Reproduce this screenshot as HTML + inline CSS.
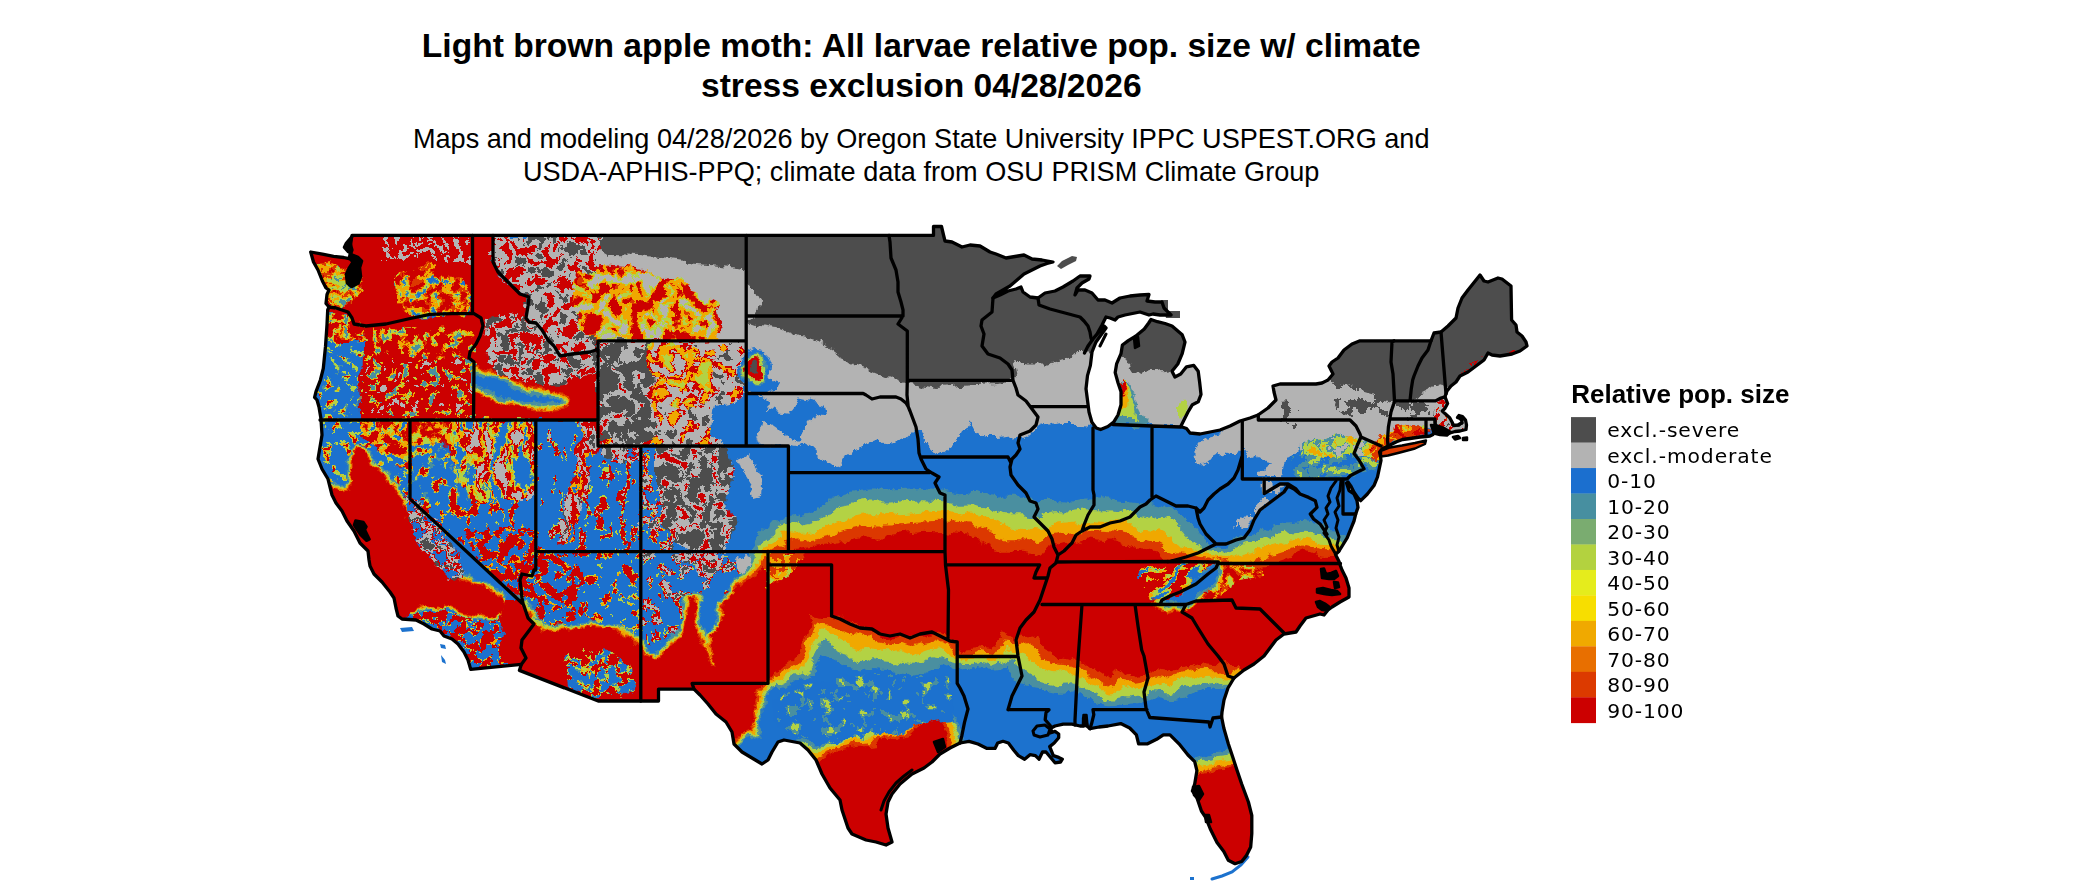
<!DOCTYPE html>
<html><head><meta charset="utf-8"><style>
html,body{margin:0;padding:0;background:#fff;width:2100px;height:892px;overflow:hidden}
svg{position:absolute;left:0;top:0}
.t{font-family:"Liberation Sans",Arial,sans-serif;font-weight:bold;font-size:33.6px;fill:#000}
.s{font-family:"Liberation Sans",Arial,sans-serif;font-size:27.1px;fill:#000}
.lt{font-family:"Liberation Sans",Arial,sans-serif;font-weight:bold;font-size:26px;fill:#000}
.lg{font-family:"DejaVu Sans",sans-serif;font-size:20.3px;letter-spacing:0.9px;fill:#000}
</style></head><body>
<svg width="2100" height="892" viewBox="0 0 2100 892">
<defs><clipPath id="us"><path d="M352,235.4 L933.5,235.4 L933.5,226.5 L941.5,226.5 L943.5,235 L945,241 L952,242 L962,247 L970,245 L980,246 L990,252 L996,254 L1006,258 L1018,256 L1024,255 L1032,259 L1042,260 L1053,262 L1047,263.5 L1040,266 L1024,274 L1010,286 L996,294 L993,298 L1000,295 L1008,291 L1016,289 L1021,287 L1023,292 L1030,297 L1038,298 L1045,293 L1055,291 L1063,287 L1073,281 L1080,276 L1090,276 L1089,279 L1082,283 L1077,288 L1075,295 L1078,290 L1085,290 L1092,293 L1098,300 L1105,300 L1112,303 L1120,298 L1130,296 L1140,295 L1149,294.5 L1147,301 L1155,302 L1162,302 L1164,308 L1168,312 L1171,315 L1160,315 L1153,314 L1149,315 L1140,312 L1135,313 L1125,315 L1118,317 L1115,320 L1110,318 L1106,317 L1102,325 L1097,334 L1092,340 L1087,348 L1084.5,353 L1088,346 L1093,339 L1099,332 L1104,326 L1106,328 L1101,335 L1096,342 L1092,352 L1090.4,365.4 L1087.5,375.6 L1086,388.7 L1087.5,400.3 L1089,412 L1091.9,422.2 L1096.2,428 L1100.6,429.5 L1107.9,426.5 L1113.7,422.2 L1118,415 L1121,404.7 L1121,391.6 L1118,382.8 L1115.2,372.6 L1116.6,363.9 L1121,353.7 L1122.4,345 L1128.3,340.6 L1135.6,336.2 L1144.3,329 L1148.7,323 L1151,319.5 L1157.4,321.7 L1165,323.5 L1172,326 L1182.2,334.8 L1185,342 L1182.2,353.7 L1177.8,364 L1172,371.2 L1174.9,377 L1180.7,374 L1186.5,366.8 L1193.8,365.4 L1198.2,371.2 L1199.7,382.8 L1201,394.5 L1198.2,401.8 L1192.4,404.7 L1188,412 L1183.6,420.7 L1180.7,426.5 L1186.5,428.5 L1190,433 L1200,434 L1210,432 L1220,430 L1230,426 L1240,421 L1250,418 L1258,415 L1268,408 L1276,400 L1274,392 L1273,386 L1280,384 L1300,384 L1316,384 L1322,383 L1328,380 L1333,374 L1329,366 L1332,362 L1338,358 L1344,350 L1352,344 L1360,340.8 L1431,340.8 L1434,333 L1441,332 L1448,326 L1456,318 L1458,308 L1462,298 L1468,290 L1480,275 L1484,281 L1488,282 L1498,278 L1502,279 L1511,286 L1511.6,320 L1516,325 L1517,332 L1522,336 L1526,342 L1527,346 L1520,351 L1512,354 L1500,356 L1492,355 L1488,353 L1484,360 L1476,366 L1468,372 L1460,376 L1456,382 L1451,386 L1447,391 L1445,396.8 L1447.6,403.5 L1445,408.3 L1442.3,411 L1445,413.6 L1449.7,417.7 L1452,422 L1453.5,425.5 L1458,425 L1461.5,423 L1462,420.5 L1460,418.5 L1457.5,417.5 L1459,415.5 L1462.5,416.5 L1465.5,420 L1466.5,425 L1466,429.5 L1460,431 L1455,431.5 L1450,433 L1447.6,433 L1441,431 L1436.2,428.4 L1435,431 L1433,434.5 L1430,436 L1426,436.5 L1420,437 L1410,438.5 L1402.5,439.5 L1396.6,441.7 L1388,446 L1382,449 L1379.5,452 L1380.5,456 L1381,460.4 L1379.2,468.8 L1377.5,477 L1374,485.6 L1367.4,494 L1360.7,500.7 L1358,498 L1354,492.3 L1350.6,485.6 L1348,482 L1346.5,483 L1349,490.6 L1354,494 L1357,500.7 L1358,507.4 L1355.7,514 L1354,521 L1350.6,529.3 L1347.3,537.7 L1342.2,546 L1338.9,551.2 L1335.5,554.5 L1338.9,561.2 L1340.5,566 L1342,570 L1346,578 L1349,588 L1349,597 L1340,602 L1332,607 L1328,610 L1324,615 L1320,614 L1306,618 L1300,626 L1296,632 L1290,633 L1284,634 L1276,640 L1270,648 L1264,656 L1254,664 L1244,670 L1234,678 L1228,688 L1224,700 L1222,712 L1221.6,717 L1223.8,728 L1228.3,743.8 L1232.8,757.2 L1237.2,770.7 L1241.7,784 L1248.4,802 L1251.8,815.5 L1251.8,833.5 L1250.7,846.9 L1246.2,855.9 L1241.7,861.5 L1235,863.7 L1228.3,860.3 L1223.8,851.4 L1217,842.4 L1210.3,829 L1205.9,817.8 L1201.4,811 L1196.9,797.6 L1192.4,790.9 L1194.7,784 L1196.9,770.7 L1194.7,761.7 L1188,755 L1179,743.8 L1170,734.8 L1163.3,734.8 L1156.6,739.3 L1147.6,743.8 L1138.6,743.8 L1136.4,734.8 L1129.7,728 L1120.7,723.6 L1108,726 L1099,727 L1090,728.7 L1087,726 L1085.5,718 L1083.5,718 L1083.5,726 L1080,726 L1072,724.2 L1063.2,724.2 L1055,726 L1051.5,727.8 L1050,733 L1055,731.4 L1058.7,734 L1058.7,737.7 L1054.2,743 L1049.7,746.6 L1053.3,755.6 L1058.7,757.4 L1062.3,759.2 L1060.5,762 L1055,762.8 L1046,752 L1042.5,752 L1039,759.2 L1035.4,755.6 L1030,754.7 L1024.6,759.2 L1018.3,755.6 L1013.8,750.2 L1008.4,743 L1003,741.3 L997.7,743 L995,748.4 L987,748.4 L978,744 L969,741.3 L960,743 L950,748 L940,754 L932,762 L924,768 L912,774 L900,784 L892,794 L888,802 L886,814 L888,828 L892,842 L886,845 L876,842 L866,840 L852,834 L848,828 L842,810 L840,800 L830,788 L822,774 L816,760 L808,750 L800,743 L784,740 L778,742 L772,752 L768,760 L762,764 L752,758 L742,752 L734,744 L732,732 L726,722 L716,714 L708,704 L700,695 L694,689.1 L658.5,689.1 L658.5,701 L598.2,701 L519.4,670.4 L521.3,664.4 L470.7,669.4 L468,660 L464,652 L458,644 L452,639 L444,636 L440,631 L432,629 L424,624 L416,620 L402,619 L398,616 L396,608 L394,598 L390,592 L382,582 L374,574 L370,566 L369,560 L368,551 L360,543 L354,531 L347,521 L342,511 L336,503 L332,495 L328,479 L322,469 L318,459 L320,447 L322,435 L321,419 L319,407 L317,400 L314.6,397.4 L316,391.6 L320.4,380 L323.3,368.3 L325.5,346.4 L327,324.6 L327.7,310 L329,307 L326,303.5 L327,294.5 L329,290 L326,288 L322.4,281 L318,270 L313.5,262 L310.7,252 L322.4,254.2 L333.6,256.4 L343.7,257.5 L349,258.6 L352,250 L350,243 L352,236Z"/></clipPath></defs>
<text x="921.3" y="57.3" text-anchor="middle" class="t">Light brown apple moth: All larvae relative pop. size w/ climate</text>
<text x="921.3" y="96.8" text-anchor="middle" class="t">stress exclusion 04/28/2026</text>
<text x="921.2" y="148.1" text-anchor="middle" class="s">Maps and modeling 04/28/2026 by Oregon State University IPPC USPEST.ORG and</text>
<text x="921.2" y="180.5" text-anchor="middle" class="s">USDA-APHIS-PPQ; climate data from OSU PRISM Climate Group</text>
<filter id="disp" x="250" y="200" width="1350" height="700" filterUnits="userSpaceOnUse" color-interpolation-filters="sRGB">
<feTurbulence type="fractalNoise" baseFrequency="0.045" numOctaves="3" seed="5" result="t"/>
<feDisplacementMap in="SourceGraphic" in2="t" scale="16" xChannelSelector="R" yChannelSelector="G" result="d1"/>
<feTurbulence type="fractalNoise" baseFrequency="0.3" numOctaves="1" seed="9" result="t2"/>
<feDisplacementMap in="d1" in2="t2" scale="4" xChannelSelector="R" yChannelSelector="G"/>
</filter>
<g clip-path="url(#us)">
<rect x="250" y="200" width="1350" height="700" fill="#1c72ce"/>
<g filter="url(#disp)">
<filter id="tf1" x="316" y="416" width="98" height="86" filterUnits="userSpaceOnUse" color-interpolation-filters="sRGB"><feTurbulence type="fractalNoise" baseFrequency="0.1" numOctaves="3" seed="3"/><feColorMatrix type="matrix" values="1 0 0 0 0 1 0 0 0 0 1 0 0 0 0 0 0 0 0 1"/><feComponentTransfer><feFuncR type="table" tableValues="0 0 0 0 0.003 0.014 0.047 0.11 0.209 0.331 0.494 0.672 0.802 0.888 0.95 0.984 0.997 1 1 1 1"/><feFuncG type="table" tableValues="0 0 0 0 0.003 0.014 0.047 0.11 0.209 0.331 0.494 0.672 0.802 0.888 0.95 0.984 0.997 1 1 1 1"/><feFuncB type="table" tableValues="0 0 0 0 0.003 0.014 0.047 0.11 0.209 0.331 0.494 0.672 0.802 0.888 0.95 0.984 0.997 1 1 1 1"/></feComponentTransfer><feComponentTransfer><feFuncR type="discrete" tableValues="0.110 0.110 0.110 0.110 0.110 0.110 0.110 0.110 0.110 0.110 0.110 0.110 0.110 0.110 0.110 0.110 0.110 0.110 0.110 0.110 0.110 0.110 0.110 0.110 0.110 0.110 0.110 0.110 0.110 0.110 0.290 0.290 0.702 0.702 0.702 0.702 0.941 0.941 0.800 0.800"/><feFuncG type="discrete" tableValues="0.447 0.447 0.447 0.447 0.447 0.447 0.447 0.447 0.447 0.447 0.447 0.447 0.447 0.447 0.447 0.447 0.447 0.447 0.447 0.447 0.447 0.447 0.447 0.447 0.447 0.447 0.447 0.447 0.447 0.447 0.561 0.561 0.824 0.824 0.824 0.824 0.659 0.659 0.000 0.000"/><feFuncB type="discrete" tableValues="0.808 0.808 0.808 0.808 0.808 0.808 0.808 0.808 0.808 0.808 0.808 0.808 0.808 0.808 0.808 0.808 0.808 0.808 0.808 0.808 0.808 0.808 0.808 0.808 0.808 0.808 0.808 0.808 0.808 0.808 0.627 0.627 0.267 0.267 0.267 0.267 0.000 0.000 0.000 0.000"/><feFuncA type="discrete" tableValues="1.000 1.000 1.000 1.000 1.000 1.000 1.000 1.000 1.000 1.000 1.000 1.000 1.000 1.000 1.000 1.000 1.000 1.000 1.000 1.000 1.000 1.000 1.000 1.000 1.000 1.000 1.000 1.000 1.000 1.000 1.000 1.000 1.000 1.000 1.000 1.000 1.000 1.000 1.000 1.000"/></feComponentTransfer></filter><clipPath id="tc1"><path d="M318,418 L412,418 L412,500 L400,500 L385,480 L372,465 L362,450 L350,455 L348,485 L330,490 L318,460Z"/></clipPath><rect x="316" y="416" width="98" height="86" filter="url(#tf1)" clip-path="url(#tc1)"/>
<filter id="tf2" x="358" y="418" width="54" height="54" filterUnits="userSpaceOnUse" color-interpolation-filters="sRGB"><feTurbulence type="fractalNoise" baseFrequency="0.09" numOctaves="3" seed="5"/><feColorMatrix type="matrix" values="1 0 0 0 0 1 0 0 0 0 1 0 0 0 0 0 0 0 0 1"/><feComponentTransfer><feFuncR type="table" tableValues="0 0 0 0 0.003 0.014 0.047 0.11 0.209 0.331 0.494 0.672 0.802 0.888 0.95 0.984 0.997 1 1 1 1"/><feFuncG type="table" tableValues="0 0 0 0 0.003 0.014 0.047 0.11 0.209 0.331 0.494 0.672 0.802 0.888 0.95 0.984 0.997 1 1 1 1"/><feFuncB type="table" tableValues="0 0 0 0 0.003 0.014 0.047 0.11 0.209 0.331 0.494 0.672 0.802 0.888 0.95 0.984 0.997 1 1 1 1"/></feComponentTransfer><feComponentTransfer><feFuncR type="discrete" tableValues="0.110 0.110 0.110 0.110 0.110 0.702 0.702 0.702 0.702 0.702 0.702 0.941 0.941 0.941 0.941 0.941 0.941 0.941 0.941 0.941 0.941 0.863 0.863 0.863 0.863 0.800 0.800 0.800 0.800 0.800 0.800 0.800 0.800 0.800 0.800 0.800 0.800 0.800 0.800 0.800"/><feFuncG type="discrete" tableValues="0.447 0.447 0.447 0.447 0.447 0.824 0.824 0.824 0.824 0.824 0.824 0.659 0.659 0.659 0.659 0.659 0.659 0.659 0.659 0.659 0.659 0.220 0.220 0.220 0.220 0.000 0.000 0.000 0.000 0.000 0.000 0.000 0.000 0.000 0.000 0.000 0.000 0.000 0.000 0.000"/><feFuncB type="discrete" tableValues="0.808 0.808 0.808 0.808 0.808 0.267 0.267 0.267 0.267 0.267 0.267 0.000 0.000 0.000 0.000 0.000 0.000 0.000 0.000 0.000 0.000 0.000 0.000 0.000 0.000 0.000 0.000 0.000 0.000 0.000 0.000 0.000 0.000 0.000 0.000 0.000 0.000 0.000 0.000 0.000"/><feFuncA type="discrete" tableValues="1.000 1.000 1.000 1.000 1.000 1.000 1.000 1.000 1.000 1.000 1.000 1.000 1.000 1.000 1.000 1.000 1.000 1.000 1.000 1.000 1.000 1.000 1.000 1.000 1.000 1.000 1.000 1.000 1.000 1.000 1.000 1.000 1.000 1.000 1.000 1.000 1.000 1.000 1.000 1.000"/></feComponentTransfer></filter><clipPath id="tc2"><path d="M360,420 L410,420 L410,470 L390,465 L375,445 L360,435Z"/></clipPath><rect x="358" y="418" width="54" height="54" filter="url(#tf2)" clip-path="url(#tc2)"/>
<filter id="tf3" x="408" y="418" width="64" height="89" filterUnits="userSpaceOnUse" color-interpolation-filters="sRGB"><feTurbulence type="fractalNoise" baseFrequency="0.1" numOctaves="3" seed="6"/><feColorMatrix type="matrix" values="1 0 0 0 0 1 0 0 0 0 1 0 0 0 0 0 0 0 0 1"/><feComponentTransfer><feFuncR type="table" tableValues="0 0 0 0 0.003 0.014 0.047 0.11 0.209 0.331 0.494 0.672 0.802 0.888 0.95 0.984 0.997 1 1 1 1"/><feFuncG type="table" tableValues="0 0 0 0 0.003 0.014 0.047 0.11 0.209 0.331 0.494 0.672 0.802 0.888 0.95 0.984 0.997 1 1 1 1"/><feFuncB type="table" tableValues="0 0 0 0 0.003 0.014 0.047 0.11 0.209 0.331 0.494 0.672 0.802 0.888 0.95 0.984 0.997 1 1 1 1"/></feComponentTransfer><feComponentTransfer><feFuncR type="discrete" tableValues="0.110 0.110 0.110 0.110 0.110 0.110 0.110 0.110 0.110 0.110 0.110 0.110 0.110 0.110 0.110 0.110 0.110 0.110 0.110 0.110 0.110 0.110 0.110 0.110 0.110 0.110 0.110 0.290 0.290 0.290 0.290 0.290 0.702 0.702 0.702 0.941 0.941 0.800 0.800 0.800"/><feFuncG type="discrete" tableValues="0.447 0.447 0.447 0.447 0.447 0.447 0.447 0.447 0.447 0.447 0.447 0.447 0.447 0.447 0.447 0.447 0.447 0.447 0.447 0.447 0.447 0.447 0.447 0.447 0.447 0.447 0.447 0.561 0.561 0.561 0.561 0.561 0.824 0.824 0.824 0.659 0.659 0.000 0.000 0.000"/><feFuncB type="discrete" tableValues="0.808 0.808 0.808 0.808 0.808 0.808 0.808 0.808 0.808 0.808 0.808 0.808 0.808 0.808 0.808 0.808 0.808 0.808 0.808 0.808 0.808 0.808 0.808 0.808 0.808 0.808 0.808 0.627 0.627 0.627 0.627 0.627 0.267 0.267 0.267 0.000 0.000 0.000 0.000 0.000"/><feFuncA type="discrete" tableValues="1.000 1.000 1.000 1.000 1.000 1.000 1.000 1.000 1.000 1.000 1.000 1.000 1.000 1.000 1.000 1.000 1.000 1.000 1.000 1.000 1.000 1.000 1.000 1.000 1.000 1.000 1.000 1.000 1.000 1.000 1.000 1.000 1.000 1.000 1.000 1.000 1.000 1.000 1.000 1.000"/></feComponentTransfer></filter><clipPath id="tc3"><path d="M410,420 L450,420 L448,440 L455,470 L470,500 L440,505 L410,500Z"/></clipPath><rect x="408" y="418" width="64" height="89" filter="url(#tf3)" clip-path="url(#tc3)"/>
<filter id="tf4" x="408" y="418" width="130" height="30" filterUnits="userSpaceOnUse" color-interpolation-filters="sRGB"><feTurbulence type="fractalNoise" baseFrequency="0.1" numOctaves="3" seed="4"/><feColorMatrix type="matrix" values="1 0 0 0 0 1 0 0 0 0 1 0 0 0 0 0 0 0 0 1"/><feComponentTransfer><feFuncR type="table" tableValues="0 0 0 0 0.003 0.014 0.047 0.11 0.209 0.331 0.494 0.672 0.802 0.888 0.95 0.984 0.997 1 1 1 1"/><feFuncG type="table" tableValues="0 0 0 0 0.003 0.014 0.047 0.11 0.209 0.331 0.494 0.672 0.802 0.888 0.95 0.984 0.997 1 1 1 1"/><feFuncB type="table" tableValues="0 0 0 0 0.003 0.014 0.047 0.11 0.209 0.331 0.494 0.672 0.802 0.888 0.95 0.984 0.997 1 1 1 1"/></feComponentTransfer><feComponentTransfer><feFuncR type="discrete" tableValues="0.702 0.702 0.702 0.702 0.702 0.702 0.702 0.702 0.941 0.941 0.941 0.941 0.941 0.941 0.941 0.941 0.941 0.941 0.863 0.863 0.863 0.863 0.863 0.863 0.800 0.800 0.800 0.800 0.800 0.800 0.800 0.800 0.800 0.800 0.800 0.800 0.800 0.800 0.800 0.800"/><feFuncG type="discrete" tableValues="0.824 0.824 0.824 0.824 0.824 0.824 0.824 0.824 0.659 0.659 0.659 0.659 0.659 0.659 0.659 0.659 0.659 0.659 0.220 0.220 0.220 0.220 0.220 0.220 0.000 0.000 0.000 0.000 0.000 0.000 0.000 0.000 0.000 0.000 0.000 0.000 0.000 0.000 0.000 0.000"/><feFuncB type="discrete" tableValues="0.267 0.267 0.267 0.267 0.267 0.267 0.267 0.267 0.000 0.000 0.000 0.000 0.000 0.000 0.000 0.000 0.000 0.000 0.000 0.000 0.000 0.000 0.000 0.000 0.000 0.000 0.000 0.000 0.000 0.000 0.000 0.000 0.000 0.000 0.000 0.000 0.000 0.000 0.000 0.000"/><feFuncA type="discrete" tableValues="1.000 1.000 1.000 1.000 1.000 1.000 1.000 1.000 1.000 1.000 1.000 1.000 1.000 1.000 1.000 1.000 1.000 1.000 1.000 1.000 1.000 1.000 1.000 1.000 1.000 1.000 1.000 1.000 1.000 1.000 1.000 1.000 1.000 1.000 1.000 1.000 1.000 1.000 1.000 1.000"/></feComponentTransfer></filter><clipPath id="tc4"><path d="M410,420 L536,420 L536,440 L470,442 L410,446Z"/></clipPath><rect x="408" y="418" width="130" height="30" filter="url(#tf4)" clip-path="url(#tc4)"/>
<filter id="tf5" x="446" y="418" width="92" height="96" filterUnits="userSpaceOnUse" color-interpolation-filters="sRGB"><feTurbulence type="fractalNoise" baseFrequency="0.11 0.035" numOctaves="3" seed="7"/><feColorMatrix type="matrix" values="1 0 0 0 0 1 0 0 0 0 1 0 0 0 0 0 0 0 0 1"/><feComponentTransfer><feFuncR type="table" tableValues="0 0 0 0 0.003 0.014 0.047 0.11 0.209 0.331 0.494 0.672 0.802 0.888 0.95 0.984 0.997 1 1 1 1"/><feFuncG type="table" tableValues="0 0 0 0 0.003 0.014 0.047 0.11 0.209 0.331 0.494 0.672 0.802 0.888 0.95 0.984 0.997 1 1 1 1"/><feFuncB type="table" tableValues="0 0 0 0 0.003 0.014 0.047 0.11 0.209 0.331 0.494 0.672 0.802 0.888 0.95 0.984 0.997 1 1 1 1"/></feComponentTransfer><feComponentTransfer><feFuncR type="discrete" tableValues="0.110 0.110 0.110 0.110 0.110 0.110 0.110 0.110 0.110 0.110 0.290 0.290 0.702 0.702 0.702 0.702 0.702 0.702 0.941 0.941 0.941 0.941 0.941 0.941 0.800 0.800 0.800 0.800 0.800 0.800 0.800 0.800 0.800 0.800 0.702 0.702 0.702 0.702 0.702 0.702"/><feFuncG type="discrete" tableValues="0.447 0.447 0.447 0.447 0.447 0.447 0.447 0.447 0.447 0.447 0.561 0.561 0.824 0.824 0.824 0.824 0.824 0.824 0.659 0.659 0.659 0.659 0.659 0.659 0.000 0.000 0.000 0.000 0.000 0.000 0.000 0.000 0.000 0.000 0.702 0.702 0.702 0.702 0.702 0.702"/><feFuncB type="discrete" tableValues="0.808 0.808 0.808 0.808 0.808 0.808 0.808 0.808 0.808 0.808 0.627 0.627 0.267 0.267 0.267 0.267 0.267 0.267 0.000 0.000 0.000 0.000 0.000 0.000 0.000 0.000 0.000 0.000 0.000 0.000 0.000 0.000 0.000 0.000 0.702 0.702 0.702 0.702 0.702 0.702"/><feFuncA type="discrete" tableValues="1.000 1.000 1.000 1.000 1.000 1.000 1.000 1.000 1.000 1.000 1.000 1.000 1.000 1.000 1.000 1.000 1.000 1.000 1.000 1.000 1.000 1.000 1.000 1.000 1.000 1.000 1.000 1.000 1.000 1.000 1.000 1.000 1.000 1.000 1.000 1.000 1.000 1.000 1.000 1.000"/></feComponentTransfer></filter><clipPath id="tc5"><path d="M448,420 L536,420 L536,505 L500,512 L470,500 L455,470 L448,440Z"/></clipPath><rect x="446" y="418" width="92" height="96" filter="url(#tf5)" clip-path="url(#tc5)"/>
<filter id="tf6" x="418" y="498" width="120" height="56" filterUnits="userSpaceOnUse" color-interpolation-filters="sRGB"><feTurbulence type="fractalNoise" baseFrequency="0.12 0.05" numOctaves="3" seed="8"/><feColorMatrix type="matrix" values="1 0 0 0 0 1 0 0 0 0 1 0 0 0 0 0 0 0 0 1"/><feComponentTransfer><feFuncR type="table" tableValues="0 0 0 0 0.003 0.014 0.047 0.11 0.209 0.331 0.494 0.672 0.802 0.888 0.95 0.984 0.997 1 1 1 1"/><feFuncG type="table" tableValues="0 0 0 0 0.003 0.014 0.047 0.11 0.209 0.331 0.494 0.672 0.802 0.888 0.95 0.984 0.997 1 1 1 1"/><feFuncB type="table" tableValues="0 0 0 0 0.003 0.014 0.047 0.11 0.209 0.331 0.494 0.672 0.802 0.888 0.95 0.984 0.997 1 1 1 1"/></feComponentTransfer><feComponentTransfer><feFuncR type="discrete" tableValues="0.110 0.110 0.110 0.110 0.110 0.110 0.110 0.110 0.110 0.110 0.110 0.110 0.110 0.110 0.110 0.110 0.110 0.110 0.110 0.110 0.110 0.110 0.110 0.110 0.110 0.110 0.110 0.110 0.110 0.110 0.702 0.702 0.941 0.941 0.800 0.800 0.800 0.800 0.800 0.800"/><feFuncG type="discrete" tableValues="0.447 0.447 0.447 0.447 0.447 0.447 0.447 0.447 0.447 0.447 0.447 0.447 0.447 0.447 0.447 0.447 0.447 0.447 0.447 0.447 0.447 0.447 0.447 0.447 0.447 0.447 0.447 0.447 0.447 0.447 0.824 0.824 0.659 0.659 0.000 0.000 0.000 0.000 0.000 0.000"/><feFuncB type="discrete" tableValues="0.808 0.808 0.808 0.808 0.808 0.808 0.808 0.808 0.808 0.808 0.808 0.808 0.808 0.808 0.808 0.808 0.808 0.808 0.808 0.808 0.808 0.808 0.808 0.808 0.808 0.808 0.808 0.808 0.808 0.808 0.267 0.267 0.000 0.000 0.000 0.000 0.000 0.000 0.000 0.000"/><feFuncA type="discrete" tableValues="1.000 1.000 1.000 1.000 1.000 1.000 1.000 1.000 1.000 1.000 1.000 1.000 1.000 1.000 1.000 1.000 1.000 1.000 1.000 1.000 1.000 1.000 1.000 1.000 1.000 1.000 1.000 1.000 1.000 1.000 1.000 1.000 1.000 1.000 1.000 1.000 1.000 1.000 1.000 1.000"/></feComponentTransfer></filter><clipPath id="tc6"><path d="M420,500 L536,500 L536,552 L470,552 L430,520Z"/></clipPath><rect x="418" y="498" width="120" height="56" filter="url(#tf6)" clip-path="url(#tc6)"/>
<filter id="tf7" x="463" y="526" width="75" height="76" filterUnits="userSpaceOnUse" color-interpolation-filters="sRGB"><feTurbulence type="fractalNoise" baseFrequency="0.1" numOctaves="3" seed="9"/><feColorMatrix type="matrix" values="1 0 0 0 0 1 0 0 0 0 1 0 0 0 0 0 0 0 0 1"/><feComponentTransfer><feFuncR type="table" tableValues="0 0 0 0 0.003 0.014 0.047 0.11 0.209 0.331 0.494 0.672 0.802 0.888 0.95 0.984 0.997 1 1 1 1"/><feFuncG type="table" tableValues="0 0 0 0 0.003 0.014 0.047 0.11 0.209 0.331 0.494 0.672 0.802 0.888 0.95 0.984 0.997 1 1 1 1"/><feFuncB type="table" tableValues="0 0 0 0 0.003 0.014 0.047 0.11 0.209 0.331 0.494 0.672 0.802 0.888 0.95 0.984 0.997 1 1 1 1"/></feComponentTransfer><feComponentTransfer><feFuncR type="discrete" tableValues="0.110 0.110 0.110 0.110 0.110 0.110 0.110 0.110 0.110 0.110 0.110 0.110 0.110 0.110 0.941 0.941 0.941 0.941 0.800 0.800 0.800 0.800 0.800 0.800 0.800 0.800 0.800 0.800 0.800 0.800 0.800 0.800 0.800 0.800 0.800 0.800 0.800 0.800 0.800 0.800"/><feFuncG type="discrete" tableValues="0.447 0.447 0.447 0.447 0.447 0.447 0.447 0.447 0.447 0.447 0.447 0.447 0.447 0.447 0.659 0.659 0.659 0.659 0.000 0.000 0.000 0.000 0.000 0.000 0.000 0.000 0.000 0.000 0.000 0.000 0.000 0.000 0.000 0.000 0.000 0.000 0.000 0.000 0.000 0.000"/><feFuncB type="discrete" tableValues="0.808 0.808 0.808 0.808 0.808 0.808 0.808 0.808 0.808 0.808 0.808 0.808 0.808 0.808 0.000 0.000 0.000 0.000 0.000 0.000 0.000 0.000 0.000 0.000 0.000 0.000 0.000 0.000 0.000 0.000 0.000 0.000 0.000 0.000 0.000 0.000 0.000 0.000 0.000 0.000"/><feFuncA type="discrete" tableValues="1.000 1.000 1.000 1.000 1.000 1.000 1.000 1.000 1.000 1.000 1.000 1.000 1.000 1.000 1.000 1.000 1.000 1.000 1.000 1.000 1.000 1.000 1.000 1.000 1.000 1.000 1.000 1.000 1.000 1.000 1.000 1.000 1.000 1.000 1.000 1.000 1.000 1.000 1.000 1.000"/></feComponentTransfer></filter><clipPath id="tc7"><path d="M465,528 L536,528 L536,575 L520,600 L500,580 L470,548Z"/></clipPath><rect x="463" y="526" width="75" height="76" filter="url(#tf7)" clip-path="url(#tc7)"/>
<filter id="tf8" x="398" y="573" width="132" height="99" filterUnits="userSpaceOnUse" color-interpolation-filters="sRGB"><feTurbulence type="fractalNoise" baseFrequency="0.09" numOctaves="3" seed="11"/><feColorMatrix type="matrix" values="1 0 0 0 0 1 0 0 0 0 1 0 0 0 0 0 0 0 0 1"/><feComponentTransfer><feFuncR type="table" tableValues="0 0 0 0 0.003 0.014 0.047 0.11 0.209 0.331 0.494 0.672 0.802 0.888 0.95 0.984 0.997 1 1 1 1"/><feFuncG type="table" tableValues="0 0 0 0 0.003 0.014 0.047 0.11 0.209 0.331 0.494 0.672 0.802 0.888 0.95 0.984 0.997 1 1 1 1"/><feFuncB type="table" tableValues="0 0 0 0 0.003 0.014 0.047 0.11 0.209 0.331 0.494 0.672 0.802 0.888 0.95 0.984 0.997 1 1 1 1"/></feComponentTransfer><feComponentTransfer><feFuncR type="discrete" tableValues="0.110 0.110 0.110 0.110 0.110 0.110 0.110 0.110 0.110 0.110 0.110 0.110 0.110 0.110 0.110 0.110 0.110 0.110 0.702 0.702 0.941 0.941 0.800 0.800 0.800 0.800 0.800 0.800 0.800 0.800 0.800 0.800 0.800 0.800 0.800 0.800 0.800 0.800 0.800 0.800"/><feFuncG type="discrete" tableValues="0.447 0.447 0.447 0.447 0.447 0.447 0.447 0.447 0.447 0.447 0.447 0.447 0.447 0.447 0.447 0.447 0.447 0.447 0.824 0.824 0.659 0.659 0.000 0.000 0.000 0.000 0.000 0.000 0.000 0.000 0.000 0.000 0.000 0.000 0.000 0.000 0.000 0.000 0.000 0.000"/><feFuncB type="discrete" tableValues="0.808 0.808 0.808 0.808 0.808 0.808 0.808 0.808 0.808 0.808 0.808 0.808 0.808 0.808 0.808 0.808 0.808 0.808 0.267 0.267 0.000 0.000 0.000 0.000 0.000 0.000 0.000 0.000 0.000 0.000 0.000 0.000 0.000 0.000 0.000 0.000 0.000 0.000 0.000 0.000"/><feFuncA type="discrete" tableValues="1.000 1.000 1.000 1.000 1.000 1.000 1.000 1.000 1.000 1.000 1.000 1.000 1.000 1.000 1.000 1.000 1.000 1.000 1.000 1.000 1.000 1.000 1.000 1.000 1.000 1.000 1.000 1.000 1.000 1.000 1.000 1.000 1.000 1.000 1.000 1.000 1.000 1.000 1.000 1.000"/></feComponentTransfer></filter><clipPath id="tc8"><path d="M400,575 L440,575 L470,590 L500,600 L521,600 L528,640 L520,668 L470,670 L460,645 L430,630 L400,620Z"/></clipPath><rect x="398" y="573" width="132" height="99" filter="url(#tf8)" clip-path="url(#tc8)"/>
<filter id="tf9" x="520" y="550" width="67" height="82" filterUnits="userSpaceOnUse" color-interpolation-filters="sRGB"><feTurbulence type="fractalNoise" baseFrequency="0.09" numOctaves="3" seed="13"/><feColorMatrix type="matrix" values="1 0 0 0 0 1 0 0 0 0 1 0 0 0 0 0 0 0 0 1"/><feComponentTransfer><feFuncR type="table" tableValues="0 0 0 0 0.003 0.014 0.047 0.11 0.209 0.331 0.494 0.672 0.802 0.888 0.95 0.984 0.997 1 1 1 1"/><feFuncG type="table" tableValues="0 0 0 0 0.003 0.014 0.047 0.11 0.209 0.331 0.494 0.672 0.802 0.888 0.95 0.984 0.997 1 1 1 1"/><feFuncB type="table" tableValues="0 0 0 0 0.003 0.014 0.047 0.11 0.209 0.331 0.494 0.672 0.802 0.888 0.95 0.984 0.997 1 1 1 1"/></feComponentTransfer><feComponentTransfer><feFuncR type="discrete" tableValues="0.110 0.110 0.110 0.110 0.110 0.110 0.110 0.110 0.110 0.110 0.110 0.110 0.110 0.110 0.110 0.110 0.110 0.110 0.702 0.702 0.941 0.941 0.800 0.800 0.800 0.800 0.800 0.800 0.800 0.800 0.800 0.800 0.800 0.800 0.800 0.800 0.800 0.800 0.800 0.800"/><feFuncG type="discrete" tableValues="0.447 0.447 0.447 0.447 0.447 0.447 0.447 0.447 0.447 0.447 0.447 0.447 0.447 0.447 0.447 0.447 0.447 0.447 0.824 0.824 0.659 0.659 0.000 0.000 0.000 0.000 0.000 0.000 0.000 0.000 0.000 0.000 0.000 0.000 0.000 0.000 0.000 0.000 0.000 0.000"/><feFuncB type="discrete" tableValues="0.808 0.808 0.808 0.808 0.808 0.808 0.808 0.808 0.808 0.808 0.808 0.808 0.808 0.808 0.808 0.808 0.808 0.808 0.267 0.267 0.000 0.000 0.000 0.000 0.000 0.000 0.000 0.000 0.000 0.000 0.000 0.000 0.000 0.000 0.000 0.000 0.000 0.000 0.000 0.000"/><feFuncA type="discrete" tableValues="1.000 1.000 1.000 1.000 1.000 1.000 1.000 1.000 1.000 1.000 1.000 1.000 1.000 1.000 1.000 1.000 1.000 1.000 1.000 1.000 1.000 1.000 1.000 1.000 1.000 1.000 1.000 1.000 1.000 1.000 1.000 1.000 1.000 1.000 1.000 1.000 1.000 1.000 1.000 1.000"/></feComponentTransfer></filter><clipPath id="tc9"><path d="M522,552 L585,552 L585,610 L560,630 L530,620 L522,600Z"/></clipPath><rect x="520" y="550" width="67" height="82" filter="url(#tf9)" clip-path="url(#tc9)"/>
<filter id="tf10" x="583" y="550" width="60" height="97" filterUnits="userSpaceOnUse" color-interpolation-filters="sRGB"><feTurbulence type="fractalNoise" baseFrequency="0.08" numOctaves="3" seed="14"/><feColorMatrix type="matrix" values="1 0 0 0 0 1 0 0 0 0 1 0 0 0 0 0 0 0 0 1"/><feComponentTransfer><feFuncR type="table" tableValues="0 0 0 0 0.003 0.014 0.047 0.11 0.209 0.331 0.494 0.672 0.802 0.888 0.95 0.984 0.997 1 1 1 1"/><feFuncG type="table" tableValues="0 0 0 0 0.003 0.014 0.047 0.11 0.209 0.331 0.494 0.672 0.802 0.888 0.95 0.984 0.997 1 1 1 1"/><feFuncB type="table" tableValues="0 0 0 0 0.003 0.014 0.047 0.11 0.209 0.331 0.494 0.672 0.802 0.888 0.95 0.984 0.997 1 1 1 1"/></feComponentTransfer><feComponentTransfer><feFuncR type="discrete" tableValues="0.110 0.110 0.110 0.110 0.110 0.110 0.110 0.110 0.110 0.110 0.110 0.110 0.110 0.110 0.110 0.110 0.110 0.110 0.110 0.110 0.110 0.110 0.110 0.110 0.110 0.110 0.110 0.110 0.110 0.702 0.702 0.702 0.941 0.941 0.800 0.800 0.800 0.800 0.800 0.800"/><feFuncG type="discrete" tableValues="0.447 0.447 0.447 0.447 0.447 0.447 0.447 0.447 0.447 0.447 0.447 0.447 0.447 0.447 0.447 0.447 0.447 0.447 0.447 0.447 0.447 0.447 0.447 0.447 0.447 0.447 0.447 0.447 0.447 0.824 0.824 0.824 0.659 0.659 0.000 0.000 0.000 0.000 0.000 0.000"/><feFuncB type="discrete" tableValues="0.808 0.808 0.808 0.808 0.808 0.808 0.808 0.808 0.808 0.808 0.808 0.808 0.808 0.808 0.808 0.808 0.808 0.808 0.808 0.808 0.808 0.808 0.808 0.808 0.808 0.808 0.808 0.808 0.808 0.267 0.267 0.267 0.000 0.000 0.000 0.000 0.000 0.000 0.000 0.000"/><feFuncA type="discrete" tableValues="1.000 1.000 1.000 1.000 1.000 1.000 1.000 1.000 1.000 1.000 1.000 1.000 1.000 1.000 1.000 1.000 1.000 1.000 1.000 1.000 1.000 1.000 1.000 1.000 1.000 1.000 1.000 1.000 1.000 1.000 1.000 1.000 1.000 1.000 1.000 1.000 1.000 1.000 1.000 1.000"/></feComponentTransfer></filter><clipPath id="tc10"><path d="M585,552 L641,552 L641,645 L600,628 L585,615Z"/></clipPath><rect x="583" y="550" width="60" height="97" filter="url(#tf10)" clip-path="url(#tc10)"/>
<filter id="tf11" x="534" y="418" width="54" height="136" filterUnits="userSpaceOnUse" color-interpolation-filters="sRGB"><feTurbulence type="fractalNoise" baseFrequency="0.12 0.05" numOctaves="3" seed="17"/><feColorMatrix type="matrix" values="1 0 0 0 0 1 0 0 0 0 1 0 0 0 0 0 0 0 0 1"/><feComponentTransfer><feFuncR type="table" tableValues="0 0 0 0 0.003 0.014 0.047 0.11 0.209 0.331 0.494 0.672 0.802 0.888 0.95 0.984 0.997 1 1 1 1"/><feFuncG type="table" tableValues="0 0 0 0 0.003 0.014 0.047 0.11 0.209 0.331 0.494 0.672 0.802 0.888 0.95 0.984 0.997 1 1 1 1"/><feFuncB type="table" tableValues="0 0 0 0 0.003 0.014 0.047 0.11 0.209 0.331 0.494 0.672 0.802 0.888 0.95 0.984 0.997 1 1 1 1"/></feComponentTransfer><feComponentTransfer><feFuncR type="discrete" tableValues="0.110 0.110 0.110 0.110 0.110 0.110 0.110 0.110 0.110 0.110 0.110 0.110 0.110 0.110 0.110 0.110 0.110 0.110 0.110 0.110 0.110 0.110 0.110 0.110 0.110 0.110 0.110 0.110 0.110 0.110 0.110 0.110 0.110 0.110 0.702 0.702 0.800 0.800 0.800 0.702"/><feFuncG type="discrete" tableValues="0.447 0.447 0.447 0.447 0.447 0.447 0.447 0.447 0.447 0.447 0.447 0.447 0.447 0.447 0.447 0.447 0.447 0.447 0.447 0.447 0.447 0.447 0.447 0.447 0.447 0.447 0.447 0.447 0.447 0.447 0.447 0.447 0.447 0.447 0.824 0.824 0.000 0.000 0.000 0.702"/><feFuncB type="discrete" tableValues="0.808 0.808 0.808 0.808 0.808 0.808 0.808 0.808 0.808 0.808 0.808 0.808 0.808 0.808 0.808 0.808 0.808 0.808 0.808 0.808 0.808 0.808 0.808 0.808 0.808 0.808 0.808 0.808 0.808 0.808 0.808 0.808 0.808 0.808 0.267 0.267 0.000 0.000 0.000 0.702"/><feFuncA type="discrete" tableValues="1.000 1.000 1.000 1.000 1.000 1.000 1.000 1.000 1.000 1.000 1.000 1.000 1.000 1.000 1.000 1.000 1.000 1.000 1.000 1.000 1.000 1.000 1.000 1.000 1.000 1.000 1.000 1.000 1.000 1.000 1.000 1.000 1.000 1.000 1.000 1.000 1.000 1.000 1.000 1.000"/></feComponentTransfer></filter><clipPath id="tc11"><path d="M536,420 L586,420 L576,480 L566,540 L536,552Z"/></clipPath><rect x="534" y="418" width="54" height="136" filter="url(#tf11)" clip-path="url(#tc11)"/>
<filter id="tf12" x="563" y="458" width="80" height="96" filterUnits="userSpaceOnUse" color-interpolation-filters="sRGB"><feTurbulence type="fractalNoise" baseFrequency="0.1 0.05" numOctaves="3" seed="19"/><feColorMatrix type="matrix" values="1 0 0 0 0 1 0 0 0 0 1 0 0 0 0 0 0 0 0 1"/><feComponentTransfer><feFuncR type="table" tableValues="0 0 0 0 0.003 0.014 0.047 0.11 0.209 0.331 0.494 0.672 0.802 0.888 0.95 0.984 0.997 1 1 1 1"/><feFuncG type="table" tableValues="0 0 0 0 0.003 0.014 0.047 0.11 0.209 0.331 0.494 0.672 0.802 0.888 0.95 0.984 0.997 1 1 1 1"/><feFuncB type="table" tableValues="0 0 0 0 0.003 0.014 0.047 0.11 0.209 0.331 0.494 0.672 0.802 0.888 0.95 0.984 0.997 1 1 1 1"/></feComponentTransfer><feComponentTransfer><feFuncR type="discrete" tableValues="0.110 0.110 0.110 0.110 0.110 0.110 0.110 0.110 0.110 0.110 0.110 0.110 0.110 0.110 0.110 0.110 0.110 0.110 0.110 0.110 0.110 0.110 0.110 0.110 0.110 0.110 0.110 0.110 0.702 0.702 0.702 0.800 0.800 0.800 0.800 0.800 0.800 0.800 0.702 0.702"/><feFuncG type="discrete" tableValues="0.447 0.447 0.447 0.447 0.447 0.447 0.447 0.447 0.447 0.447 0.447 0.447 0.447 0.447 0.447 0.447 0.447 0.447 0.447 0.447 0.447 0.447 0.447 0.447 0.447 0.447 0.447 0.447 0.824 0.824 0.824 0.000 0.000 0.000 0.000 0.000 0.000 0.000 0.702 0.702"/><feFuncB type="discrete" tableValues="0.808 0.808 0.808 0.808 0.808 0.808 0.808 0.808 0.808 0.808 0.808 0.808 0.808 0.808 0.808 0.808 0.808 0.808 0.808 0.808 0.808 0.808 0.808 0.808 0.808 0.808 0.808 0.808 0.267 0.267 0.267 0.000 0.000 0.000 0.000 0.000 0.000 0.000 0.702 0.702"/><feFuncA type="discrete" tableValues="1.000 1.000 1.000 1.000 1.000 1.000 1.000 1.000 1.000 1.000 1.000 1.000 1.000 1.000 1.000 1.000 1.000 1.000 1.000 1.000 1.000 1.000 1.000 1.000 1.000 1.000 1.000 1.000 1.000 1.000 1.000 1.000 1.000 1.000 1.000 1.000 1.000 1.000 1.000 1.000"/></feComponentTransfer></filter><clipPath id="tc12"><path d="M585,460 L641,460 L641,552 L565,552 L575,500Z"/></clipPath><rect x="563" y="458" width="80" height="96" filter="url(#tf12)" clip-path="url(#tc12)"/>
<filter id="tf13" x="639" y="550" width="131" height="97" filterUnits="userSpaceOnUse" color-interpolation-filters="sRGB"><feTurbulence type="fractalNoise" baseFrequency="0.08" numOctaves="3" seed="23"/><feColorMatrix type="matrix" values="1 0 0 0 0 1 0 0 0 0 1 0 0 0 0 0 0 0 0 1"/><feComponentTransfer><feFuncR type="table" tableValues="0 0 0 0 0.003 0.014 0.047 0.11 0.209 0.331 0.494 0.672 0.802 0.888 0.95 0.984 0.997 1 1 1 1"/><feFuncG type="table" tableValues="0 0 0 0 0.003 0.014 0.047 0.11 0.209 0.331 0.494 0.672 0.802 0.888 0.95 0.984 0.997 1 1 1 1"/><feFuncB type="table" tableValues="0 0 0 0 0.003 0.014 0.047 0.11 0.209 0.331 0.494 0.672 0.802 0.888 0.95 0.984 0.997 1 1 1 1"/></feComponentTransfer><feComponentTransfer><feFuncR type="discrete" tableValues="0.110 0.110 0.110 0.110 0.110 0.110 0.110 0.110 0.110 0.110 0.110 0.110 0.110 0.110 0.110 0.110 0.110 0.110 0.110 0.110 0.110 0.110 0.110 0.110 0.110 0.110 0.110 0.110 0.702 0.702 0.800 0.800 0.800 0.800 0.800 0.702 0.702 0.702 0.702 0.302"/><feFuncG type="discrete" tableValues="0.447 0.447 0.447 0.447 0.447 0.447 0.447 0.447 0.447 0.447 0.447 0.447 0.447 0.447 0.447 0.447 0.447 0.447 0.447 0.447 0.447 0.447 0.447 0.447 0.447 0.447 0.447 0.447 0.824 0.824 0.000 0.000 0.000 0.000 0.000 0.702 0.702 0.702 0.702 0.302"/><feFuncB type="discrete" tableValues="0.808 0.808 0.808 0.808 0.808 0.808 0.808 0.808 0.808 0.808 0.808 0.808 0.808 0.808 0.808 0.808 0.808 0.808 0.808 0.808 0.808 0.808 0.808 0.808 0.808 0.808 0.808 0.808 0.267 0.267 0.000 0.000 0.000 0.000 0.000 0.702 0.702 0.702 0.702 0.302"/><feFuncA type="discrete" tableValues="1.000 1.000 1.000 1.000 1.000 1.000 1.000 1.000 1.000 1.000 1.000 1.000 1.000 1.000 1.000 1.000 1.000 1.000 1.000 1.000 1.000 1.000 1.000 1.000 1.000 1.000 1.000 1.000 1.000 1.000 1.000 1.000 1.000 1.000 1.000 1.000 1.000 1.000 1.000 1.000"/></feComponentTransfer></filter><clipPath id="tc13"><path d="M641,552 L768,552 L760,572 L740,588 L726,598 L700,600 L690,598 L680,625 L660,640 L641,645Z"/></clipPath><rect x="639" y="550" width="131" height="97" filter="url(#tf13)" clip-path="url(#tc13)"/>
<path d="M350.8,449.2 L345.9,459.8 L345.8,471.5 L344.6,482.4 L340.9,483.8 L333.5,482.5 L326.1,483.4 L324.1,484.8 L323.1,487.0 L323.2,489.5 L324.5,491.5 L327.5,493.0 L333.3,492.5 L341.9,494.0 L351.1,490.5 L352.7,489.4 L354.1,486.9 L355.8,472.3 L355.8,461.9 L359.1,454.9 L359.7,454.3 L361.1,454.5 L365.4,457.6 L368.4,466.4 L373.6,475.0 L387.7,489.2 L393.4,497.5 L396.6,507.1 L403.0,516.6 L407.8,526.4 L415.8,536.0 L438.1,569.2 L457.6,582.4 L496.4,601.8 L499.9,607.8 L491.4,611.7 L471.3,607.2 L451.0,601.1 L429.5,599.0 L411.8,606.1 L410.6,607.6 L410.0,609.5 L410.2,611.5 L411.5,613.5 L413.5,614.8 L416.0,614.9 L430.7,609.1 L449.0,610.9 L468.5,616.8 L492.0,622.0 L493.9,621.6 L510.5,613.5 L511.9,611.0 L511.6,608.1 L503.2,594.1 L462.5,573.7 L445.6,562.4 L424.0,530.2 L416.2,520.8 L411.7,511.7 L405.5,502.5 L402.3,492.9 L395.8,483.2 L381.5,468.7 L377.4,461.9 L374.2,452.6 L373.1,451.0 L365.4,445.4 L358.5,444.0 L355.2,444.8Z M870.0,489.5 L861.0,490.4 L841.0,494.9 L832.4,497.5 L824.4,501.8 L812.9,511.2 L778.5,520.3 L773.3,523.1 L757.2,534.4 L753.4,538.2 L750.3,542.8 L747.5,550.5 L747.1,558.7 L748.7,568.7 L737.5,577.4 L729.1,583.1 L727.8,584.7 L727.0,587.3 L723.0,592.7 L718.3,603.3 L716.1,615.0 L712.8,628.5 L707.0,634.5 L702.9,618.8 L699.5,595.7 L698.2,593.8 L695.7,592.3 L690.0,592.0 L687.7,592.5 L685.8,593.8 L684.3,596.3 L681.2,610.5 L676.5,625.2 L660.2,650.6 L656.0,654.7 L649.2,650.7 L647.5,644.4 L645.3,641.7 L642.6,640.7 L633.8,640.7 L626.8,630.7 L613.8,624.1 L611.5,623.6 L595.6,623.6 L567.9,627.3 L559.2,625.6 L545.0,623.8 L536.4,618.1 L533.3,609.2 L526.0,596.7 L524.3,595.0 L522.7,594.3 L520.4,594.0 L517.2,595.4 L515.3,598.3 L515.3,601.7 L522.5,614.5 L525.9,624.3 L526.8,625.8 L540.6,635.1 L567.7,639.4 L596.6,635.6 L610.1,635.6 L618.9,640.0 L625.6,650.0 L627.3,651.7 L630.0,652.7 L637.3,652.7 L638.4,656.7 L640.1,659.0 L646.8,663.5 L654.9,667.5 L656.6,668.0 L658.9,667.7 L661.0,666.6 L669.9,657.7 L687.3,630.5 L690.9,619.6 L697.3,644.7 L703.0,656.4 L705.7,668.8 L707.2,670.6 L709.3,671.7 L716.1,672.0 L718.3,671.3 L719.7,670.2 L721.0,668.3 L721.5,666.0 L717.0,649.2 L717.0,641.4 L722.8,635.3 L723.7,633.8 L727.9,617.4 L729.8,606.8 L733.2,599.0 L736.6,594.5 L744.4,591.6 L761.4,587.0 L768.8,586.9 L772.2,586.2 L783.1,582.8 L795.0,578.3 L823.3,579.7 L827.3,581.0 L817.8,583.7 L807.0,589.8 L796.7,593.8 L791.0,598.0 L786.8,603.7 L785.0,608.0 L784.0,615.0 L785.0,622.0 L787.4,627.3 L783.7,635.6 L778.5,649.6 L768.5,660.8 L760.7,668.4 L747.3,683.7 L745.8,686.2 L742.2,703.0 L742.0,706.0 L742.8,708.8 L747.5,720.3 L745.2,727.0 L736.2,733.4 L726.8,741.1 L725.6,742.6 L725.0,745.0 L725.8,747.8 L728.1,749.6 L730.5,750.0 L732.4,749.4 L742.5,743.5 L755.8,739.1 L758.7,736.4 L764.0,720.8 L762.1,705.4 L764.1,695.6 L774.1,688.0 L781.6,687.9 L784.6,687.3 L807.1,676.6 L810.1,674.1 L812.6,671.1 L822.9,655.2 L834.7,661.0 L844.7,665.0 L852.2,667.2 L863.6,668.4 L869.0,670.4 L876.3,671.8 L890.0,672.0 L896.6,671.4 L903.0,673.3 L906.5,673.8 L910.0,674.0 L917.0,673.3 L920.5,672.4 L929.8,668.8 L934.9,668.0 L943.1,667.8 L950.5,667.1 L955.1,668.6 L959.0,669.0 L975.4,667.3 L987.7,670.6 L992.0,671.0 L998.4,670.1 L1004.7,666.9 L1011.1,675.6 L1013.9,678.7 L1020.3,683.9 L1027.5,687.8 L1035.4,690.2 L1054.3,693.8 L1061.7,693.8 L1071.0,692.1 L1100.8,703.6 L1107.6,705.3 L1114.7,704.9 L1119.4,703.5 L1125.0,704.0 L1130.9,703.4 L1148.7,699.7 L1154.3,697.3 L1169.0,698.0 L1173.7,697.5 L1199.0,691.5 L1212.1,687.3 L1216.7,686.6 L1222.1,689.1 L1226.3,689.9 L1240.0,690.0 L1246.4,689.1 L1252.2,686.3 L1257.0,682.0 L1259.4,678.4 L1261.1,674.4 L1262.0,668.0 L1261.1,661.6 L1258.3,655.8 L1254.0,651.0 L1248.4,647.7 L1242.2,646.1 L1234.4,646.0 L1229.4,643.3 L1215.9,638.0 L1208.5,636.1 L1203.5,636.1 L1198.5,637.1 L1181.6,642.6 L1166.8,648.9 L1157.7,646.8 L1154.1,644.5 L1148.7,642.3 L1142.9,641.1 L1137.0,641.2 L1129.8,637.0 L1126.9,636.0 L1120.7,634.8 L1117.6,634.6 L1111.4,635.2 L1105.4,637.0 L1100.8,639.4 L1097.3,638.0 L1093.3,634.3 L1081.1,625.8 L1074.6,620.2 L1068.5,611.9 L1065.7,608.8 L1062.6,606.0 L1057.0,602.2 L1065.5,598.6 L1069.9,595.9 L1090.6,580.6 L1093.2,579.8 L1097.4,580.6 L1110.0,587.3 L1118.3,590.7 L1136.0,595.1 L1147.2,596.7 L1153.8,599.2 L1161.9,600.8 L1166.0,601.0 L1174.2,600.2 L1178.2,599.2 L1185.8,596.0 L1192.0,592.7 L1197.8,588.8 L1209.1,577.5 L1212.0,583.6 L1215.0,587.3 L1218.7,590.3 L1225.0,593.3 L1229.6,594.2 L1243.9,595.3 L1265.0,595.9 L1292.9,591.2 L1296.0,590.1 L1301.9,587.0 L1310.5,580.2 L1316.9,581.7 L1332.0,582.0 L1337.1,581.5 L1341.9,580.0 L1348.5,576.1 L1352.1,572.5 L1356.0,565.9 L1357.9,558.5 L1357.9,553.5 L1356.0,546.1 L1352.1,539.5 L1346.4,534.4 L1341.9,532.0 L1337.1,530.5 L1325.5,529.9 L1315.3,525.1 L1307.6,523.1 L1302.4,523.1 L1279.7,524.9 L1273.1,526.2 L1250.1,536.4 L1235.9,541.5 L1225.7,546.6 L1219.3,546.9 L1209.2,544.6 L1202.3,537.5 L1196.4,528.0 L1190.8,521.2 L1187.5,518.2 L1180.2,513.3 L1172.1,509.9 L1140.7,501.6 L1111.5,498.6 L1091.0,498.6 L1071.6,500.4 L1056.0,498.7 L1040.3,500.4 L1020.7,498.7 L1005.1,498.7 L990.7,495.8 L978.2,492.4 L974.1,491.8 L970.0,491.6 L958.4,492.3 L944.1,489.2 L920.0,488.0 L889.9,489.5Z M875.0,581.5 L894.5,581.3 L928.6,575.2 L943.5,572.9 L947.2,572.8 L967.0,590.9 L975.5,596.6 L980.1,598.7 L984.9,600.5 L994.9,602.4 L1013.7,602.7 L1006.9,606.1 L1001.9,609.5 L994.5,610.6 L987.6,613.9 L981.9,619.0 L979.1,623.2 L977.4,627.0 L973.3,627.3 L970.3,624.4 L966.6,618.2 L957.5,606.5 L952.0,602.1 L945.8,598.7 L939.0,596.7 L932.0,596.0 L925.0,596.7 L910.0,599.4 L903.5,598.2 L897.4,598.1 L894.2,595.7 L887.3,592.0 L879.8,589.8 L869.3,588.6 L860.8,584.7Z M885.4,724.7 L874.9,730.4 L856.9,732.3 L835.4,736.7 L817.7,743.7 L800.0,742.0 L796.9,742.3 L793.9,743.2 L791.1,744.7 L788.7,746.7 L786.7,749.1 L785.2,751.9 L784.3,754.9 L784.0,758.0 L784.3,761.1 L785.2,764.1 L786.7,766.9 L789.8,770.4 L792.5,772.1 L795.4,773.3 L818.4,775.9 L823.1,775.7 L844.6,767.4 L862.4,763.8 L884.6,761.3 L887.5,760.1 L896.4,754.8 L917.5,748.1 L928.1,740.0 L930.5,739.0 L938.7,756.9 L941.8,760.4 L945.9,762.8 L950.4,763.9 L953.6,763.9 L956.6,763.3 L959.5,762.1 L962.2,760.4 L964.4,758.2 L966.1,755.5 L967.3,752.6 L968.0,748.0 L967.3,743.4 L958.1,722.5 L950.4,709.8 L946.9,706.7 L942.6,704.7 L939.6,704.1 L936.4,704.1 L925.4,706.7 L912.5,711.9 L902.4,719.6Z M1279.1,752.5 L1276.3,748.7 L1272.5,745.9 L1268.1,744.3 L1263.4,744.1 L1230.6,750.2 L1211.9,752.3 L1190.9,760.2 L1181.1,764.7 L1177.6,767.8 L1175.9,770.5 L1169.3,786.9 L1169.1,791.6 L1170.2,796.1 L1171.7,798.9 L1173.7,801.3 L1177.5,804.1 L1180.4,805.3 L1183.4,805.9 L1188.1,805.7 L1192.5,804.1 L1196.3,801.3 L1199.1,797.5 L1202.3,790.1 L1218.8,783.7 L1236.1,781.7 L1268.1,775.7 L1271.1,774.8 L1273.9,773.3 L1276.3,771.3 L1278.3,768.9 L1279.8,766.1 L1280.7,763.1 L1281.0,760.0 L1280.3,755.4Z" fill="#4a8fa0" fill-rule="evenodd"/><path d="M352.0,450.0 L347.3,460.1 L347.2,471.6 L345.9,483.4 L341.0,485.3 L333.9,483.9 L327.0,484.6 L325.5,485.5 L324.6,487.0 L324.6,489.0 L325.5,490.5 L327.6,491.6 L333.3,491.1 L341.8,492.6 L351.7,488.4 L352.7,486.6 L354.4,472.2 L354.4,461.6 L358.0,454.1 L359.2,452.8 L361.6,453.2 L366.6,456.8 L369.5,465.4 L374.7,474.1 L388.8,488.3 L394.6,496.9 L397.8,506.4 L404.2,515.9 L409.0,525.6 L416.9,535.1 L439.2,568.3 L458.3,581.2 L497.4,600.7 L501.9,608.4 L491.6,613.2 L470.9,608.5 L450.7,602.5 L430.0,600.4 L413.0,607.0 L412.0,608.0 L411.4,609.6 L411.6,611.0 L412.5,612.5 L414.3,613.5 L416.0,613.4 L430.5,607.7 L449.3,609.5 L469.0,615.4 L492.0,620.6 L493.4,620.3 L509.5,612.5 L510.5,610.7 L510.3,608.6 L502.3,595.2 L461.8,574.9 L444.6,563.4 L422.8,531.0 L415.0,521.6 L410.5,512.4 L404.3,503.1 L401.1,493.6 L394.6,484.0 L380.3,469.6 L376.1,462.5 L372.9,453.1 L372.1,452.0 L364.7,446.6 L358.4,445.4 L356.0,446.0Z M870.0,502.4 L863.5,503.0 L840.4,508.3 L834.4,510.8 L820.2,519.6 L783.7,527.3 L779.8,529.0 L763.8,539.2 L759.4,543.2 L756.4,548.3 L754.9,554.0 L754.2,566.1 L752.9,569.5 L738.8,579.2 L730.8,584.1 L729.6,585.6 L729.0,587.5 L724.2,594.0 L719.9,603.7 L717.8,615.4 L714.3,629.3 L707.4,636.6 L706.8,638.2 L706.7,640.0 L701.2,619.2 L698.0,596.3 L697.1,594.9 L695.3,593.9 L688.7,593.9 L686.9,594.9 L685.9,596.7 L682.8,610.9 L678.0,625.9 L661.6,651.6 L656.4,656.8 L651.8,654.5 L647.7,651.7 L646.0,645.0 L644.4,643.1 L642.4,642.4 L632.9,642.4 L625.7,632.0 L613.2,625.6 L595.8,625.3 L567.9,629.0 L558.8,627.3 L544.4,625.4 L535.0,619.2 L531.8,610.0 L523.7,596.7 L521.0,595.7 L518.6,596.4 L517.0,598.3 L516.9,601.3 L524.1,613.8 L528.1,624.7 L541.2,633.6 L557.3,635.8 L567.7,637.7 L596.5,633.9 L610.5,633.9 L620.0,638.7 L628.2,650.3 L630.2,651.0 L638.6,651.0 L639.9,656.1 L641.2,657.7 L647.6,662.0 L656.8,666.3 L658.5,666.1 L659.9,665.3 L668.0,657.5 L676.1,645.4 L686.0,629.4 L691.5,611.6 L692.8,620.8 L698.9,644.3 L704.6,655.8 L707.0,667.7 L707.9,669.1 L709.7,670.1 L715.9,670.3 L718.6,669.1 L719.5,667.7 L719.8,666.0 L715.3,649.4 L715.3,640.7 L722.2,633.2 L726.2,617.0 L728.2,606.3 L731.8,598.2 L735.9,592.7 L754.1,585.9 L772.0,581.0 L784.0,574.1 L794.4,569.6 L827.9,569.9 L846.8,573.0 L853.2,573.0 L873.6,568.6 L893.2,568.5 L924.3,563.4 L941.6,561.3 L952.6,561.4 L954.5,561.7 L959.0,566.2 L979.2,581.8 L982.4,583.7 L989.1,586.5 L996.3,588.0 L1018.9,588.1 L1041.0,590.1 L1048.3,589.4 L1051.9,588.5 L1058.6,585.7 L1083.0,570.7 L1092.6,568.1 L1102.6,569.7 L1122.1,578.4 L1138.5,582.5 L1148.8,584.1 L1157.2,587.9 L1163.0,589.1 L1171.9,588.7 L1182.5,585.8 L1187.2,583.9 L1204.5,573.4 L1212.9,572.0 L1217.6,579.9 L1219.8,582.5 L1222.4,584.7 L1227.0,586.8 L1232.0,587.6 L1262.0,587.3 L1266.4,586.9 L1290.1,582.1 L1294.5,580.3 L1307.8,571.5 L1314.0,573.7 L1317.6,574.4 L1332.0,574.7 L1337.4,573.9 L1342.4,571.6 L1346.5,567.9 L1349.3,563.2 L1350.6,557.8 L1350.4,552.3 L1348.5,547.2 L1345.2,542.8 L1342.4,540.4 L1339.2,538.7 L1335.7,537.6 L1323.6,537.1 L1312.4,532.0 L1306.9,530.7 L1301.2,530.9 L1275.9,535.3 L1254.5,543.9 L1240.7,548.1 L1229.8,552.5 L1204.5,548.6 L1190.3,540.0 L1188.3,538.3 L1184.0,532.4 L1179.6,528.0 L1174.3,524.4 L1171.4,523.1 L1138.2,514.2 L1114.5,510.5 L1088.2,509.9 L1069.4,512.4 L1052.6,512.3 L1039.1,514.9 L1020.7,513.3 L1005.1,513.3 L990.5,509.2 L975.9,503.9 L970.0,503.4 L957.5,503.7 L943.0,500.9 L920.0,500.3 L889.1,502.4Z M799.9,599.8 L797.0,601.6 L794.6,604.0 L792.8,606.9 L791.5,610.0 L790.8,613.3 L791.1,618.4 L794.2,626.3 L783.7,651.9 L772.4,663.4 L763.9,669.9 L748.7,686.6 L744.8,705.0 L745.1,707.1 L749.9,720.1 L747.2,728.3 L737.6,734.4 L727.2,742.7 L726.5,744.3 L726.5,745.7 L727.0,747.0 L728.3,748.2 L730.0,748.6 L731.4,748.3 L741.9,741.9 L754.2,737.3 L756.5,735.7 L757.5,733.7 L761.7,720.6 L759.3,705.1 L761.6,694.0 L773.5,684.3 L782.2,683.3 L784.4,682.6 L805.1,671.1 L808.0,668.0 L818.0,651.5 L819.2,648.6 L821.1,641.0 L826.4,644.4 L836.4,649.4 L851.6,655.6 L857.2,656.7 L864.9,657.3 L872.1,660.2 L877.3,661.2 L890.0,661.9 L897.5,660.9 L902.5,662.8 L907.5,663.8 L915.1,663.4 L927.1,659.1 L932.4,658.2 L949.4,659.7 L953.5,662.3 L957.6,663.3 L976.2,661.6 L988.9,664.5 L993.6,664.8 L996.6,664.2 L1000.8,662.2 L1007.7,655.9 L1012.9,658.2 L1022.2,670.4 L1026.8,674.1 L1032.0,676.9 L1050.1,682.2 L1055.3,683.2 L1069.5,682.4 L1086.7,689.4 L1103.4,697.4 L1108.3,698.6 L1111.7,698.6 L1115.0,697.9 L1120.5,695.1 L1125.0,695.6 L1129.2,695.2 L1144.2,692.2 L1150.4,690.0 L1169.0,691.3 L1172.4,690.9 L1196.9,684.5 L1209.7,680.5 L1217.4,679.8 L1222.4,682.6 L1226.9,683.8 L1243.1,683.5 L1247.5,682.0 L1251.2,679.2 L1254.0,675.5 L1255.5,671.1 L1255.8,666.4 L1255.2,663.4 L1254.0,660.5 L1251.2,656.8 L1247.5,654.0 L1244.6,652.8 L1241.6,652.2 L1232.8,652.2 L1225.6,648.4 L1207.8,643.4 L1204.2,643.4 L1200.6,644.1 L1184.3,649.3 L1167.4,656.0 L1152.7,653.1 L1144.2,649.8 L1140.0,649.4 L1133.8,650.2 L1130.4,647.4 L1126.4,645.3 L1119.9,643.7 L1115.3,643.7 L1110.9,644.6 L1106.7,646.3 L1102.5,649.2 L1092.0,644.9 L1085.8,639.8 L1072.4,632.7 L1065.3,627.5 L1059.4,619.3 L1055.2,615.1 L1047.6,610.6 L1041.9,608.8 L1036.0,608.3 L1030.1,608.8 L1014.7,611.9 L1010.8,613.6 L1005.9,617.2 L1002.0,616.8 L996.6,617.6 L991.6,619.9 L988.8,622.3 L986.4,625.1 L982.4,632.8 L977.0,632.6 L970.2,633.3 L967.0,629.8 L962.4,626.7 L956.3,619.7 L948.4,612.0 L941.9,608.1 L937.1,606.6 L929.5,606.2 L914.9,608.6 L910.0,610.1 L902.5,608.2 L897.5,608.2 L892.9,609.0 L888.0,605.1 L883.0,602.4 L877.6,600.8 L866.7,599.7 L851.0,592.4 L842.8,590.3 L837.2,590.3 L826.5,591.6 L813.8,596.2 L803.0,598.5Z M886.7,729.0 L876.3,734.8 L857.8,736.7 L837.8,740.7 L818.3,748.3 L801.1,746.5 L796.7,747.0 L792.7,749.1 L789.8,752.6 L788.5,756.9 L789.0,761.3 L789.8,763.4 L791.9,766.1 L794.6,768.2 L796.7,769.0 L818.9,771.5 L822.2,771.3 L843.3,763.1 L861.7,759.4 L883.3,757.0 L894.6,750.6 L915.4,744.2 L925.9,736.1 L932.6,733.4 L941.8,753.4 L943.9,756.1 L946.6,758.2 L950.9,759.5 L953.1,759.5 L956.4,758.6 L960.1,756.1 L962.2,753.4 L963.0,751.3 L963.5,748.0 L963.0,744.7 L954.2,724.6 L946.9,712.7 L944.4,710.4 L941.3,709.0 L939.1,708.5 L935.8,708.7 L925.6,711.4 L914.6,715.8 L904.6,723.6Z M1275.2,754.6 L1273.1,751.9 L1270.4,749.8 L1267.2,748.7 L1263.9,748.5 L1231.3,754.6 L1212.8,756.7 L1192.6,764.4 L1184.6,767.8 L1182.7,769.1 L1180.4,771.6 L1174.0,786.7 L1173.5,790.0 L1174.4,794.4 L1176.1,797.3 L1179.6,800.2 L1183.9,801.5 L1187.2,801.3 L1191.4,799.6 L1193.9,797.3 L1195.6,794.4 L1198.8,786.7 L1217.8,779.3 L1235.2,777.3 L1269.4,770.6 L1271.4,769.6 L1273.9,767.3 L1276.0,763.3 L1276.5,758.9Z" fill="#b3d244" fill-rule="evenodd"/><path d="M353.1,450.7 L348.5,460.4 L348.5,471.7 L347.1,484.3 L341.2,486.6 L333.7,485.2 L327.3,485.8 L325.8,487.3 L325.8,488.7 L326.4,489.6 L328.0,490.3 L333.4,489.8 L341.6,491.3 L350.8,487.5 L351.5,486.1 L353.1,472.0 L353.1,461.3 L356.9,453.4 L358.8,451.5 L362.1,452.0 L367.7,455.9 L370.7,464.9 L375.7,473.3 L389.8,487.5 L395.8,496.3 L399.0,505.8 L405.3,515.3 L410.1,524.9 L417.9,534.4 L440.2,567.5 L458.9,580.0 L498.4,599.8 L503.7,609.0 L491.7,614.6 L470.6,609.8 L450.4,603.7 L430.0,601.7 L413.9,608.0 L412.7,609.8 L413.4,611.6 L414.3,612.2 L415.7,612.2 L430.3,606.3 L449.6,608.3 L469.3,614.2 L492.0,619.3 L508.6,611.6 L509.3,610.4 L509.1,609.1 L501.3,596.1 L461.2,576.0 L443.7,564.3 L421.7,531.7 L413.9,522.3 L409.3,513.0 L403.1,503.7 L399.9,494.2 L393.5,484.7 L379.3,470.4 L374.9,463.0 L371.4,453.0 L364.1,447.8 L358.2,446.7 L356.5,447.2Z M870.0,514.3 L865.9,514.7 L843.9,519.8 L825.1,528.0 L786.0,534.8 L783.5,535.8 L766.8,546.0 L764.3,548.8 L763.1,551.1 L759.3,565.7 L756.0,571.0 L732.0,585.5 L725.6,594.7 L721.4,604.2 L719.3,615.7 L715.7,630.1 L708.4,638.2 L708.2,647.3 L705.6,642.0 L699.7,619.5 L696.6,597.2 L696.0,596.0 L694.5,595.3 L689.5,595.3 L687.6,596.7 L684.3,611.3 L679.5,626.5 L662.8,652.6 L656.7,658.6 L651.0,655.8 L646.3,652.7 L644.6,645.9 L643.5,644.4 L642.0,643.9 L632.1,643.9 L624.8,633.2 L612.3,627.0 L595.9,626.9 L567.8,630.6 L558.5,628.8 L543.9,626.9 L533.7,620.2 L530.4,610.7 L523.0,598.0 L521.5,597.3 L519.7,597.6 L518.5,598.9 L518.3,600.5 L525.5,613.1 L529.3,623.8 L541.8,632.1 L557.5,634.2 L567.7,636.2 L596.4,632.4 L610.9,632.4 L621.1,637.4 L629.1,649.0 L630.6,649.5 L639.8,649.5 L641.3,655.2 L642.1,656.5 L648.3,660.6 L657.2,664.8 L659.0,664.1 L667.0,656.2 L684.4,629.0 L689.6,612.8 L691.8,602.6 L694.4,620.8 L700.4,643.8 L706.1,655.3 L708.5,667.1 L709.2,668.1 L710.5,668.7 L715.8,668.7 L717.6,667.8 L718.2,665.7 L713.8,649.6 L713.8,640.1 L720.7,632.6 L724.7,616.7 L726.7,605.8 L730.4,597.4 L735.2,591.0 L770.9,576.3 L782.1,566.9 L793.2,561.7 L830.0,560.6 L852.1,561.1 L872.3,556.7 L892.1,556.6 L922.0,552.1 L940.6,550.3 L953.3,550.9 L961.2,551.9 L968.2,558.2 L986.7,570.6 L993.1,573.6 L997.7,574.5 L1019.5,574.6 L1038.7,576.5 L1045.7,576.2 L1052.3,573.8 L1066.3,566.2 L1077.5,561.0 L1092.0,557.3 L1106.4,559.4 L1125.6,566.9 L1140.9,570.8 L1151.4,572.7 L1158.6,576.8 L1164.1,578.2 L1178.2,577.2 L1201.8,569.1 L1215.3,567.8 L1225.0,578.8 L1227.8,580.5 L1232.0,581.3 L1263.4,579.2 L1286.1,574.0 L1290.4,572.5 L1306.1,563.6 L1318.2,567.7 L1334.3,567.7 L1338.6,565.9 L1341.2,563.6 L1343.0,560.6 L1343.9,557.2 L1343.7,553.7 L1342.5,550.4 L1340.5,547.5 L1337.6,545.5 L1333.2,544.1 L1322.0,543.9 L1309.8,538.5 L1306.2,537.6 L1302.6,537.8 L1278.5,543.7 L1257.8,551.4 L1242.9,555.1 L1231.9,558.7 L1219.3,554.7 L1201.8,552.9 L1182.0,545.9 L1178.5,543.9 L1172.1,537.0 L1168.8,534.7 L1165.0,533.2 L1135.8,525.9 L1113.4,521.4 L1089.2,520.3 L1068.9,523.5 L1051.7,525.0 L1039.0,528.5 L1020.7,526.8 L1004.1,526.8 L988.4,521.2 L977.4,515.8 L973.8,514.7 L956.5,514.2 L941.9,511.8 L920.0,511.8 L889.1,514.3Z M802.8,605.3 L799.5,608.0 L797.4,611.8 L797.0,613.9 L797.2,617.2 L800.2,625.9 L794.7,640.1 L788.4,654.5 L775.6,666.1 L766.5,671.7 L751.2,687.4 L750.5,689.1 L747.4,704.5 L747.6,706.3 L752.1,720.0 L748.9,729.5 L738.5,735.7 L728.5,743.2 L727.7,745.2 L728.9,747.0 L731.1,747.0 L741.3,740.5 L753.4,735.4 L754.8,734.3 L759.7,720.4 L756.7,705.0 L759.2,692.5 L772.5,681.1 L783.5,678.5 L802.5,666.5 L813.3,647.9 L818.2,630.8 L826.0,632.7 L843.0,641.0 L854.7,645.6 L867.0,647.0 L873.3,650.1 L876.6,651.1 L890.0,652.6 L898.4,651.2 L905.2,653.8 L908.4,654.5 L913.2,654.2 L924.5,650.0 L931.2,648.9 L947.7,652.7 L950.7,652.9 L953.2,656.1 L957.2,658.0 L959.9,658.2 L976.6,656.3 L990.0,658.9 L993.0,659.1 L995.9,658.3 L998.4,656.8 L1007.1,647.8 L1010.9,650.6 L1013.8,652.0 L1018.1,652.4 L1021.5,651.5 L1029.9,662.7 L1032.9,665.1 L1036.2,666.8 L1054.6,673.1 L1069.6,673.7 L1088.9,681.9 L1104.8,691.1 L1108.9,692.4 L1112.2,692.2 L1115.2,691.1 L1117.8,689.2 L1119.9,686.8 L1123.6,687.7 L1126.4,687.7 L1148.0,683.1 L1167.9,685.0 L1171.2,684.8 L1207.9,673.9 L1218.3,673.8 L1224.6,677.3 L1227.5,678.1 L1242.0,677.9 L1244.8,676.9 L1247.2,675.2 L1249.3,671.9 L1250.1,669.0 L1249.7,665.1 L1248.4,662.4 L1246.4,660.2 L1243.9,658.7 L1241.0,657.9 L1231.2,657.9 L1223.9,653.9 L1207.2,650.1 L1202.5,650.6 L1188.0,655.2 L1168.0,662.6 L1149.6,659.3 L1141.4,657.3 L1138.6,657.3 L1130.3,658.9 L1128.0,656.2 L1124.5,653.6 L1120.5,652.2 L1117.6,651.9 L1114.7,652.2 L1110.7,653.6 L1107.2,656.2 L1104.6,659.6 L1101.5,657.3 L1087.5,651.5 L1079.9,646.0 L1066.0,640.4 L1057.1,634.7 L1050.9,626.2 L1048.3,623.6 L1043.4,620.7 L1037.9,619.3 L1019.6,618.9 L1017.0,619.4 L1013.3,621.1 L1009.4,625.1 L1003.2,623.6 L998.5,624.1 L995.4,625.6 L992.8,627.9 L986.4,638.5 L977.0,637.8 L966.6,638.9 L964.8,635.6 L962.6,633.6 L956.4,630.7 L941.2,618.2 L938.3,616.7 L935.2,615.8 L930.4,615.5 L916.8,617.8 L910.0,620.2 L904.8,618.2 L901.6,617.5 L898.4,617.5 L890.8,619.0 L888.1,618.2 L882.2,613.7 L879.0,612.0 L873.8,610.7 L864.3,609.9 L857.5,607.2 L847.0,602.0 L841.8,600.7 L830.0,600.5 L817.9,603.3 L806.9,604.0Z M885.9,733.9 L877.6,738.8 L858.6,740.8 L838.6,744.8 L818.9,752.5 L800.7,750.7 L797.9,751.0 L795.3,752.3 L793.5,754.5 L792.7,757.3 L793.0,760.1 L793.9,762.1 L795.3,763.7 L798.6,765.2 L821.4,767.2 L842.1,759.1 L861.1,755.3 L882.1,753.0 L893.0,746.8 L912.8,740.8 L923.7,732.4 L934.5,728.5 L937.4,733.4 L945.5,751.5 L947.3,753.7 L950.6,755.2 L954.1,755.0 L956.1,754.1 L957.7,752.7 L959.2,749.4 L959.3,747.3 L958.8,745.2 L950.5,726.5 L943.7,715.3 L941.5,713.5 L939.4,712.8 L936.6,712.8 L927.2,715.2 L916.5,719.5 L906.5,727.4Z M1271.5,756.5 L1269.7,754.3 L1267.8,753.2 L1265.7,752.7 L1263.6,752.8 L1231.9,758.7 L1213.6,760.8 L1194.2,768.2 L1186.5,771.5 L1183.9,773.9 L1178.0,787.9 L1177.7,790.7 L1178.2,792.8 L1179.8,795.2 L1182.2,796.8 L1185.0,797.4 L1187.1,797.0 L1189.1,796.1 L1191.1,794.1 L1195.6,783.6 L1216.8,775.2 L1234.4,773.2 L1267.8,766.8 L1270.2,765.2 L1271.8,762.8 L1272.3,759.3Z" fill="#f0a800" fill-rule="evenodd"/><path d="M354.1,451.4 L349.7,460.6 L349.7,471.7 L348.2,485.1 L341.3,487.9 L333.6,486.4 L327.8,486.9 L326.9,487.7 L327.2,488.8 L328.0,489.1 L333.4,488.6 L341.5,490.1 L350.0,486.7 L351.9,471.9 L351.9,461.0 L355.9,452.6 L358.4,450.2 L362.6,450.8 L368.7,455.2 L371.8,464.4 L376.6,472.5 L390.7,486.7 L396.9,495.8 L400.0,505.2 L406.3,514.7 L411.1,524.2 L418.9,533.7 L441.1,566.7 L459.5,579.0 L499.2,598.8 L505.4,609.5 L491.9,615.8 L470.3,610.9 L450.2,604.9 L430.0,602.9 L414.5,609.0 L413.9,609.8 L414.2,610.8 L415.3,611.1 L430.2,605.1 L449.8,607.1 L469.7,613.1 L492.0,618.1 L507.8,610.8 L508.0,609.5 L500.6,597.1 L460.6,577.0 L442.8,565.2 L420.7,532.4 L412.9,523.0 L408.3,513.6 L402.0,504.2 L398.9,494.8 L392.5,485.4 L378.4,471.1 L373.8,463.5 L370.5,453.8 L363.5,448.8 L358.1,447.9 L357.3,448.1Z M869.0,525.4 L847.1,530.3 L828.2,536.2 L788.1,541.7 L771.1,551.2 L769.6,553.1 L763.6,566.9 L758.3,572.9 L733.1,586.7 L726.8,595.4 L722.7,604.6 L720.7,615.9 L717.0,630.8 L709.7,638.7 L709.7,650.3 L713.8,664.7 L712.1,664.7 L710.0,654.0 L704.2,642.5 L698.3,619.7 L695.3,597.7 L694.4,596.7 L689.9,596.7 L688.8,597.4 L685.7,611.7 L680.8,627.1 L663.9,653.6 L656.9,660.4 L650.3,657.1 L645.1,653.6 L643.3,646.3 L642.7,645.6 L631.3,645.4 L623.8,634.3 L611.9,628.3 L596.1,628.3 L567.7,632.1 L558.3,630.2 L543.4,628.3 L532.5,621.1 L529.2,611.4 L522.1,599.3 L520.5,598.8 L519.7,600.3 L526.8,612.5 L530.4,622.8 L542.4,630.8 L557.8,632.8 L567.7,634.7 L596.3,630.9 L611.2,630.9 L622.1,636.3 L630.0,647.9 L641.0,648.0 L643.0,655.3 L649.0,659.4 L657.2,663.3 L658.1,662.9 L665.9,655.2 L683.2,628.3 L688.3,612.4 L691.1,599.3 L692.8,599.3 L695.7,620.3 L701.7,643.4 L707.4,654.8 L709.8,666.6 L710.9,667.3 L715.6,667.3 L716.5,666.8 L716.8,665.9 L712.3,649.8 L712.3,639.5 L719.4,632.0 L723.3,616.5 L725.3,605.4 L729.1,596.7 L734.6,589.4 L761.5,577.2 L769.8,571.8 L778.9,560.9 L791.8,554.5 L830.8,551.9 L851.0,550.1 L871.1,545.6 L891.0,545.6 L920.9,541.6 L940.0,540.3 L966.3,542.5 L974.4,549.0 L994.6,560.8 L997.8,561.9 L1020.1,562.1 L1041.0,564.1 L1045.4,563.3 L1060.0,556.5 L1073.5,551.6 L1091.5,547.5 L1109.4,549.7 L1128.8,556.4 L1143.0,559.9 L1154.9,562.3 L1161.6,567.1 L1165.1,568.2 L1175.8,568.9 L1200.4,564.9 L1216.9,564.1 L1228.7,574.4 L1230.0,575.2 L1232.0,575.6 L1264.0,571.5 L1285.9,565.6 L1305.2,556.5 L1318.3,561.4 L1332.0,561.7 L1334.2,561.3 L1335.6,560.4 L1337.0,558.7 L1337.7,556.6 L1337.5,554.3 L1336.8,552.8 L1334.2,550.7 L1332.0,550.3 L1320.6,550.1 L1307.3,544.5 L1304.4,544.1 L1260.3,558.4 L1245.4,561.4 L1232.6,564.7 L1218.6,558.0 L1200.4,557.1 L1177.1,553.3 L1171.1,551.1 L1165.3,545.3 L1161.9,543.5 L1112.4,531.4 L1090.1,529.8 L1053.9,536.3 L1039.7,541.1 L1020.7,539.3 L1002.4,539.3 L984.6,531.5 L974.4,525.5 L970.9,524.4 L955.8,523.8 L940.0,521.8 L919.1,522.4 L889.5,525.4Z M804.3,611.3 L803.1,613.0 L802.7,615.5 L805.4,625.8 L799.5,642.1 L792.4,657.2 L778.1,669.0 L768.3,674.0 L753.2,688.8 L749.8,705.0 L754.2,720.0 L750.6,730.8 L739.3,736.9 L729.2,744.2 L728.9,745.2 L729.5,746.0 L730.6,745.9 L740.7,739.2 L753.5,733.0 L757.8,720.2 L754.3,705.0 L757.0,691.1 L771.3,678.4 L781.7,675.1 L799.4,662.8 L808.5,645.9 L814.3,626.9 L814.0,622.2 L818.7,623.5 L829.8,624.8 L836.5,627.1 L846.6,632.1 L857.4,636.4 L869.4,637.6 L877.6,642.0 L888.5,643.8 L890.8,643.9 L899.2,642.2 L907.7,645.6 L910.8,645.9 L922.2,641.7 L931.2,640.2 L948.3,646.5 L953.6,646.8 L955.6,651.8 L956.9,652.9 L958.6,653.4 L976.9,651.4 L992.9,653.7 L995.4,652.4 L1004.4,641.5 L1009.0,642.1 L1014.5,646.1 L1017.0,646.7 L1019.0,646.3 L1020.3,645.5 L1023.1,641.6 L1029.6,645.4 L1036.5,654.9 L1039.2,657.1 L1055.6,664.0 L1070.9,665.8 L1078.1,669.7 L1091.8,675.3 L1107.1,685.8 L1109.5,686.7 L1112.0,686.3 L1113.7,685.1 L1118.9,677.4 L1121.9,679.8 L1125.0,680.6 L1147.0,676.8 L1169.5,679.3 L1206.8,667.8 L1219.6,668.4 L1226.2,672.3 L1228.5,672.8 L1241.4,672.6 L1243.7,671.1 L1244.8,668.5 L1244.0,665.3 L1241.4,663.4 L1229.8,663.2 L1222.4,659.0 L1206.0,656.3 L1189.8,661.1 L1168.5,668.6 L1140.0,664.4 L1127.3,666.8 L1121.5,660.7 L1119.0,659.7 L1116.2,659.7 L1113.7,660.7 L1111.7,662.7 L1107.9,672.3 L1098.1,663.7 L1083.7,657.8 L1075.7,652.5 L1061.2,648.2 L1049.9,641.9 L1043.1,632.6 L1040.4,630.4 L1037.8,629.4 L1022.3,626.1 L1019.7,626.1 L1016.8,627.5 L1015.2,629.5 L1014.1,632.7 L1012.5,631.9 L1003.1,629.9 L1001.4,629.8 L999.3,630.5 L997.2,632.3 L989.6,643.9 L977.0,642.6 L962.4,644.2 L961.5,640.1 L959.7,638.0 L952.4,635.7 L936.4,625.4 L933.5,624.2 L931.2,624.1 L918.5,626.2 L910.0,629.5 L900.8,626.1 L890.2,627.9 L883.5,626.3 L875.4,620.9 L872.9,620.2 L862.0,619.3 L853.6,616.0 L841.7,610.4 L831.6,609.1 L819.8,610.4 L807.5,609.7 L806.0,610.1Z M888.0,737.1 L878.9,742.6 L859.3,744.5 L839.3,748.5 L819.5,756.4 L799.3,754.5 L797.1,756.0 L796.5,758.7 L797.5,760.5 L799.3,761.5 L820.3,763.5 L841.0,755.4 L860.5,751.5 L880.7,749.5 L891.4,743.2 L911.3,737.3 L921.8,729.1 L931.1,725.3 L936.3,724.0 L940.9,731.6 L949.3,750.2 L951.0,751.4 L952.7,751.5 L954.5,750.5 L955.5,748.7 L955.3,746.7 L947.1,728.3 L940.9,718.0 L938.7,716.5 L929.0,718.6 L918.7,722.7 L908.3,730.8Z M1268.1,758.3 L1266.7,756.9 L1264.7,756.5 L1232.5,762.5 L1213.7,764.7 L1187.8,775.3 L1186.7,776.7 L1181.7,788.7 L1181.7,791.3 L1182.8,792.7 L1184.0,793.4 L1186.7,793.1 L1188.1,791.7 L1192.7,780.7 L1215.8,771.4 L1233.7,769.5 L1266.0,763.4 L1267.2,762.7 L1268.3,761.3 L1268.5,760.0Z" fill="#dc3800" fill-rule="evenodd"/>
<path d="M521,600 L528,612 L531.4,622 L542.9,629.6 L558,631.5 L567.7,633.4 L583,631.5 L596.2,629.6 L611.5,629.6 L623,635.3 L630.6,646.7 L642,646.7 L643.9,654.4 L649.6,658.2 L657.2,662 L664.9,654.4 L672.5,643 L682,627.7 L687,612 L690,598 L694,598 L697,620 L703,643 L708.7,654.4 L711,666 L715.5,666 L711,650 L711,639 L718.2,631.5 L722,616.2 L724,605 L728,596 L734,588 L742,584 L752,579 L760,575 L767,569 L775,556 L790,548 L830,544 L850,540 L870,535.5 L890,535.5 L920,532 L940,531 L955,532.6 L970,533.6 L980,540.6 L1000,550.7 L1020.7,550.7 L1041,552.7 L1056,546.7 L1071,542.7 L1091,538.6 L1111.5,540.6 L1131.7,546.7 L1145,550 L1159,553 L1166,559 L1175,561 L1200,561 L1218,561 L1232,570.3 L1246.6,567.4 L1262,565 L1283,558.7 L1305,550 L1319.4,555.8 L1332,556 L1400,556 L1400,700 L1240,700 L1240,668 L1228.5,668 L1221,663.6 L1206,662 L1191.5,666.6 L1169,674 L1147,671 L1140,671 L1125,674 L1117.6,666.6 L1110,681.4 L1095,669.5 L1080.6,663.6 L1073,659 L1058,656 L1043.6,649 L1036,638.5 L1021,632.6 L1017,641.4 L1011,637 L1002,635.5 L992,649 L977,647 L959,649 L957,642 L950,641 L940,636 L932,632 L920,634 L910,638 L900,634 L890,636 L880,634 L872,629 L860,628 L850,624 L840,619 L831.6,617 L820,617 L808,615 L810,626 L804,644 L796,660 L780,672 L770,676 L755,690 L752,705 L756,720 L752,732 L740,738 L730,745 L722,760 L700,760 L600,720 L520,690 L500,640 L505,600Z M800,758 L820,760 L840,752 L860,748 L880,746 L890,740 L910,734 L920,726 L930,722 L938,720 L944,730 L952,748 L990,780 L930,880 L840,850 L790,770Z M1190,778 L1197,775 L1215,768 L1233,766 L1265,760 L1270,890 L1180,890 L1185,790Z M358,449 L363,449.8 L369.6,454.5 L372.8,464 L377.5,471.8 L385.3,479.6 L391.6,486 L397.9,495.3 L401,504.7 L407.3,514.1 L412,523.6 L419.8,533 L426,542.4 L432.4,551.8 L442,566 L460,578 L480,588 L500,598 L507,610 L492,617 L470,612 L450,606 L430,604 L415,610 L400,622 L380,600 L350,560 L330,520 L320,495 L328,488 L333.5,487.5 L341.4,489 L349.2,485.9 L350.8,471.8 L350.8,460.8 L355,452Z M300,225 L493,225 L493,262 L498,272 L510,284 L520,294 L529,297 L528,306 L526,318 L529,322 L536,323 L542,330 L548,340 L554,346 L560,356 L572,354 L590,352 L598,350 L598,420 L360,420 L359,380 L360,340 L358,326 L340,318 L300,315Z" fill="#cc0000"/>
<path d="M476.0,364.0 L473.7,364.3 L471.6,365.3 L469.8,366.9 L468.6,368.9 L468.0,372.0 L468.2,385.6 L469.3,388.4 L471.6,390.7 L484.2,397.1 L502.7,404.7 L523.4,409.8 L544.2,413.0 L561.6,411.8 L564.4,410.7 L567.1,407.8 L568.0,404.0 L567.4,400.9 L562.2,392.9 L559.8,390.9 L557.6,390.2 L541.3,388.1 L522.3,384.3 L508.4,378.7 L493.1,370.6 L479.1,364.6Z M1178.1,582.2 L1154.6,598.6 L1153.3,601.0 L1153.0,603.7 L1153.8,606.3 L1155.6,608.4 L1162.3,612.5 L1165.7,613.0 L1180.0,609.7 L1195.9,603.8 L1208.9,594.9 L1219.4,582.4 L1228.2,569.3 L1229.0,566.7 L1228.5,563.3 L1226.9,561.1 L1224.7,559.5 L1218.4,557.1 L1216.3,557.0 L1214.3,557.5 L1212.6,558.6 L1203.7,566.4 L1192.3,574.1Z" fill="#dc3800" fill-rule="evenodd"/><path d="M476.0,365.6 L472.4,366.7 L470.7,368.4 L469.9,370.1 L469.9,385.9 L470.7,387.6 L472.4,389.3 L485.6,395.9 L503.1,403.1 L523.8,408.3 L544.4,411.4 L561.2,410.3 L564.1,408.9 L565.9,406.4 L566.4,404.0 L565.6,401.0 L560.9,393.9 L558.4,392.1 L541.1,389.7 L521.8,385.8 L507.7,380.2 L492.4,372.1 L478.4,366.1Z M1178.9,583.3 L1156.0,599.0 L1154.8,600.9 L1154.4,603.0 L1154.8,605.1 L1156.0,607.0 L1162.4,610.9 L1165.5,611.6 L1179.6,608.4 L1195.1,602.7 L1208.0,594.0 L1218.3,581.6 L1226.9,568.6 L1227.6,566.5 L1227.2,563.9 L1226.0,562.0 L1224.1,560.8 L1218.1,558.5 L1214.9,558.8 L1204.6,567.5 L1193.0,575.3Z M1179.1,596.7 L1185.0,592.7 L1203.7,581.6 L1200.2,585.8 L1189.4,593.0Z" fill="#f0a800" fill-rule="evenodd"/><path d="M476.0,367.2 L473.0,368.3 L471.3,371.1 L471.2,384.0 L471.6,385.8 L473.7,388.2 L486.2,394.4 L503.6,401.6 L524.1,406.7 L544.5,409.8 L560.9,408.7 L563.0,407.7 L564.4,405.8 L564.8,403.5 L564.2,401.7 L559.7,395.0 L557.8,393.6 L540.8,391.3 L521.4,387.4 L507.0,381.6 L491.8,373.6 L477.8,367.6Z M480.8,379.3 L487.9,382.3 L502.7,390.2 L510.9,393.5 L506.5,392.4 L490.0,385.6 L480.8,381.0Z M1179.7,584.5 L1157.0,600.0 L1156.1,601.4 L1155.8,603.0 L1156.1,604.6 L1157.0,606.0 L1163.0,609.7 L1165.4,610.2 L1179.2,607.0 L1194.3,601.5 L1207.2,592.7 L1217.2,580.7 L1225.5,568.3 L1226.2,566.4 L1225.9,564.4 L1225.0,563.0 L1223.6,562.1 L1217.8,559.9 L1215.4,560.1 L1205.4,568.7 L1193.8,576.4Z M1184.2,591.6 L1198.3,583.5 L1211.0,575.0 L1201.2,586.8 L1190.1,594.2 L1176.8,599.0 L1171.3,600.2Z" fill="#b3d244" fill-rule="evenodd"/><path d="M476.0,369.0 L474.1,369.7 L473.0,371.4 L473.2,385.2 L474.6,386.7 L486.8,392.8 L504.1,399.9 L524.4,405.0 L545.0,408.0 L560.6,407.0 L561.9,406.3 L562.8,405.2 L562.7,402.6 L558.3,396.1 L557.2,395.2 L540.5,393.0 L520.9,389.1 L506.3,383.2 L491.2,375.2Z M479.0,376.6 L488.7,380.7 L503.8,388.8 L519.1,394.9 L539.4,399.0 L554.2,400.8 L554.6,401.3 L545.1,401.9 L525.6,399.0 L506.0,394.1 L489.2,387.2 L479.0,382.1Z M1180.5,585.8 L1158.3,600.9 L1157.4,602.7 L1157.9,604.7 L1163.7,608.3 L1165.3,608.6 L1178.8,605.5 L1193.5,600.2 L1206.1,591.7 L1216.2,579.5 L1224.3,567.3 L1224.7,566.0 L1224.3,564.7 L1223.3,563.7 L1218.0,561.5 L1215.7,561.7 L1206.4,569.9 L1194.6,577.7Z M1164.9,602.8 L1183.4,590.3 L1197.5,582.2 L1209.5,574.2 L1217.5,567.1 L1218.0,567.3 L1211.9,576.4 L1202.2,588.0 L1190.8,595.6 L1177.3,600.4 L1165.4,603.2Z" fill="#4a8fa0" fill-rule="evenodd"/>
<path d="M476,372 L490,378 L505,386 L520,392 L540,396 L556,398 L560,404 L545,405 L525,402 L505,397 L488,390 L476,384Z M1217,564 L1222,566 L1214,578 L1204,590 L1192,598 L1178,603 L1165,606 L1160,603 L1170,596 L1182,588 L1196,580 L1208,572Z" fill="#1c72ce"/>
<path d="M560,215 L1560,215 L1560,440 L1460,440 L1440,432 L1426,428 L1410,427 L1395,430 L1388,437 L1377,443.3 L1367,440.3 L1357,437.2 L1342,435.2 L1327,436.2 L1316.7,438.3 L1306.6,442.3 L1296.5,448.3 L1291.5,454.4 L1284.4,458.4 L1281,478 L1259,478 L1261,472.6 L1266,470.5 L1271,462.5 L1261,460.5 L1251,455.4 L1242,449.4 L1238.7,455 L1227.4,451.6 L1224,458.3 L1213,458.3 L1209.5,462.8 L1202.8,467.3 L1197,462.8 L1196,447 L1202.8,438 L1220.7,433.6 L1222,425 L1185,426 L1152,426 L1142,421 L1132,408 L1126,392 L1120,385 L1100,420 L1092,424 L1080,423 L1060,423 L1040,427 L1020,435 L1000,437 L987.6,437 L975,432 L969,421 L962.9,433.2 L950.5,444.4 L938,454.3 L925.7,442 L919.5,429.5 L910.9,429.5 L901,439.4 L888.6,444.4 L876,439.4 L863.8,444.4 L851.4,454.3 L841.5,460.5 L839,466.7 L833,464.2 L820.5,454.3 L808,444.4 L792,447 L776,444 L764.8,442 L746,440 L738,428 L728,412 L718,404 L705,405 L700,446 L598,446 L598,341 L560,341 L540,300 L530,260Z" fill="#b3b3b3"/>
<path d="M596,215 L1200,215 L1200,356 L1186,356 L1180,365 L1172,368 L1157,371 L1143,376 L1132,372 L1128,360 L1122,356 L1100,350 L1084,352 L1076.6,352 L1067.6,361 L1050,365.6 L1027,365.6 L1012,362 L1016,380 L1000,384 L980,385 L960,386 L940,388 L920,384 L907,383 L900,382 L880,374 L860,366 L840,358 L820,342 L800,336 L780,328 L760,326 L748,322 L756,316 L758,300 L752,288 L746,284 L746,270 L730,267 L710,265 L690,263 L660,259 L640,257 L610,256 L600,250 L596,236Z" fill="#4d4d4d"/>
<path d="M1320,330 L1540,250 L1540,380 L1447,388 L1440,386 L1430,390 L1420,395 L1411,401 L1394,402 L1390,410 L1380,410 L1372,405 L1366,400 L1360,393 L1350,388 L1340,385 L1330,380Z" fill="#4d4d4d"/>
<path d="M798,398.6 L826.7,404.8 L829,413.4 L816.8,412.2 L806.9,424.6 L799.4,439.4 L789.5,439.4 L777,429.5 L764.8,420.9 L758.6,412.2 L771,407.2 L789.5,409.7Z M746,396 L760,396 L768,402 L765,420 L760,440 L746,444Z M746,378 L760,376 L778,383 L775,393 L746,395Z M715,405 L746,400 L746,446 L725,446 L712,430Z" fill="#1c72ce"/>
<path d="M735,560 L742,556 L750,558 L752,566 L746,573 L738,572Z M736,458 L745,452 L752,460 L758,470 L763,485 L762,498 L755,500 L750,488 L742,475Z" fill="#b3b3b3"/>
<filter id="tf14" x="316" y="260" width="52" height="51" filterUnits="userSpaceOnUse" color-interpolation-filters="sRGB"><feTurbulence type="fractalNoise" baseFrequency="0.12" numOctaves="3" seed="29"/><feColorMatrix type="matrix" values="1 0 0 0 0 1 0 0 0 0 1 0 0 0 0 0 0 0 0 1"/><feComponentTransfer><feFuncR type="table" tableValues="0 0 0 0 0.003 0.014 0.047 0.11 0.209 0.331 0.494 0.672 0.802 0.888 0.95 0.984 0.997 1 1 1 1"/><feFuncG type="table" tableValues="0 0 0 0 0.003 0.014 0.047 0.11 0.209 0.331 0.494 0.672 0.802 0.888 0.95 0.984 0.997 1 1 1 1"/><feFuncB type="table" tableValues="0 0 0 0 0.003 0.014 0.047 0.11 0.209 0.331 0.494 0.672 0.802 0.888 0.95 0.984 0.997 1 1 1 1"/></feComponentTransfer><feComponentTransfer><feFuncR type="discrete" tableValues="0.290 0.290 0.290 0.290 0.702 0.702 0.702 0.702 0.702 0.702 0.702 0.702 0.702 0.702 0.941 0.941 0.941 0.941 0.941 0.941 0.941 0.941 0.941 0.941 0.941 0.941 0.941 0.941 0.863 0.863 0.863 0.863 0.863 0.863 0.863 0.863 0.800 0.800 0.800 0.800"/><feFuncG type="discrete" tableValues="0.561 0.561 0.561 0.561 0.824 0.824 0.824 0.824 0.824 0.824 0.824 0.824 0.824 0.824 0.659 0.659 0.659 0.659 0.659 0.659 0.659 0.659 0.659 0.659 0.659 0.659 0.659 0.659 0.220 0.220 0.220 0.220 0.220 0.220 0.220 0.220 0.000 0.000 0.000 0.000"/><feFuncB type="discrete" tableValues="0.627 0.627 0.627 0.627 0.267 0.267 0.267 0.267 0.267 0.267 0.267 0.267 0.267 0.267 0.000 0.000 0.000 0.000 0.000 0.000 0.000 0.000 0.000 0.000 0.000 0.000 0.000 0.000 0.000 0.000 0.000 0.000 0.000 0.000 0.000 0.000 0.000 0.000 0.000 0.000"/><feFuncA type="discrete" tableValues="1.000 1.000 1.000 1.000 1.000 1.000 1.000 1.000 1.000 1.000 1.000 1.000 1.000 1.000 1.000 1.000 1.000 1.000 1.000 1.000 1.000 1.000 1.000 1.000 1.000 1.000 1.000 1.000 1.000 1.000 1.000 1.000 1.000 1.000 1.000 1.000 1.000 1.000 1.000 1.000"/></feComponentTransfer></filter><clipPath id="tc14"><path d="M318,270 L330,262 L345,268 L362,275 L366,290 L352,305 L335,309 L326,300Z"/></clipPath><rect x="316" y="260" width="52" height="51" filter="url(#tf14)" clip-path="url(#tc14)"/>
<filter id="tf15" x="390" y="264" width="84" height="55" filterUnits="userSpaceOnUse" color-interpolation-filters="sRGB"><feTurbulence type="fractalNoise" baseFrequency="0.09" numOctaves="3" seed="30"/><feColorMatrix type="matrix" values="1 0 0 0 0 1 0 0 0 0 1 0 0 0 0 0 0 0 0 1"/><feComponentTransfer><feFuncR type="table" tableValues="0 0 0 0 0.003 0.014 0.047 0.11 0.209 0.331 0.494 0.672 0.802 0.888 0.95 0.984 0.997 1 1 1 1"/><feFuncG type="table" tableValues="0 0 0 0 0.003 0.014 0.047 0.11 0.209 0.331 0.494 0.672 0.802 0.888 0.95 0.984 0.997 1 1 1 1"/><feFuncB type="table" tableValues="0 0 0 0 0.003 0.014 0.047 0.11 0.209 0.331 0.494 0.672 0.802 0.888 0.95 0.984 0.997 1 1 1 1"/></feComponentTransfer><feComponentTransfer><feFuncR type="discrete" tableValues="0.110 0.110 0.110 0.290 0.290 0.702 0.702 0.702 0.702 0.702 0.941 0.941 0.941 0.941 0.941 0.941 0.941 0.941 0.941 0.941 0.863 0.863 0.863 0.863 0.863 0.863 0.863 0.863 0.863 0.863 0.800 0.800 0.800 0.800 0.800 0.800 0.800 0.800 0.800 0.800"/><feFuncG type="discrete" tableValues="0.447 0.447 0.447 0.561 0.561 0.824 0.824 0.824 0.824 0.824 0.659 0.659 0.659 0.659 0.659 0.659 0.659 0.659 0.659 0.659 0.220 0.220 0.220 0.220 0.220 0.220 0.220 0.220 0.220 0.220 0.000 0.000 0.000 0.000 0.000 0.000 0.000 0.000 0.000 0.000"/><feFuncB type="discrete" tableValues="0.808 0.808 0.808 0.627 0.627 0.267 0.267 0.267 0.267 0.267 0.000 0.000 0.000 0.000 0.000 0.000 0.000 0.000 0.000 0.000 0.000 0.000 0.000 0.000 0.000 0.000 0.000 0.000 0.000 0.000 0.000 0.000 0.000 0.000 0.000 0.000 0.000 0.000 0.000 0.000"/><feFuncA type="discrete" tableValues="1.000 1.000 1.000 1.000 1.000 1.000 1.000 1.000 1.000 1.000 1.000 1.000 1.000 1.000 1.000 1.000 1.000 1.000 1.000 1.000 1.000 1.000 1.000 1.000 1.000 1.000 1.000 1.000 1.000 1.000 1.000 1.000 1.000 1.000 1.000 1.000 1.000 1.000 1.000 1.000"/></feComponentTransfer></filter><clipPath id="tc15"><path d="M392,285 L400,272 L420,266 L445,270 L465,280 L472,300 L470,314 L440,316 L410,317 L395,305Z"/></clipPath><rect x="390" y="264" width="84" height="55" filter="url(#tf15)" clip-path="url(#tc15)"/>
<filter id="tf16" x="565" y="648" width="72" height="52" filterUnits="userSpaceOnUse" color-interpolation-filters="sRGB"><feTurbulence type="fractalNoise" baseFrequency="0.1" numOctaves="3" seed="32"/><feColorMatrix type="matrix" values="1 0 0 0 0 1 0 0 0 0 1 0 0 0 0 0 0 0 0 1"/><feComponentTransfer><feFuncR type="table" tableValues="0 0 0 0 0.003 0.014 0.047 0.11 0.209 0.331 0.494 0.672 0.802 0.888 0.95 0.984 0.997 1 1 1 1"/><feFuncG type="table" tableValues="0 0 0 0 0.003 0.014 0.047 0.11 0.209 0.331 0.494 0.672 0.802 0.888 0.95 0.984 0.997 1 1 1 1"/><feFuncB type="table" tableValues="0 0 0 0 0.003 0.014 0.047 0.11 0.209 0.331 0.494 0.672 0.802 0.888 0.95 0.984 0.997 1 1 1 1"/></feComponentTransfer><feComponentTransfer><feFuncR type="discrete" tableValues="0.110 0.110 0.110 0.110 0.110 0.110 0.110 0.110 0.110 0.110 0.110 0.110 0.110 0.110 0.110 0.290 0.290 0.290 0.702 0.702 0.702 0.702 0.702 0.702 0.941 0.941 0.800 0.800 0.800 0.800 0.800 0.800 0.800 0.800 0.800 0.800 0.800 0.800 0.800 0.800"/><feFuncG type="discrete" tableValues="0.447 0.447 0.447 0.447 0.447 0.447 0.447 0.447 0.447 0.447 0.447 0.447 0.447 0.447 0.447 0.561 0.561 0.561 0.824 0.824 0.824 0.824 0.824 0.824 0.659 0.659 0.000 0.000 0.000 0.000 0.000 0.000 0.000 0.000 0.000 0.000 0.000 0.000 0.000 0.000"/><feFuncB type="discrete" tableValues="0.808 0.808 0.808 0.808 0.808 0.808 0.808 0.808 0.808 0.808 0.808 0.808 0.808 0.808 0.808 0.627 0.627 0.627 0.267 0.267 0.267 0.267 0.267 0.267 0.000 0.000 0.000 0.000 0.000 0.000 0.000 0.000 0.000 0.000 0.000 0.000 0.000 0.000 0.000 0.000"/><feFuncA type="discrete" tableValues="1.000 1.000 1.000 1.000 1.000 1.000 1.000 1.000 1.000 1.000 1.000 1.000 1.000 1.000 1.000 1.000 1.000 1.000 1.000 1.000 1.000 1.000 1.000 1.000 1.000 1.000 1.000 1.000 1.000 1.000 1.000 1.000 1.000 1.000 1.000 1.000 1.000 1.000 1.000 1.000"/></feComponentTransfer></filter><clipPath id="tc16"><path d="M567,655 L585,650 L610,652 L630,662 L635,685 L620,698 L590,698 L570,688Z"/></clipPath><rect x="565" y="648" width="72" height="52" filter="url(#tf16)" clip-path="url(#tc16)"/>
<filter id="tf17" x="316" y="334" width="46" height="88" filterUnits="userSpaceOnUse" color-interpolation-filters="sRGB"><feTurbulence type="fractalNoise" baseFrequency="0.12" numOctaves="3" seed="31"/><feColorMatrix type="matrix" values="1 0 0 0 0 1 0 0 0 0 1 0 0 0 0 0 0 0 0 1"/><feComponentTransfer><feFuncR type="table" tableValues="0 0 0 0 0.003 0.014 0.047 0.11 0.209 0.331 0.494 0.672 0.802 0.888 0.95 0.984 0.997 1 1 1 1"/><feFuncG type="table" tableValues="0 0 0 0 0.003 0.014 0.047 0.11 0.209 0.331 0.494 0.672 0.802 0.888 0.95 0.984 0.997 1 1 1 1"/><feFuncB type="table" tableValues="0 0 0 0 0.003 0.014 0.047 0.11 0.209 0.331 0.494 0.672 0.802 0.888 0.95 0.984 0.997 1 1 1 1"/></feComponentTransfer><feComponentTransfer><feFuncR type="discrete" tableValues="0.110 0.110 0.110 0.110 0.110 0.110 0.110 0.110 0.110 0.110 0.110 0.110 0.110 0.110 0.110 0.110 0.110 0.110 0.110 0.110 0.110 0.110 0.110 0.110 0.110 0.110 0.110 0.110 0.110 0.110 0.290 0.290 0.290 0.702 0.702 0.702 0.702 0.702 0.941 0.800"/><feFuncG type="discrete" tableValues="0.447 0.447 0.447 0.447 0.447 0.447 0.447 0.447 0.447 0.447 0.447 0.447 0.447 0.447 0.447 0.447 0.447 0.447 0.447 0.447 0.447 0.447 0.447 0.447 0.447 0.447 0.447 0.447 0.447 0.447 0.561 0.561 0.561 0.824 0.824 0.824 0.824 0.824 0.659 0.000"/><feFuncB type="discrete" tableValues="0.808 0.808 0.808 0.808 0.808 0.808 0.808 0.808 0.808 0.808 0.808 0.808 0.808 0.808 0.808 0.808 0.808 0.808 0.808 0.808 0.808 0.808 0.808 0.808 0.808 0.808 0.808 0.808 0.808 0.808 0.627 0.627 0.627 0.267 0.267 0.267 0.267 0.267 0.000 0.000"/><feFuncA type="discrete" tableValues="1.000 1.000 1.000 1.000 1.000 1.000 1.000 1.000 1.000 1.000 1.000 1.000 1.000 1.000 1.000 1.000 1.000 1.000 1.000 1.000 1.000 1.000 1.000 1.000 1.000 1.000 1.000 1.000 1.000 1.000 1.000 1.000 1.000 1.000 1.000 1.000 1.000 1.000 1.000 1.000"/></feComponentTransfer></filter><clipPath id="tc17"><path d="M318,336 L345,336 L360,340 L359,380 L360,420 L318,420Z"/></clipPath><rect x="316" y="334" width="46" height="88" filter="url(#tf17)" clip-path="url(#tc17)"/>
<filter id="tf18" x="316" y="310" width="48" height="32" filterUnits="userSpaceOnUse" color-interpolation-filters="sRGB"><feTurbulence type="fractalNoise" baseFrequency="0.12" numOctaves="3" seed="33"/><feColorMatrix type="matrix" values="1 0 0 0 0 1 0 0 0 0 1 0 0 0 0 0 0 0 0 1"/><feComponentTransfer><feFuncR type="table" tableValues="0 0 0 0 0.003 0.014 0.047 0.11 0.209 0.331 0.494 0.672 0.802 0.888 0.95 0.984 0.997 1 1 1 1"/><feFuncG type="table" tableValues="0 0 0 0 0.003 0.014 0.047 0.11 0.209 0.331 0.494 0.672 0.802 0.888 0.95 0.984 0.997 1 1 1 1"/><feFuncB type="table" tableValues="0 0 0 0 0.003 0.014 0.047 0.11 0.209 0.331 0.494 0.672 0.802 0.888 0.95 0.984 0.997 1 1 1 1"/></feComponentTransfer><feComponentTransfer><feFuncR type="discrete" tableValues="0.290 0.290 0.290 0.290 0.702 0.702 0.702 0.702 0.702 0.702 0.702 0.702 0.941 0.941 0.941 0.941 0.941 0.941 0.941 0.941 0.863 0.863 0.863 0.863 0.863 0.863 0.800 0.800 0.800 0.800 0.800 0.800 0.800 0.800 0.800 0.800 0.800 0.800 0.800 0.800"/><feFuncG type="discrete" tableValues="0.561 0.561 0.561 0.561 0.824 0.824 0.824 0.824 0.824 0.824 0.824 0.824 0.659 0.659 0.659 0.659 0.659 0.659 0.659 0.659 0.220 0.220 0.220 0.220 0.220 0.220 0.000 0.000 0.000 0.000 0.000 0.000 0.000 0.000 0.000 0.000 0.000 0.000 0.000 0.000"/><feFuncB type="discrete" tableValues="0.627 0.627 0.627 0.627 0.267 0.267 0.267 0.267 0.267 0.267 0.267 0.267 0.000 0.000 0.000 0.000 0.000 0.000 0.000 0.000 0.000 0.000 0.000 0.000 0.000 0.000 0.000 0.000 0.000 0.000 0.000 0.000 0.000 0.000 0.000 0.000 0.000 0.000 0.000 0.000"/><feFuncA type="discrete" tableValues="1.000 1.000 1.000 1.000 1.000 1.000 1.000 1.000 1.000 1.000 1.000 1.000 1.000 1.000 1.000 1.000 1.000 1.000 1.000 1.000 1.000 1.000 1.000 1.000 1.000 1.000 1.000 1.000 1.000 1.000 1.000 1.000 1.000 1.000 1.000 1.000 1.000 1.000 1.000 1.000"/></feComponentTransfer></filter><clipPath id="tc18"><path d="M318,312 L345,314 L360,322 L362,340 L318,340Z"/></clipPath><rect x="316" y="310" width="48" height="32" filter="url(#tf18)" clip-path="url(#tc18)"/>
<filter id="tf19" x="382" y="234" width="92" height="30" filterUnits="userSpaceOnUse" color-interpolation-filters="sRGB"><feTurbulence type="fractalNoise" baseFrequency="0.14" numOctaves="3" seed="37"/><feColorMatrix type="matrix" values="1 0 0 0 0 1 0 0 0 0 1 0 0 0 0 0 0 0 0 1"/><feComponentTransfer><feFuncR type="table" tableValues="0 0 0 0 0.003 0.014 0.047 0.11 0.209 0.331 0.494 0.672 0.802 0.888 0.95 0.984 0.997 1 1 1 1"/><feFuncG type="table" tableValues="0 0 0 0 0.003 0.014 0.047 0.11 0.209 0.331 0.494 0.672 0.802 0.888 0.95 0.984 0.997 1 1 1 1"/><feFuncB type="table" tableValues="0 0 0 0 0.003 0.014 0.047 0.11 0.209 0.331 0.494 0.672 0.802 0.888 0.95 0.984 0.997 1 1 1 1"/></feComponentTransfer><feComponentTransfer><feFuncR type="discrete" tableValues="0.702 0.702 0.702 0.702 0.702 0.702 0.702 0.702 0.702 0.702 0.800 0.800 0.800 0.800 0.800 0.800 0.800 0.800 0.800 0.800 0.800 0.800 0.800 0.800 0.800 0.800 0.800 0.800 0.800 0.800 0.800 0.800 0.800 0.800 0.800 0.800 0.800 0.800 0.800 0.800"/><feFuncG type="discrete" tableValues="0.702 0.702 0.702 0.702 0.702 0.702 0.702 0.702 0.702 0.702 0.000 0.000 0.000 0.000 0.000 0.000 0.000 0.000 0.000 0.000 0.000 0.000 0.000 0.000 0.000 0.000 0.000 0.000 0.000 0.000 0.000 0.000 0.000 0.000 0.000 0.000 0.000 0.000 0.000 0.000"/><feFuncB type="discrete" tableValues="0.702 0.702 0.702 0.702 0.702 0.702 0.702 0.702 0.702 0.702 0.000 0.000 0.000 0.000 0.000 0.000 0.000 0.000 0.000 0.000 0.000 0.000 0.000 0.000 0.000 0.000 0.000 0.000 0.000 0.000 0.000 0.000 0.000 0.000 0.000 0.000 0.000 0.000 0.000 0.000"/><feFuncA type="discrete" tableValues="1.000 1.000 1.000 1.000 1.000 1.000 1.000 1.000 1.000 1.000 1.000 1.000 1.000 1.000 1.000 1.000 1.000 1.000 1.000 1.000 1.000 1.000 1.000 1.000 1.000 1.000 1.000 1.000 1.000 1.000 1.000 1.000 1.000 1.000 1.000 1.000 1.000 1.000 1.000 1.000"/></feComponentTransfer></filter><clipPath id="tc19"><path d="M384,236 L472,236 L472,262 L384,262Z"/></clipPath><rect x="382" y="234" width="92" height="30" filter="url(#tf19)" clip-path="url(#tc19)"/>
<filter id="tf20" x="360" y="324" width="116" height="38" filterUnits="userSpaceOnUse" color-interpolation-filters="sRGB"><feTurbulence type="fractalNoise" baseFrequency="0.1" numOctaves="3" seed="41"/><feColorMatrix type="matrix" values="1 0 0 0 0 1 0 0 0 0 1 0 0 0 0 0 0 0 0 1"/><feComponentTransfer><feFuncR type="table" tableValues="0 0 0 0 0.003 0.014 0.047 0.11 0.209 0.331 0.494 0.672 0.802 0.888 0.95 0.984 0.997 1 1 1 1"/><feFuncG type="table" tableValues="0 0 0 0 0.003 0.014 0.047 0.11 0.209 0.331 0.494 0.672 0.802 0.888 0.95 0.984 0.997 1 1 1 1"/><feFuncB type="table" tableValues="0 0 0 0 0.003 0.014 0.047 0.11 0.209 0.331 0.494 0.672 0.802 0.888 0.95 0.984 0.997 1 1 1 1"/></feComponentTransfer><feComponentTransfer><feFuncR type="discrete" tableValues="0.290 0.290 0.702 0.702 0.702 0.702 0.941 0.941 0.941 0.941 0.941 0.863 0.863 0.863 0.800 0.800 0.800 0.800 0.800 0.800 0.800 0.800 0.800 0.800 0.800 0.800 0.800 0.800 0.800 0.800 0.800 0.800 0.800 0.800 0.800 0.800 0.800 0.800 0.800 0.800"/><feFuncG type="discrete" tableValues="0.561 0.561 0.824 0.824 0.824 0.824 0.659 0.659 0.659 0.659 0.659 0.220 0.220 0.220 0.000 0.000 0.000 0.000 0.000 0.000 0.000 0.000 0.000 0.000 0.000 0.000 0.000 0.000 0.000 0.000 0.000 0.000 0.000 0.000 0.000 0.000 0.000 0.000 0.000 0.000"/><feFuncB type="discrete" tableValues="0.627 0.627 0.267 0.267 0.267 0.267 0.000 0.000 0.000 0.000 0.000 0.000 0.000 0.000 0.000 0.000 0.000 0.000 0.000 0.000 0.000 0.000 0.000 0.000 0.000 0.000 0.000 0.000 0.000 0.000 0.000 0.000 0.000 0.000 0.000 0.000 0.000 0.000 0.000 0.000"/><feFuncA type="discrete" tableValues="1.000 1.000 1.000 1.000 1.000 1.000 1.000 1.000 1.000 1.000 1.000 1.000 1.000 1.000 1.000 1.000 1.000 1.000 1.000 1.000 1.000 1.000 1.000 1.000 1.000 1.000 1.000 1.000 1.000 1.000 1.000 1.000 1.000 1.000 1.000 1.000 1.000 1.000 1.000 1.000"/></feComponentTransfer></filter><clipPath id="tc20"><path d="M362,330 L474,326 L474,360 L362,360Z"/></clipPath><rect x="360" y="324" width="116" height="38" filter="url(#tf20)" clip-path="url(#tc20)"/>
<filter id="tf21" x="360" y="358" width="116" height="62" filterUnits="userSpaceOnUse" color-interpolation-filters="sRGB"><feTurbulence type="fractalNoise" baseFrequency="0.1" numOctaves="3" seed="42"/><feColorMatrix type="matrix" values="1 0 0 0 0 1 0 0 0 0 1 0 0 0 0 0 0 0 0 1"/><feComponentTransfer><feFuncR type="table" tableValues="0 0 0 0 0.003 0.014 0.047 0.11 0.209 0.331 0.494 0.672 0.802 0.888 0.95 0.984 0.997 1 1 1 1"/><feFuncG type="table" tableValues="0 0 0 0 0.003 0.014 0.047 0.11 0.209 0.331 0.494 0.672 0.802 0.888 0.95 0.984 0.997 1 1 1 1"/><feFuncB type="table" tableValues="0 0 0 0 0.003 0.014 0.047 0.11 0.209 0.331 0.494 0.672 0.802 0.888 0.95 0.984 0.997 1 1 1 1"/></feComponentTransfer><feComponentTransfer><feFuncR type="discrete" tableValues="0.290 0.290 0.290 0.702 0.702 0.702 0.941 0.941 0.941 0.800 0.800 0.800 0.800 0.800 0.800 0.800 0.800 0.800 0.800 0.800 0.800 0.800 0.800 0.800 0.800 0.800 0.800 0.800 0.800 0.800 0.800 0.800 0.800 0.800 0.800 0.800 0.800 0.800 0.702 0.702"/><feFuncG type="discrete" tableValues="0.561 0.561 0.561 0.824 0.824 0.824 0.659 0.659 0.659 0.000 0.000 0.000 0.000 0.000 0.000 0.000 0.000 0.000 0.000 0.000 0.000 0.000 0.000 0.000 0.000 0.000 0.000 0.000 0.000 0.000 0.000 0.000 0.000 0.000 0.000 0.000 0.000 0.000 0.702 0.702"/><feFuncB type="discrete" tableValues="0.627 0.627 0.627 0.267 0.267 0.267 0.000 0.000 0.000 0.000 0.000 0.000 0.000 0.000 0.000 0.000 0.000 0.000 0.000 0.000 0.000 0.000 0.000 0.000 0.000 0.000 0.000 0.000 0.000 0.000 0.000 0.000 0.000 0.000 0.000 0.000 0.000 0.000 0.702 0.702"/><feFuncA type="discrete" tableValues="1.000 1.000 1.000 1.000 1.000 1.000 1.000 1.000 1.000 1.000 1.000 1.000 1.000 1.000 1.000 1.000 1.000 1.000 1.000 1.000 1.000 1.000 1.000 1.000 1.000 1.000 1.000 1.000 1.000 1.000 1.000 1.000 1.000 1.000 1.000 1.000 1.000 1.000 1.000 1.000"/></feComponentTransfer></filter><clipPath id="tc21"><path d="M362,360 L474,360 L474,418 L362,418Z"/></clipPath><rect x="360" y="358" width="116" height="62" filter="url(#tf21)" clip-path="url(#tc21)"/>
<filter id="tf22" x="482" y="310" width="118" height="77" filterUnits="userSpaceOnUse" color-interpolation-filters="sRGB"><feTurbulence type="fractalNoise" baseFrequency="0.09" numOctaves="3" seed="43"/><feColorMatrix type="matrix" values="1 0 0 0 0 1 0 0 0 0 1 0 0 0 0 0 0 0 0 1"/><feComponentTransfer><feFuncR type="table" tableValues="0 0 0 0 0.003 0.014 0.047 0.11 0.209 0.331 0.494 0.672 0.802 0.888 0.95 0.984 0.997 1 1 1 1"/><feFuncG type="table" tableValues="0 0 0 0 0.003 0.014 0.047 0.11 0.209 0.331 0.494 0.672 0.802 0.888 0.95 0.984 0.997 1 1 1 1"/><feFuncB type="table" tableValues="0 0 0 0 0.003 0.014 0.047 0.11 0.209 0.331 0.494 0.672 0.802 0.888 0.95 0.984 0.997 1 1 1 1"/></feComponentTransfer><feComponentTransfer><feFuncR type="discrete" tableValues="0.302 0.302 0.302 0.302 0.302 0.302 0.302 0.302 0.302 0.302 0.302 0.302 0.702 0.702 0.702 0.702 0.702 0.702 0.702 0.702 0.702 0.702 0.702 0.702 0.702 0.702 0.702 0.702 0.800 0.800 0.800 0.800 0.800 0.800 0.800 0.800 0.800 0.800 0.800 0.800"/><feFuncG type="discrete" tableValues="0.302 0.302 0.302 0.302 0.302 0.302 0.302 0.302 0.302 0.302 0.302 0.302 0.702 0.702 0.702 0.702 0.702 0.702 0.702 0.702 0.702 0.702 0.702 0.702 0.702 0.702 0.702 0.702 0.000 0.000 0.000 0.000 0.000 0.000 0.000 0.000 0.000 0.000 0.000 0.000"/><feFuncB type="discrete" tableValues="0.302 0.302 0.302 0.302 0.302 0.302 0.302 0.302 0.302 0.302 0.302 0.302 0.702 0.702 0.702 0.702 0.702 0.702 0.702 0.702 0.702 0.702 0.702 0.702 0.702 0.702 0.702 0.702 0.000 0.000 0.000 0.000 0.000 0.000 0.000 0.000 0.000 0.000 0.000 0.000"/><feFuncA type="discrete" tableValues="1.000 1.000 1.000 1.000 1.000 1.000 1.000 1.000 1.000 1.000 1.000 1.000 1.000 1.000 1.000 1.000 1.000 1.000 1.000 1.000 1.000 1.000 1.000 1.000 1.000 1.000 1.000 1.000 1.000 1.000 1.000 1.000 1.000 1.000 1.000 1.000 1.000 1.000 1.000 1.000"/></feComponentTransfer></filter><clipPath id="tc22"><path d="M488,318 L510,312 L530,318 L545,330 L560,345 L575,352 L598,352 L598,372 L580,378 L560,382 L540,385 L520,382 L500,375 L490,362 L484,345Z"/></clipPath><rect x="482" y="310" width="118" height="77" filter="url(#tf22)" clip-path="url(#tc22)"/>
<filter id="tf23" x="491" y="234" width="111" height="124" filterUnits="userSpaceOnUse" color-interpolation-filters="sRGB"><feTurbulence type="fractalNoise" baseFrequency="0.09" numOctaves="3" seed="47"/><feColorMatrix type="matrix" values="1 0 0 0 0 1 0 0 0 0 1 0 0 0 0 0 0 0 0 1"/><feComponentTransfer><feFuncR type="table" tableValues="0 0 0 0 0.003 0.014 0.047 0.11 0.209 0.331 0.494 0.672 0.802 0.888 0.95 0.984 0.997 1 1 1 1"/><feFuncG type="table" tableValues="0 0 0 0 0.003 0.014 0.047 0.11 0.209 0.331 0.494 0.672 0.802 0.888 0.95 0.984 0.997 1 1 1 1"/><feFuncB type="table" tableValues="0 0 0 0 0.003 0.014 0.047 0.11 0.209 0.331 0.494 0.672 0.802 0.888 0.95 0.984 0.997 1 1 1 1"/></feComponentTransfer><feComponentTransfer><feFuncR type="discrete" tableValues="0.302 0.302 0.302 0.302 0.302 0.702 0.702 0.702 0.702 0.702 0.702 0.702 0.702 0.702 0.702 0.702 0.702 0.702 0.702 0.702 0.702 0.702 0.702 0.702 0.702 0.702 0.702 0.702 0.800 0.800 0.800 0.800 0.800 0.800 0.800 0.800 0.800 0.800 0.800 0.800"/><feFuncG type="discrete" tableValues="0.302 0.302 0.302 0.302 0.302 0.702 0.702 0.702 0.702 0.702 0.702 0.702 0.702 0.702 0.702 0.702 0.702 0.702 0.702 0.702 0.702 0.702 0.702 0.702 0.702 0.702 0.702 0.702 0.000 0.000 0.000 0.000 0.000 0.000 0.000 0.000 0.000 0.000 0.000 0.000"/><feFuncB type="discrete" tableValues="0.302 0.302 0.302 0.302 0.302 0.702 0.702 0.702 0.702 0.702 0.702 0.702 0.702 0.702 0.702 0.702 0.702 0.702 0.702 0.702 0.702 0.702 0.702 0.702 0.702 0.702 0.702 0.702 0.000 0.000 0.000 0.000 0.000 0.000 0.000 0.000 0.000 0.000 0.000 0.000"/><feFuncA type="discrete" tableValues="1.000 1.000 1.000 1.000 1.000 1.000 1.000 1.000 1.000 1.000 1.000 1.000 1.000 1.000 1.000 1.000 1.000 1.000 1.000 1.000 1.000 1.000 1.000 1.000 1.000 1.000 1.000 1.000 1.000 1.000 1.000 1.000 1.000 1.000 1.000 1.000 1.000 1.000 1.000 1.000"/></feComponentTransfer></filter><clipPath id="tc23"><path d="M493,236 L600,236 L600,341 L598,350 L590,352 L572,354 L560,356 L554,346 L548,340 L542,330 L536,323 L529,322 L526,318 L528,306 L529,297 L520,294 L510,284 L498,272 L493,262Z"/></clipPath><rect x="491" y="234" width="111" height="124" filter="url(#tf23)" clip-path="url(#tc23)"/>
<filter id="tf24" x="570" y="263" width="152" height="80" filterUnits="userSpaceOnUse" color-interpolation-filters="sRGB"><feTurbulence type="fractalNoise" baseFrequency="0.07" numOctaves="3" seed="53"/><feColorMatrix type="matrix" values="1 0 0 0 0 1 0 0 0 0 1 0 0 0 0 0 0 0 0 1"/><feComponentTransfer><feFuncR type="table" tableValues="0 0 0 0 0.003 0.014 0.047 0.11 0.209 0.331 0.494 0.672 0.802 0.888 0.95 0.984 0.997 1 1 1 1"/><feFuncG type="table" tableValues="0 0 0 0 0.003 0.014 0.047 0.11 0.209 0.331 0.494 0.672 0.802 0.888 0.95 0.984 0.997 1 1 1 1"/><feFuncB type="table" tableValues="0 0 0 0 0.003 0.014 0.047 0.11 0.209 0.331 0.494 0.672 0.802 0.888 0.95 0.984 0.997 1 1 1 1"/></feComponentTransfer><feComponentTransfer><feFuncR type="discrete" tableValues="0.702 0.702 0.702 0.702 0.702 0.702 0.702 0.702 0.702 0.702 0.702 0.702 0.941 0.941 0.941 0.941 0.941 0.941 0.941 0.941 0.941 0.941 0.941 0.941 0.941 0.863 0.863 0.863 0.863 0.800 0.800 0.800 0.800 0.800 0.800 0.800 0.800 0.800 0.800 0.800"/><feFuncG type="discrete" tableValues="0.702 0.702 0.702 0.702 0.702 0.702 0.824 0.824 0.824 0.824 0.824 0.824 0.659 0.659 0.659 0.659 0.659 0.659 0.659 0.659 0.659 0.659 0.659 0.659 0.659 0.220 0.220 0.220 0.220 0.000 0.000 0.000 0.000 0.000 0.000 0.000 0.000 0.000 0.000 0.000"/><feFuncB type="discrete" tableValues="0.702 0.702 0.702 0.702 0.702 0.702 0.267 0.267 0.267 0.267 0.267 0.267 0.000 0.000 0.000 0.000 0.000 0.000 0.000 0.000 0.000 0.000 0.000 0.000 0.000 0.000 0.000 0.000 0.000 0.000 0.000 0.000 0.000 0.000 0.000 0.000 0.000 0.000 0.000 0.000"/><feFuncA type="discrete" tableValues="1.000 1.000 1.000 1.000 1.000 1.000 1.000 1.000 1.000 1.000 1.000 1.000 1.000 1.000 1.000 1.000 1.000 1.000 1.000 1.000 1.000 1.000 1.000 1.000 1.000 1.000 1.000 1.000 1.000 1.000 1.000 1.000 1.000 1.000 1.000 1.000 1.000 1.000 1.000 1.000"/></feComponentTransfer></filter><clipPath id="tc24"><path d="M575,275 L600,265 L640,268 L680,282 L717,300 L720,320 L717,338 L690,340 L640,340 L600,341 L580,330 L572,300Z"/></clipPath><rect x="570" y="263" width="152" height="80" filter="url(#tf24)" clip-path="url(#tc24)"/>
<filter id="tf25" x="596" y="339" width="152" height="109" filterUnits="userSpaceOnUse" color-interpolation-filters="sRGB"><feTurbulence type="fractalNoise" baseFrequency="0.08" numOctaves="3" seed="59"/><feColorMatrix type="matrix" values="1 0 0 0 0 1 0 0 0 0 1 0 0 0 0 0 0 0 0 1"/><feComponentTransfer><feFuncR type="table" tableValues="0 0 0 0 0.003 0.014 0.047 0.11 0.209 0.331 0.494 0.672 0.802 0.888 0.95 0.984 0.997 1 1 1 1"/><feFuncG type="table" tableValues="0 0 0 0 0.003 0.014 0.047 0.11 0.209 0.331 0.494 0.672 0.802 0.888 0.95 0.984 0.997 1 1 1 1"/><feFuncB type="table" tableValues="0 0 0 0 0.003 0.014 0.047 0.11 0.209 0.331 0.494 0.672 0.802 0.888 0.95 0.984 0.997 1 1 1 1"/></feComponentTransfer><feComponentTransfer><feFuncR type="discrete" tableValues="0.302 0.302 0.302 0.302 0.702 0.702 0.702 0.702 0.702 0.702 0.702 0.702 0.702 0.702 0.702 0.702 0.702 0.702 0.702 0.702 0.702 0.702 0.702 0.702 0.702 0.702 0.702 0.702 0.702 0.702 0.800 0.800 0.800 0.800 0.800 0.800 0.941 0.941 0.941 0.941"/><feFuncG type="discrete" tableValues="0.302 0.302 0.302 0.302 0.702 0.702 0.702 0.702 0.702 0.702 0.702 0.702 0.702 0.702 0.702 0.702 0.702 0.702 0.702 0.702 0.702 0.702 0.702 0.702 0.702 0.702 0.702 0.702 0.702 0.702 0.000 0.000 0.000 0.000 0.000 0.000 0.659 0.659 0.659 0.659"/><feFuncB type="discrete" tableValues="0.302 0.302 0.302 0.302 0.702 0.702 0.702 0.702 0.702 0.702 0.702 0.702 0.702 0.702 0.702 0.702 0.702 0.702 0.702 0.702 0.702 0.702 0.702 0.702 0.702 0.702 0.702 0.702 0.702 0.702 0.000 0.000 0.000 0.000 0.000 0.000 0.000 0.000 0.000 0.000"/><feFuncA type="discrete" tableValues="1.000 1.000 1.000 1.000 1.000 1.000 1.000 1.000 1.000 1.000 1.000 1.000 1.000 1.000 1.000 1.000 1.000 1.000 1.000 1.000 1.000 1.000 1.000 1.000 1.000 1.000 1.000 1.000 1.000 1.000 1.000 1.000 1.000 1.000 1.000 1.000 1.000 1.000 1.000 1.000"/></feComponentTransfer></filter><clipPath id="tc25"><path d="M598,341 L746,341 L746,400 L715,405 L712,430 L725,446 L598,446Z"/></clipPath><rect x="596" y="339" width="152" height="109" filter="url(#tf25)" clip-path="url(#tc25)"/>
<filter id="tf26" x="596" y="339" width="61" height="105" filterUnits="userSpaceOnUse" color-interpolation-filters="sRGB"><feTurbulence type="fractalNoise" baseFrequency="0.08" numOctaves="3" seed="61"/><feColorMatrix type="matrix" values="1 0 0 0 0 1 0 0 0 0 1 0 0 0 0 0 0 0 0 1"/><feComponentTransfer><feFuncR type="table" tableValues="0 0 0 0 0.003 0.014 0.047 0.11 0.209 0.331 0.494 0.672 0.802 0.888 0.95 0.984 0.997 1 1 1 1"/><feFuncG type="table" tableValues="0 0 0 0 0.003 0.014 0.047 0.11 0.209 0.331 0.494 0.672 0.802 0.888 0.95 0.984 0.997 1 1 1 1"/><feFuncB type="table" tableValues="0 0 0 0 0.003 0.014 0.047 0.11 0.209 0.331 0.494 0.672 0.802 0.888 0.95 0.984 0.997 1 1 1 1"/></feComponentTransfer><feComponentTransfer><feFuncR type="discrete" tableValues="0.302 0.302 0.302 0.302 0.302 0.302 0.302 0.302 0.302 0.302 0.302 0.302 0.302 0.302 0.302 0.302 0.302 0.302 0.302 0.302 0.302 0.302 0.302 0.302 0.302 0.702 0.702 0.702 0.702 0.702 0.702 0.702 0.702 0.702 0.702 0.702 0.702 0.702 0.800 0.800"/><feFuncG type="discrete" tableValues="0.302 0.302 0.302 0.302 0.302 0.302 0.302 0.302 0.302 0.302 0.302 0.302 0.302 0.302 0.302 0.302 0.302 0.302 0.302 0.302 0.302 0.302 0.302 0.302 0.302 0.702 0.702 0.702 0.702 0.702 0.702 0.702 0.702 0.702 0.702 0.702 0.702 0.702 0.000 0.000"/><feFuncB type="discrete" tableValues="0.302 0.302 0.302 0.302 0.302 0.302 0.302 0.302 0.302 0.302 0.302 0.302 0.302 0.302 0.302 0.302 0.302 0.302 0.302 0.302 0.302 0.302 0.302 0.302 0.302 0.702 0.702 0.702 0.702 0.702 0.702 0.702 0.702 0.702 0.702 0.702 0.702 0.702 0.000 0.000"/><feFuncA type="discrete" tableValues="1.000 1.000 1.000 1.000 1.000 1.000 1.000 1.000 1.000 1.000 1.000 1.000 1.000 1.000 1.000 1.000 1.000 1.000 1.000 1.000 1.000 1.000 1.000 1.000 1.000 1.000 1.000 1.000 1.000 1.000 1.000 1.000 1.000 1.000 1.000 1.000 1.000 1.000 1.000 1.000"/></feComponentTransfer></filter><clipPath id="tc26"><path d="M598,341 L648,341 L655,400 L650,442 L598,442Z"/></clipPath><rect x="596" y="339" width="61" height="105" filter="url(#tf26)" clip-path="url(#tc26)"/>
<filter id="tf27" x="643" y="341" width="75" height="71" filterUnits="userSpaceOnUse" color-interpolation-filters="sRGB"><feTurbulence type="fractalNoise" baseFrequency="0.08" numOctaves="3" seed="62"/><feColorMatrix type="matrix" values="1 0 0 0 0 1 0 0 0 0 1 0 0 0 0 0 0 0 0 1"/><feComponentTransfer><feFuncR type="table" tableValues="0 0 0 0 0.003 0.014 0.047 0.11 0.209 0.331 0.494 0.672 0.802 0.888 0.95 0.984 0.997 1 1 1 1"/><feFuncG type="table" tableValues="0 0 0 0 0.003 0.014 0.047 0.11 0.209 0.331 0.494 0.672 0.802 0.888 0.95 0.984 0.997 1 1 1 1"/><feFuncB type="table" tableValues="0 0 0 0 0.003 0.014 0.047 0.11 0.209 0.331 0.494 0.672 0.802 0.888 0.95 0.984 0.997 1 1 1 1"/></feComponentTransfer><feComponentTransfer><feFuncR type="discrete" tableValues="0.702 0.702 0.702 0.702 0.702 0.702 0.702 0.702 0.702 0.702 0.702 0.800 0.800 0.800 0.800 0.800 0.800 0.800 0.800 0.800 0.800 0.941 0.941 0.941 0.941 0.941 0.941 0.941 0.941 0.941 0.941 0.941 0.941 0.941 0.702 0.702 0.702 0.702 0.702 0.702"/><feFuncG type="discrete" tableValues="0.702 0.702 0.702 0.702 0.702 0.702 0.702 0.702 0.702 0.702 0.702 0.000 0.000 0.000 0.000 0.000 0.000 0.000 0.000 0.000 0.000 0.659 0.659 0.659 0.659 0.659 0.659 0.659 0.659 0.659 0.659 0.659 0.659 0.659 0.824 0.824 0.824 0.824 0.824 0.824"/><feFuncB type="discrete" tableValues="0.702 0.702 0.702 0.702 0.702 0.702 0.702 0.702 0.702 0.702 0.702 0.000 0.000 0.000 0.000 0.000 0.000 0.000 0.000 0.000 0.000 0.000 0.000 0.000 0.000 0.000 0.000 0.000 0.000 0.000 0.000 0.000 0.000 0.000 0.267 0.267 0.267 0.267 0.267 0.267"/><feFuncA type="discrete" tableValues="1.000 1.000 1.000 1.000 1.000 1.000 1.000 1.000 1.000 1.000 1.000 1.000 1.000 1.000 1.000 1.000 1.000 1.000 1.000 1.000 1.000 1.000 1.000 1.000 1.000 1.000 1.000 1.000 1.000 1.000 1.000 1.000 1.000 1.000 1.000 1.000 1.000 1.000 1.000 1.000"/></feComponentTransfer></filter><clipPath id="tc27"><path d="M645,343 L712,343 L716,395 L690,410 L655,400Z"/></clipPath><rect x="643" y="341" width="75" height="71" filter="url(#tf27)" clip-path="url(#tc27)"/>
<filter id="tf28" x="639" y="444" width="37" height="109" filterUnits="userSpaceOnUse" color-interpolation-filters="sRGB"><feTurbulence type="fractalNoise" baseFrequency="0.1" numOctaves="3" seed="66"/><feColorMatrix type="matrix" values="1 0 0 0 0 1 0 0 0 0 1 0 0 0 0 0 0 0 0 1"/><feComponentTransfer><feFuncR type="table" tableValues="0 0 0 0 0.003 0.014 0.047 0.11 0.209 0.331 0.494 0.672 0.802 0.888 0.95 0.984 0.997 1 1 1 1"/><feFuncG type="table" tableValues="0 0 0 0 0.003 0.014 0.047 0.11 0.209 0.331 0.494 0.672 0.802 0.888 0.95 0.984 0.997 1 1 1 1"/><feFuncB type="table" tableValues="0 0 0 0 0.003 0.014 0.047 0.11 0.209 0.331 0.494 0.672 0.802 0.888 0.95 0.984 0.997 1 1 1 1"/></feComponentTransfer><feComponentTransfer><feFuncR type="discrete" tableValues="0.110 0.110 0.110 0.110 0.110 0.110 0.110 0.110 0.110 0.110 0.110 0.110 0.110 0.110 0.110 0.110 0.110 0.110 0.702 0.702 0.702 0.941 0.941 0.800 0.800 0.800 0.800 0.800 0.800 0.800 0.800 0.800 0.702 0.702 0.702 0.702 0.702 0.702 0.302 0.302"/><feFuncG type="discrete" tableValues="0.447 0.447 0.447 0.447 0.447 0.447 0.447 0.447 0.447 0.447 0.447 0.447 0.447 0.447 0.447 0.447 0.447 0.447 0.824 0.824 0.824 0.659 0.659 0.000 0.000 0.000 0.000 0.000 0.000 0.000 0.000 0.000 0.702 0.702 0.702 0.702 0.702 0.702 0.302 0.302"/><feFuncB type="discrete" tableValues="0.808 0.808 0.808 0.808 0.808 0.808 0.808 0.808 0.808 0.808 0.808 0.808 0.808 0.808 0.808 0.808 0.808 0.808 0.267 0.267 0.267 0.000 0.000 0.000 0.000 0.000 0.000 0.000 0.000 0.000 0.000 0.000 0.702 0.702 0.702 0.702 0.702 0.702 0.302 0.302"/><feFuncA type="discrete" tableValues="1.000 1.000 1.000 1.000 1.000 1.000 1.000 1.000 1.000 1.000 1.000 1.000 1.000 1.000 1.000 1.000 1.000 1.000 1.000 1.000 1.000 1.000 1.000 1.000 1.000 1.000 1.000 1.000 1.000 1.000 1.000 1.000 1.000 1.000 1.000 1.000 1.000 1.000 1.000 1.000"/></feComponentTransfer></filter><clipPath id="tc28"><path d="M641,446 L674,446 L674,551 L641,551Z"/></clipPath><rect x="639" y="444" width="37" height="109" filter="url(#tf28)" clip-path="url(#tc28)"/>
<filter id="tf29" x="654" y="444" width="82" height="109" filterUnits="userSpaceOnUse" color-interpolation-filters="sRGB"><feTurbulence type="fractalNoise" baseFrequency="0.09" numOctaves="3" seed="67"/><feColorMatrix type="matrix" values="1 0 0 0 0 1 0 0 0 0 1 0 0 0 0 0 0 0 0 1"/><feComponentTransfer><feFuncR type="table" tableValues="0 0 0 0 0.003 0.014 0.047 0.11 0.209 0.331 0.494 0.672 0.802 0.888 0.95 0.984 0.997 1 1 1 1"/><feFuncG type="table" tableValues="0 0 0 0 0.003 0.014 0.047 0.11 0.209 0.331 0.494 0.672 0.802 0.888 0.95 0.984 0.997 1 1 1 1"/><feFuncB type="table" tableValues="0 0 0 0 0.003 0.014 0.047 0.11 0.209 0.331 0.494 0.672 0.802 0.888 0.95 0.984 0.997 1 1 1 1"/></feComponentTransfer><feComponentTransfer><feFuncR type="discrete" tableValues="0.800 0.800 0.800 0.800 0.800 0.702 0.702 0.702 0.702 0.702 0.702 0.702 0.702 0.702 0.702 0.702 0.702 0.702 0.302 0.302 0.302 0.302 0.302 0.302 0.302 0.302 0.302 0.302 0.302 0.302 0.302 0.302 0.302 0.302 0.302 0.302 0.302 0.302 0.302 0.302"/><feFuncG type="discrete" tableValues="0.000 0.000 0.000 0.000 0.000 0.702 0.702 0.702 0.702 0.702 0.702 0.702 0.702 0.702 0.702 0.702 0.702 0.702 0.302 0.302 0.302 0.302 0.302 0.302 0.302 0.302 0.302 0.302 0.302 0.302 0.302 0.302 0.302 0.302 0.302 0.302 0.302 0.302 0.302 0.302"/><feFuncB type="discrete" tableValues="0.000 0.000 0.000 0.000 0.000 0.702 0.702 0.702 0.702 0.702 0.702 0.702 0.702 0.702 0.702 0.702 0.702 0.702 0.302 0.302 0.302 0.302 0.302 0.302 0.302 0.302 0.302 0.302 0.302 0.302 0.302 0.302 0.302 0.302 0.302 0.302 0.302 0.302 0.302 0.302"/><feFuncA type="discrete" tableValues="1.000 1.000 1.000 1.000 1.000 1.000 1.000 1.000 1.000 1.000 1.000 1.000 1.000 1.000 1.000 1.000 1.000 1.000 1.000 1.000 1.000 1.000 1.000 1.000 1.000 1.000 1.000 1.000 1.000 1.000 1.000 1.000 1.000 1.000 1.000 1.000 1.000 1.000 1.000 1.000"/></feComponentTransfer></filter><clipPath id="tc29"><path d="M656,446 L728,446 L734,470 L728,500 L733,530 L726,551 L690,551 L675,540 L662,520 L656,490Z"/></clipPath><rect x="654" y="444" width="82" height="109" filter="url(#tf29)" clip-path="url(#tc29)"/>
<filter id="tf30" x="558" y="418" width="44" height="129" filterUnits="userSpaceOnUse" color-interpolation-filters="sRGB"><feTurbulence type="fractalNoise" baseFrequency="0.12 0.04" numOctaves="3" seed="71"/><feColorMatrix type="matrix" values="1 0 0 0 0 1 0 0 0 0 1 0 0 0 0 0 0 0 0 1"/><feComponentTransfer><feFuncR type="table" tableValues="0 0 0 0 0.003 0.014 0.047 0.11 0.209 0.331 0.494 0.672 0.802 0.888 0.95 0.984 0.997 1 1 1 1"/><feFuncG type="table" tableValues="0 0 0 0 0.003 0.014 0.047 0.11 0.209 0.331 0.494 0.672 0.802 0.888 0.95 0.984 0.997 1 1 1 1"/><feFuncB type="table" tableValues="0 0 0 0 0.003 0.014 0.047 0.11 0.209 0.331 0.494 0.672 0.802 0.888 0.95 0.984 0.997 1 1 1 1"/></feComponentTransfer><feComponentTransfer><feFuncR type="discrete" tableValues="0.110 0.110 0.110 0.110 0.941 0.941 0.941 0.941 0.800 0.800 0.800 0.800 0.800 0.800 0.800 0.800 0.800 0.800 0.800 0.800 0.800 0.800 0.800 0.800 0.702 0.702 0.702 0.702 0.702 0.702 0.702 0.702 0.702 0.702 0.702 0.702 0.302 0.302 0.302 0.302"/><feFuncG type="discrete" tableValues="0.447 0.447 0.447 0.447 0.659 0.659 0.659 0.659 0.000 0.000 0.000 0.000 0.000 0.000 0.000 0.000 0.000 0.000 0.000 0.000 0.000 0.000 0.000 0.000 0.702 0.702 0.702 0.702 0.702 0.702 0.702 0.702 0.702 0.702 0.702 0.702 0.302 0.302 0.302 0.302"/><feFuncB type="discrete" tableValues="0.808 0.808 0.808 0.808 0.000 0.000 0.000 0.000 0.000 0.000 0.000 0.000 0.000 0.000 0.000 0.000 0.000 0.000 0.000 0.000 0.000 0.000 0.000 0.000 0.702 0.702 0.702 0.702 0.702 0.702 0.702 0.702 0.702 0.702 0.702 0.702 0.302 0.302 0.302 0.302"/><feFuncA type="discrete" tableValues="1.000 1.000 1.000 1.000 1.000 1.000 1.000 1.000 1.000 1.000 1.000 1.000 1.000 1.000 1.000 1.000 1.000 1.000 1.000 1.000 1.000 1.000 1.000 1.000 1.000 1.000 1.000 1.000 1.000 1.000 1.000 1.000 1.000 1.000 1.000 1.000 1.000 1.000 1.000 1.000"/></feComponentTransfer></filter><clipPath id="tc30"><path d="M580,420 L600,420 L598,450 L590,480 L580,510 L570,540 L560,545 L565,510 L575,470Z"/></clipPath><rect x="558" y="418" width="44" height="129" filter="url(#tf30)" clip-path="url(#tc30)"/>
<filter id="tf31" x="596" y="418" width="47" height="46" filterUnits="userSpaceOnUse" color-interpolation-filters="sRGB"><feTurbulence type="fractalNoise" baseFrequency="0.1" numOctaves="3" seed="72"/><feColorMatrix type="matrix" values="1 0 0 0 0 1 0 0 0 0 1 0 0 0 0 0 0 0 0 1"/><feComponentTransfer><feFuncR type="table" tableValues="0 0 0 0 0.003 0.014 0.047 0.11 0.209 0.331 0.494 0.672 0.802 0.888 0.95 0.984 0.997 1 1 1 1"/><feFuncG type="table" tableValues="0 0 0 0 0.003 0.014 0.047 0.11 0.209 0.331 0.494 0.672 0.802 0.888 0.95 0.984 0.997 1 1 1 1"/><feFuncB type="table" tableValues="0 0 0 0 0.003 0.014 0.047 0.11 0.209 0.331 0.494 0.672 0.802 0.888 0.95 0.984 0.997 1 1 1 1"/></feComponentTransfer><feComponentTransfer><feFuncR type="discrete" tableValues="0.110 0.110 0.800 0.800 0.800 0.800 0.800 0.800 0.800 0.800 0.800 0.800 0.702 0.702 0.702 0.702 0.702 0.702 0.702 0.702 0.702 0.702 0.702 0.702 0.702 0.702 0.702 0.702 0.702 0.702 0.302 0.302 0.302 0.302 0.302 0.302 0.302 0.302 0.302 0.302"/><feFuncG type="discrete" tableValues="0.447 0.447 0.000 0.000 0.000 0.000 0.000 0.000 0.000 0.000 0.000 0.000 0.702 0.702 0.702 0.702 0.702 0.702 0.702 0.702 0.702 0.702 0.702 0.702 0.702 0.702 0.702 0.702 0.702 0.702 0.302 0.302 0.302 0.302 0.302 0.302 0.302 0.302 0.302 0.302"/><feFuncB type="discrete" tableValues="0.808 0.808 0.000 0.000 0.000 0.000 0.000 0.000 0.000 0.000 0.000 0.000 0.702 0.702 0.702 0.702 0.702 0.702 0.702 0.702 0.702 0.702 0.702 0.702 0.702 0.702 0.702 0.702 0.702 0.702 0.302 0.302 0.302 0.302 0.302 0.302 0.302 0.302 0.302 0.302"/><feFuncA type="discrete" tableValues="1.000 1.000 1.000 1.000 1.000 1.000 1.000 1.000 1.000 1.000 1.000 1.000 1.000 1.000 1.000 1.000 1.000 1.000 1.000 1.000 1.000 1.000 1.000 1.000 1.000 1.000 1.000 1.000 1.000 1.000 1.000 1.000 1.000 1.000 1.000 1.000 1.000 1.000 1.000 1.000"/></feComponentTransfer></filter><clipPath id="tc31"><path d="M598,420 L598,446 L641,446 L641,462 L610,462 L600,456Z"/></clipPath><rect x="596" y="418" width="47" height="46" filter="url(#tf31)" clip-path="url(#tc31)"/>
<filter id="tf32" x="403" y="496" width="61" height="86" filterUnits="userSpaceOnUse" color-interpolation-filters="sRGB"><feTurbulence type="fractalNoise" baseFrequency="0.13" numOctaves="3" seed="73"/><feColorMatrix type="matrix" values="1 0 0 0 0 1 0 0 0 0 1 0 0 0 0 0 0 0 0 1"/><feComponentTransfer><feFuncR type="table" tableValues="0 0 0 0 0.003 0.014 0.047 0.11 0.209 0.331 0.494 0.672 0.802 0.888 0.95 0.984 0.997 1 1 1 1"/><feFuncG type="table" tableValues="0 0 0 0 0.003 0.014 0.047 0.11 0.209 0.331 0.494 0.672 0.802 0.888 0.95 0.984 0.997 1 1 1 1"/><feFuncB type="table" tableValues="0 0 0 0 0.003 0.014 0.047 0.11 0.209 0.331 0.494 0.672 0.802 0.888 0.95 0.984 0.997 1 1 1 1"/></feComponentTransfer><feComponentTransfer><feFuncR type="discrete" tableValues="0.110 0.110 0.110 0.110 0.110 0.110 0.110 0.110 0.110 0.110 0.110 0.110 0.800 0.800 0.800 0.800 0.800 0.800 0.800 0.800 0.800 0.800 0.702 0.702 0.702 0.702 0.702 0.702 0.702 0.702 0.702 0.702 0.702 0.702 0.302 0.302 0.302 0.302 0.302 0.302"/><feFuncG type="discrete" tableValues="0.447 0.447 0.447 0.447 0.447 0.447 0.447 0.447 0.447 0.447 0.447 0.447 0.000 0.000 0.000 0.000 0.000 0.000 0.000 0.000 0.000 0.000 0.702 0.702 0.702 0.702 0.702 0.702 0.702 0.702 0.702 0.702 0.702 0.702 0.302 0.302 0.302 0.302 0.302 0.302"/><feFuncB type="discrete" tableValues="0.808 0.808 0.808 0.808 0.808 0.808 0.808 0.808 0.808 0.808 0.808 0.808 0.000 0.000 0.000 0.000 0.000 0.000 0.000 0.000 0.000 0.000 0.702 0.702 0.702 0.702 0.702 0.702 0.702 0.702 0.702 0.702 0.702 0.702 0.302 0.302 0.302 0.302 0.302 0.302"/><feFuncA type="discrete" tableValues="1.000 1.000 1.000 1.000 1.000 1.000 1.000 1.000 1.000 1.000 1.000 1.000 1.000 1.000 1.000 1.000 1.000 1.000 1.000 1.000 1.000 1.000 1.000 1.000 1.000 1.000 1.000 1.000 1.000 1.000 1.000 1.000 1.000 1.000 1.000 1.000 1.000 1.000 1.000 1.000"/></feComponentTransfer></filter><clipPath id="tc32"><path d="M405,500 L415,498 L430,515 L445,535 L458,555 L462,575 L450,580 L435,565 L420,545 L410,525Z"/></clipPath><rect x="403" y="496" width="61" height="86" filter="url(#tf32)" clip-path="url(#tc32)"/>
<filter id="tf33" x="678" y="550" width="49" height="30" filterUnits="userSpaceOnUse" color-interpolation-filters="sRGB"><feTurbulence type="fractalNoise" baseFrequency="0.12" numOctaves="3" seed="79"/><feColorMatrix type="matrix" values="1 0 0 0 0 1 0 0 0 0 1 0 0 0 0 0 0 0 0 1"/><feComponentTransfer><feFuncR type="table" tableValues="0 0 0 0 0.003 0.014 0.047 0.11 0.209 0.331 0.494 0.672 0.802 0.888 0.95 0.984 0.997 1 1 1 1"/><feFuncG type="table" tableValues="0 0 0 0 0.003 0.014 0.047 0.11 0.209 0.331 0.494 0.672 0.802 0.888 0.95 0.984 0.997 1 1 1 1"/><feFuncB type="table" tableValues="0 0 0 0 0.003 0.014 0.047 0.11 0.209 0.331 0.494 0.672 0.802 0.888 0.95 0.984 0.997 1 1 1 1"/></feComponentTransfer><feComponentTransfer><feFuncR type="discrete" tableValues="0.110 0.110 0.110 0.110 0.800 0.800 0.800 0.800 0.800 0.800 0.800 0.800 0.800 0.800 0.702 0.702 0.702 0.702 0.702 0.702 0.702 0.702 0.702 0.702 0.702 0.702 0.702 0.702 0.702 0.702 0.702 0.702 0.302 0.302 0.302 0.302 0.302 0.302 0.302 0.302"/><feFuncG type="discrete" tableValues="0.447 0.447 0.447 0.447 0.000 0.000 0.000 0.000 0.000 0.000 0.000 0.000 0.000 0.000 0.702 0.702 0.702 0.702 0.702 0.702 0.702 0.702 0.702 0.702 0.702 0.702 0.702 0.702 0.702 0.702 0.702 0.702 0.302 0.302 0.302 0.302 0.302 0.302 0.302 0.302"/><feFuncB type="discrete" tableValues="0.808 0.808 0.808 0.808 0.000 0.000 0.000 0.000 0.000 0.000 0.000 0.000 0.000 0.000 0.702 0.702 0.702 0.702 0.702 0.702 0.702 0.702 0.702 0.702 0.702 0.702 0.702 0.702 0.702 0.702 0.702 0.702 0.302 0.302 0.302 0.302 0.302 0.302 0.302 0.302"/><feFuncA type="discrete" tableValues="1.000 1.000 1.000 1.000 1.000 1.000 1.000 1.000 1.000 1.000 1.000 1.000 1.000 1.000 1.000 1.000 1.000 1.000 1.000 1.000 1.000 1.000 1.000 1.000 1.000 1.000 1.000 1.000 1.000 1.000 1.000 1.000 1.000 1.000 1.000 1.000 1.000 1.000 1.000 1.000"/></feComponentTransfer></filter><clipPath id="tc33"><path d="M680,552 L725,552 L715,575 L700,578 L685,565Z"/></clipPath><rect x="678" y="550" width="49" height="30" filter="url(#tf33)" clip-path="url(#tc33)"/>
<filter id="tf34" x="766" y="550" width="42" height="42" filterUnits="userSpaceOnUse" color-interpolation-filters="sRGB"><feTurbulence type="fractalNoise" baseFrequency="0.1" numOctaves="3" seed="85"/><feColorMatrix type="matrix" values="1 0 0 0 0 1 0 0 0 0 1 0 0 0 0 0 0 0 0 1"/><feComponentTransfer><feFuncR type="table" tableValues="0 0 0 0 0.003 0.014 0.047 0.11 0.209 0.331 0.494 0.672 0.802 0.888 0.95 0.984 0.997 1 1 1 1"/><feFuncG type="table" tableValues="0 0 0 0 0.003 0.014 0.047 0.11 0.209 0.331 0.494 0.672 0.802 0.888 0.95 0.984 0.997 1 1 1 1"/><feFuncB type="table" tableValues="0 0 0 0 0.003 0.014 0.047 0.11 0.209 0.331 0.494 0.672 0.802 0.888 0.95 0.984 0.997 1 1 1 1"/></feComponentTransfer><feComponentTransfer><feFuncR type="discrete" tableValues="0.702 0.702 0.702 0.702 0.702 0.941 0.941 0.941 0.941 0.941 0.941 0.941 0.941 0.941 0.941 0.941 0.941 0.941 0.941 0.941 0.941 0.863 0.863 0.863 0.863 0.863 0.863 0.863 0.863 0.863 0.863 0.863 0.863 0.863 0.863 0.863 0.863 0.863 0.863 0.863"/><feFuncG type="discrete" tableValues="0.824 0.824 0.824 0.824 0.824 0.659 0.659 0.659 0.659 0.659 0.659 0.659 0.659 0.659 0.659 0.659 0.659 0.659 0.659 0.659 0.659 0.220 0.220 0.220 0.220 0.220 0.220 0.220 0.220 0.220 0.220 0.220 0.220 0.220 0.220 0.220 0.220 0.220 0.220 0.220"/><feFuncB type="discrete" tableValues="0.267 0.267 0.267 0.267 0.267 0.000 0.000 0.000 0.000 0.000 0.000 0.000 0.000 0.000 0.000 0.000 0.000 0.000 0.000 0.000 0.000 0.000 0.000 0.000 0.000 0.000 0.000 0.000 0.000 0.000 0.000 0.000 0.000 0.000 0.000 0.000 0.000 0.000 0.000 0.000"/><feFuncA type="discrete" tableValues="1.000 1.000 1.000 1.000 1.000 1.000 1.000 1.000 1.000 1.000 1.000 1.000 1.000 1.000 1.000 1.000 1.000 1.000 1.000 1.000 1.000 1.000 1.000 1.000 1.000 1.000 1.000 1.000 1.000 1.000 1.000 1.000 1.000 1.000 1.000 1.000 1.000 1.000 1.000 1.000"/></feComponentTransfer></filter><clipPath id="tc34"><path d="M768,552 L800,552 L806,558 L792,568 L778,585 L768,590Z"/></clipPath><rect x="766" y="550" width="42" height="42" filter="url(#tf34)" clip-path="url(#tc34)"/>
<filter id="tf35" x="770" y="670" width="187" height="76" filterUnits="userSpaceOnUse" color-interpolation-filters="sRGB"><feTurbulence type="fractalNoise" baseFrequency="0.09" numOctaves="3" seed="89"/><feColorMatrix type="matrix" values="1 0 0 0 0 1 0 0 0 0 1 0 0 0 0 0 0 0 0 1"/><feComponentTransfer><feFuncR type="table" tableValues="0 0 0 0 0.003 0.014 0.047 0.11 0.209 0.331 0.494 0.672 0.802 0.888 0.95 0.984 0.997 1 1 1 1"/><feFuncG type="table" tableValues="0 0 0 0 0.003 0.014 0.047 0.11 0.209 0.331 0.494 0.672 0.802 0.888 0.95 0.984 0.997 1 1 1 1"/><feFuncB type="table" tableValues="0 0 0 0 0.003 0.014 0.047 0.11 0.209 0.331 0.494 0.672 0.802 0.888 0.95 0.984 0.997 1 1 1 1"/></feComponentTransfer><feComponentTransfer><feFuncR type="discrete" tableValues="0.110 0.110 0.110 0.110 0.110 0.110 0.110 0.110 0.110 0.110 0.110 0.110 0.110 0.110 0.110 0.110 0.110 0.110 0.110 0.110 0.110 0.110 0.110 0.110 0.110 0.110 0.110 0.110 0.110 0.110 0.110 0.290 0.290 0.290 0.290 0.290 0.290 0.290 0.702 0.702"/><feFuncG type="discrete" tableValues="0.447 0.447 0.447 0.447 0.447 0.447 0.447 0.447 0.447 0.447 0.447 0.447 0.447 0.447 0.447 0.447 0.447 0.447 0.447 0.447 0.447 0.447 0.447 0.447 0.447 0.447 0.447 0.447 0.447 0.447 0.447 0.561 0.561 0.561 0.561 0.561 0.561 0.561 0.824 0.824"/><feFuncB type="discrete" tableValues="0.808 0.808 0.808 0.808 0.808 0.808 0.808 0.808 0.808 0.808 0.808 0.808 0.808 0.808 0.808 0.808 0.808 0.808 0.808 0.808 0.808 0.808 0.808 0.808 0.808 0.808 0.808 0.808 0.808 0.808 0.808 0.627 0.627 0.627 0.627 0.627 0.627 0.627 0.267 0.267"/><feFuncA type="discrete" tableValues="1.000 1.000 1.000 1.000 1.000 1.000 1.000 1.000 1.000 1.000 1.000 1.000 1.000 1.000 1.000 1.000 1.000 1.000 1.000 1.000 1.000 1.000 1.000 1.000 1.000 1.000 1.000 1.000 1.000 1.000 1.000 1.000 1.000 1.000 1.000 1.000 1.000 1.000 1.000 1.000"/></feComponentTransfer></filter><clipPath id="tc35"><path d="M772,700 L800,684 L850,676 L900,672 L945,678 L955,700 L950,720 L930,722 L900,732 L860,740 L820,744 L790,738 L772,720Z"/></clipPath><rect x="770" y="670" width="187" height="76" filter="url(#tf35)" clip-path="url(#tc35)"/>
<filter id="tf36" x="1115" y="520" width="126" height="126" filterUnits="userSpaceOnUse" color-interpolation-filters="sRGB"><feTurbulence type="fractalNoise" baseFrequency="0.14 0.04" numOctaves="3" seed="83"/><feColorMatrix type="matrix" values="1 0 0 0 0 1 0 0 0 0 1 0 0 0 0 0 0 0 0 1"/><feComponentTransfer><feFuncR type="table" tableValues="0 0 0 0 0.003 0.014 0.047 0.11 0.209 0.331 0.494 0.672 0.802 0.888 0.95 0.984 0.997 1 1 1 1"/><feFuncG type="table" tableValues="0 0 0 0 0.003 0.014 0.047 0.11 0.209 0.331 0.494 0.672 0.802 0.888 0.95 0.984 0.997 1 1 1 1"/><feFuncB type="table" tableValues="0 0 0 0 0.003 0.014 0.047 0.11 0.209 0.331 0.494 0.672 0.802 0.888 0.95 0.984 0.997 1 1 1 1"/></feComponentTransfer><feComponentTransfer><feFuncR type="discrete" tableValues="0.110 0.110 0.110 0.110 0.110 0.110 0.290 0.290 0.702 0.702 0.702 0.702 0.702 0.702 0.702 0.702 0.941 0.941 0.941 0.941 0.941 0.941 0.800 0.800 0.800 0.800 0.800 0.800 0.800 0.800 0.800 0.800 0.800 0.800 0.800 0.800 0.800 0.800 0.800 0.800"/><feFuncG type="discrete" tableValues="0.447 0.447 0.447 0.447 0.447 0.447 0.561 0.561 0.824 0.824 0.824 0.824 0.824 0.824 0.824 0.824 0.659 0.659 0.659 0.659 0.659 0.659 0.000 0.000 0.000 0.000 0.000 0.000 0.000 0.000 0.000 0.000 0.000 0.000 0.000 0.000 0.000 0.000 0.000 0.000"/><feFuncB type="discrete" tableValues="0.808 0.808 0.808 0.808 0.808 0.808 0.627 0.627 0.267 0.267 0.267 0.267 0.267 0.267 0.267 0.267 0.000 0.000 0.000 0.000 0.000 0.000 0.000 0.000 0.000 0.000 0.000 0.000 0.000 0.000 0.000 0.000 0.000 0.000 0.000 0.000 0.000 0.000 0.000 0.000"/><feFuncA type="discrete" tableValues="1.000 1.000 1.000 1.000 1.000 1.000 1.000 1.000 1.000 1.000 1.000 1.000 1.000 1.000 1.000 1.000 1.000 1.000 1.000 1.000 1.000 1.000 1.000 1.000 1.000 1.000 1.000 1.000 1.000 1.000 1.000 1.000 1.000 1.000 1.000 1.000 1.000 1.000 1.000 1.000"/></feComponentTransfer></filter><clipPath id="tc36"><path d="M1142,566 L1160,563 L1218,562 L1190,585 L1165,604 L1152,598 L1146,588 L1138,578Z"/></clipPath><g clip-path="url(#tc36)"><rect x="1115" y="520" width="126" height="126" filter="url(#tf36)" transform="rotate(60 1178 583)"/></g>
<filter id="tf37" x="1198" y="564" width="66" height="38" filterUnits="userSpaceOnUse" color-interpolation-filters="sRGB"><feTurbulence type="fractalNoise" baseFrequency="0.1" numOctaves="3" seed="87"/><feColorMatrix type="matrix" values="1 0 0 0 0 1 0 0 0 0 1 0 0 0 0 0 0 0 0 1"/><feComponentTransfer><feFuncR type="table" tableValues="0 0 0 0 0.003 0.014 0.047 0.11 0.209 0.331 0.494 0.672 0.802 0.888 0.95 0.984 0.997 1 1 1 1"/><feFuncG type="table" tableValues="0 0 0 0 0.003 0.014 0.047 0.11 0.209 0.331 0.494 0.672 0.802 0.888 0.95 0.984 0.997 1 1 1 1"/><feFuncB type="table" tableValues="0 0 0 0 0.003 0.014 0.047 0.11 0.209 0.331 0.494 0.672 0.802 0.888 0.95 0.984 0.997 1 1 1 1"/></feComponentTransfer><feComponentTransfer><feFuncR type="discrete" tableValues="0.702 0.702 0.702 0.702 0.702 0.702 0.702 0.702 0.941 0.941 0.941 0.941 0.941 0.941 0.941 0.941 0.941 0.941 0.941 0.941 0.941 0.941 0.863 0.863 0.863 0.863 0.863 0.863 0.863 0.863 0.863 0.863 0.800 0.800 0.800 0.800 0.800 0.800 0.800 0.800"/><feFuncG type="discrete" tableValues="0.824 0.824 0.824 0.824 0.824 0.824 0.824 0.824 0.659 0.659 0.659 0.659 0.659 0.659 0.659 0.659 0.659 0.659 0.659 0.659 0.659 0.659 0.220 0.220 0.220 0.220 0.220 0.220 0.220 0.220 0.220 0.220 0.000 0.000 0.000 0.000 0.000 0.000 0.000 0.000"/><feFuncB type="discrete" tableValues="0.267 0.267 0.267 0.267 0.267 0.267 0.267 0.267 0.000 0.000 0.000 0.000 0.000 0.000 0.000 0.000 0.000 0.000 0.000 0.000 0.000 0.000 0.000 0.000 0.000 0.000 0.000 0.000 0.000 0.000 0.000 0.000 0.000 0.000 0.000 0.000 0.000 0.000 0.000 0.000"/><feFuncA type="discrete" tableValues="1.000 1.000 1.000 1.000 1.000 1.000 1.000 1.000 1.000 1.000 1.000 1.000 1.000 1.000 1.000 1.000 1.000 1.000 1.000 1.000 1.000 1.000 1.000 1.000 1.000 1.000 1.000 1.000 1.000 1.000 1.000 1.000 1.000 1.000 1.000 1.000 1.000 1.000 1.000 1.000"/></feComponentTransfer></filter><clipPath id="tc37"><path d="M1200,596 L1212,585 L1225,572 L1240,566 L1262,566 L1262,575 L1240,580 L1225,590 L1210,600Z"/></clipPath><rect x="1198" y="564" width="66" height="38" filter="url(#tf37)" clip-path="url(#tc37)"/>
<filter id="tf38" x="1295" y="433" width="88" height="27" filterUnits="userSpaceOnUse" color-interpolation-filters="sRGB"><feTurbulence type="fractalNoise" baseFrequency="0.09" numOctaves="3" seed="91"/><feColorMatrix type="matrix" values="1 0 0 0 0 1 0 0 0 0 1 0 0 0 0 0 0 0 0 1"/><feComponentTransfer><feFuncR type="table" tableValues="0 0 0 0 0.003 0.014 0.047 0.11 0.209 0.331 0.494 0.672 0.802 0.888 0.95 0.984 0.997 1 1 1 1"/><feFuncG type="table" tableValues="0 0 0 0 0.003 0.014 0.047 0.11 0.209 0.331 0.494 0.672 0.802 0.888 0.95 0.984 0.997 1 1 1 1"/><feFuncB type="table" tableValues="0 0 0 0 0.003 0.014 0.047 0.11 0.209 0.331 0.494 0.672 0.802 0.888 0.95 0.984 0.997 1 1 1 1"/></feComponentTransfer><feComponentTransfer><feFuncR type="discrete" tableValues="0.702 0.702 0.702 0.702 0.290 0.290 0.290 0.290 0.290 0.290 0.290 0.290 0.290 0.702 0.702 0.702 0.702 0.702 0.702 0.702 0.702 0.702 0.702 0.702 0.702 0.702 0.702 0.702 0.702 0.702 0.702 0.941 0.941 0.941 0.941 0.941 0.941 0.941 0.941 0.941"/><feFuncG type="discrete" tableValues="0.702 0.702 0.702 0.702 0.561 0.561 0.561 0.561 0.561 0.561 0.561 0.561 0.561 0.824 0.824 0.824 0.824 0.824 0.824 0.824 0.824 0.824 0.824 0.824 0.824 0.824 0.824 0.824 0.824 0.824 0.824 0.659 0.659 0.659 0.659 0.659 0.659 0.659 0.659 0.659"/><feFuncB type="discrete" tableValues="0.702 0.702 0.702 0.702 0.627 0.627 0.627 0.627 0.627 0.627 0.627 0.627 0.627 0.267 0.267 0.267 0.267 0.267 0.267 0.267 0.267 0.267 0.267 0.267 0.267 0.267 0.267 0.267 0.267 0.267 0.267 0.000 0.000 0.000 0.000 0.000 0.000 0.000 0.000 0.000"/><feFuncA type="discrete" tableValues="1.000 1.000 1.000 1.000 1.000 1.000 1.000 1.000 1.000 1.000 1.000 1.000 1.000 1.000 1.000 1.000 1.000 1.000 1.000 1.000 1.000 1.000 1.000 1.000 1.000 1.000 1.000 1.000 1.000 1.000 1.000 1.000 1.000 1.000 1.000 1.000 1.000 1.000 1.000 1.000"/></feComponentTransfer></filter><clipPath id="tc38"><path d="M1297,448 L1307,442 L1317,438 L1327,436 L1342,435 L1357,437 L1367,440 L1377,443 L1381,450 L1374,456 L1360,456 L1340,457 L1320,458 L1300,458Z"/></clipPath><rect x="1295" y="433" width="88" height="27" filter="url(#tf38)" clip-path="url(#tc38)"/>
<filter id="tf39" x="1289" y="453" width="93" height="27" filterUnits="userSpaceOnUse" color-interpolation-filters="sRGB"><feTurbulence type="fractalNoise" baseFrequency="0.09" numOctaves="3" seed="93"/><feColorMatrix type="matrix" values="1 0 0 0 0 1 0 0 0 0 1 0 0 0 0 0 0 0 0 1"/><feComponentTransfer><feFuncR type="table" tableValues="0 0 0 0 0.003 0.014 0.047 0.11 0.209 0.331 0.494 0.672 0.802 0.888 0.95 0.984 0.997 1 1 1 1"/><feFuncG type="table" tableValues="0 0 0 0 0.003 0.014 0.047 0.11 0.209 0.331 0.494 0.672 0.802 0.888 0.95 0.984 0.997 1 1 1 1"/><feFuncB type="table" tableValues="0 0 0 0 0.003 0.014 0.047 0.11 0.209 0.331 0.494 0.672 0.802 0.888 0.95 0.984 0.997 1 1 1 1"/></feComponentTransfer><feComponentTransfer><feFuncR type="discrete" tableValues="0.110 0.110 0.110 0.110 0.110 0.110 0.110 0.110 0.110 0.110 0.110 0.110 0.110 0.110 0.290 0.290 0.290 0.290 0.290 0.290 0.290 0.290 0.290 0.290 0.290 0.290 0.290 0.290 0.290 0.290 0.290 0.290 0.290 0.290 0.702 0.702 0.702 0.702 0.702 0.702"/><feFuncG type="discrete" tableValues="0.447 0.447 0.447 0.447 0.447 0.447 0.447 0.447 0.447 0.447 0.447 0.447 0.447 0.447 0.561 0.561 0.561 0.561 0.561 0.561 0.561 0.561 0.561 0.561 0.561 0.561 0.561 0.561 0.561 0.561 0.561 0.561 0.561 0.561 0.824 0.824 0.824 0.824 0.824 0.824"/><feFuncB type="discrete" tableValues="0.808 0.808 0.808 0.808 0.808 0.808 0.808 0.808 0.808 0.808 0.808 0.808 0.808 0.808 0.627 0.627 0.627 0.627 0.627 0.627 0.627 0.627 0.627 0.627 0.627 0.627 0.627 0.627 0.627 0.627 0.627 0.627 0.627 0.627 0.267 0.267 0.267 0.267 0.267 0.267"/><feFuncA type="discrete" tableValues="1.000 1.000 1.000 1.000 1.000 1.000 1.000 1.000 1.000 1.000 1.000 1.000 1.000 1.000 1.000 1.000 1.000 1.000 1.000 1.000 1.000 1.000 1.000 1.000 1.000 1.000 1.000 1.000 1.000 1.000 1.000 1.000 1.000 1.000 1.000 1.000 1.000 1.000 1.000 1.000"/></feComponentTransfer></filter><clipPath id="tc39"><path d="M1291,456 L1300,455 L1340,455 L1372,455 L1380,458 L1376,468 L1365,472 L1350,477 L1320,478 L1295,472Z"/></clipPath><rect x="1289" y="453" width="93" height="27" filter="url(#tf39)" clip-path="url(#tc39)"/>
<filter id="tf40" x="1370" y="421" width="64" height="39" filterUnits="userSpaceOnUse" color-interpolation-filters="sRGB"><feTurbulence type="fractalNoise" baseFrequency="0.1" numOctaves="3" seed="95"/><feColorMatrix type="matrix" values="1 0 0 0 0 1 0 0 0 0 1 0 0 0 0 0 0 0 0 1"/><feComponentTransfer><feFuncR type="table" tableValues="0 0 0 0 0.003 0.014 0.047 0.11 0.209 0.331 0.494 0.672 0.802 0.888 0.95 0.984 0.997 1 1 1 1"/><feFuncG type="table" tableValues="0 0 0 0 0.003 0.014 0.047 0.11 0.209 0.331 0.494 0.672 0.802 0.888 0.95 0.984 0.997 1 1 1 1"/><feFuncB type="table" tableValues="0 0 0 0 0.003 0.014 0.047 0.11 0.209 0.331 0.494 0.672 0.802 0.888 0.95 0.984 0.997 1 1 1 1"/></feComponentTransfer><feComponentTransfer><feFuncR type="discrete" tableValues="0.702 0.702 0.941 0.941 0.941 0.941 0.941 0.941 0.941 0.941 0.941 0.941 0.941 0.863 0.863 0.863 0.863 0.863 0.863 0.863 0.863 0.863 0.863 0.863 0.863 0.863 0.863 0.863 0.863 0.863 0.863 0.863 0.863 0.800 0.800 0.800 0.800 0.800 0.800 0.800"/><feFuncG type="discrete" tableValues="0.824 0.824 0.659 0.659 0.659 0.659 0.659 0.659 0.659 0.659 0.659 0.659 0.659 0.220 0.220 0.220 0.220 0.220 0.220 0.220 0.220 0.220 0.220 0.220 0.220 0.220 0.220 0.220 0.220 0.220 0.220 0.220 0.220 0.000 0.000 0.000 0.000 0.000 0.000 0.000"/><feFuncB type="discrete" tableValues="0.267 0.267 0.000 0.000 0.000 0.000 0.000 0.000 0.000 0.000 0.000 0.000 0.000 0.000 0.000 0.000 0.000 0.000 0.000 0.000 0.000 0.000 0.000 0.000 0.000 0.000 0.000 0.000 0.000 0.000 0.000 0.000 0.000 0.000 0.000 0.000 0.000 0.000 0.000 0.000"/><feFuncA type="discrete" tableValues="1.000 1.000 1.000 1.000 1.000 1.000 1.000 1.000 1.000 1.000 1.000 1.000 1.000 1.000 1.000 1.000 1.000 1.000 1.000 1.000 1.000 1.000 1.000 1.000 1.000 1.000 1.000 1.000 1.000 1.000 1.000 1.000 1.000 1.000 1.000 1.000 1.000 1.000 1.000 1.000"/></feComponentTransfer></filter><clipPath id="tc40"><path d="M1372,446 L1378,438 L1388,434 L1396,428 L1406,423 L1416,427 L1426,428 L1432,431 L1427,437 L1410,439 L1398,442 L1390,447 L1384,456 L1376,458Z"/></clipPath><rect x="1370" y="421" width="64" height="39" filter="url(#tf40)" clip-path="url(#tc40)"/>
<filter id="tf41" x="1430" y="396" width="40" height="40" filterUnits="userSpaceOnUse" color-interpolation-filters="sRGB"><feTurbulence type="fractalNoise" baseFrequency="0.14" numOctaves="3" seed="97"/><feColorMatrix type="matrix" values="1 0 0 0 0 1 0 0 0 0 1 0 0 0 0 0 0 0 0 1"/><feComponentTransfer><feFuncR type="table" tableValues="0 0 0 0 0.003 0.014 0.047 0.11 0.209 0.331 0.494 0.672 0.802 0.888 0.95 0.984 0.997 1 1 1 1"/><feFuncG type="table" tableValues="0 0 0 0 0.003 0.014 0.047 0.11 0.209 0.331 0.494 0.672 0.802 0.888 0.95 0.984 0.997 1 1 1 1"/><feFuncB type="table" tableValues="0 0 0 0 0.003 0.014 0.047 0.11 0.209 0.331 0.494 0.672 0.802 0.888 0.95 0.984 0.997 1 1 1 1"/></feComponentTransfer><feComponentTransfer><feFuncR type="discrete" tableValues="0.302 0.302 0.302 0.702 0.702 0.702 0.702 0.702 0.702 0.702 0.702 0.702 0.702 0.702 0.702 0.702 0.702 0.702 0.702 0.702 0.702 0.702 0.702 0.702 0.702 0.702 0.702 0.702 0.702 0.863 0.800 0.800 0.800 0.800 0.800 0.800 0.800 0.800 0.800 0.800"/><feFuncG type="discrete" tableValues="0.302 0.302 0.302 0.702 0.702 0.702 0.702 0.702 0.702 0.702 0.702 0.702 0.702 0.702 0.702 0.702 0.702 0.702 0.702 0.702 0.702 0.702 0.702 0.702 0.702 0.702 0.702 0.702 0.702 0.220 0.000 0.000 0.000 0.000 0.000 0.000 0.000 0.000 0.000 0.000"/><feFuncB type="discrete" tableValues="0.302 0.302 0.302 0.702 0.702 0.702 0.702 0.702 0.702 0.702 0.702 0.702 0.702 0.702 0.702 0.702 0.702 0.702 0.702 0.702 0.702 0.702 0.702 0.702 0.702 0.702 0.702 0.702 0.702 0.000 0.000 0.000 0.000 0.000 0.000 0.000 0.000 0.000 0.000 0.000"/><feFuncA type="discrete" tableValues="1.000 1.000 1.000 1.000 1.000 1.000 1.000 1.000 1.000 1.000 1.000 1.000 1.000 1.000 1.000 1.000 1.000 1.000 1.000 1.000 1.000 1.000 1.000 1.000 1.000 1.000 1.000 1.000 1.000 1.000 1.000 1.000 1.000 1.000 1.000 1.000 1.000 1.000 1.000 1.000"/></feComponentTransfer></filter><clipPath id="tc41"><path d="M1433,405 L1447,398 L1450,418 L1466,416 L1468,432 L1440,434 L1432,425Z"/></clipPath><rect x="1430" y="396" width="40" height="40" filter="url(#tf41)" clip-path="url(#tc41)"/>
<filter id="tf42" x="1276" y="396" width="26" height="36" filterUnits="userSpaceOnUse" color-interpolation-filters="sRGB"><feTurbulence type="fractalNoise" baseFrequency="0.09" numOctaves="3" seed="99"/><feColorMatrix type="matrix" values="1 0 0 0 0 1 0 0 0 0 1 0 0 0 0 0 0 0 0 1"/><feComponentTransfer><feFuncR type="table" tableValues="0 0 0 0 0.003 0.014 0.047 0.11 0.209 0.331 0.494 0.672 0.802 0.888 0.95 0.984 0.997 1 1 1 1"/><feFuncG type="table" tableValues="0 0 0 0 0.003 0.014 0.047 0.11 0.209 0.331 0.494 0.672 0.802 0.888 0.95 0.984 0.997 1 1 1 1"/><feFuncB type="table" tableValues="0 0 0 0 0.003 0.014 0.047 0.11 0.209 0.331 0.494 0.672 0.802 0.888 0.95 0.984 0.997 1 1 1 1"/></feComponentTransfer><feComponentTransfer><feFuncR type="discrete" tableValues="0.702 0.702 0.702 0.702 0.702 0.702 0.702 0.702 0.702 0.702 0.702 0.702 0.702 0.702 0.702 0.702 0.702 0.702 0.702 0.702 0.702 0.702 0.702 0.702 0.702 0.702 0.702 0.702 0.302 0.302 0.302 0.302 0.302 0.302 0.302 0.302 0.302 0.302 0.302 0.302"/><feFuncG type="discrete" tableValues="0.702 0.702 0.702 0.702 0.702 0.702 0.702 0.702 0.702 0.702 0.702 0.702 0.702 0.702 0.702 0.702 0.702 0.702 0.702 0.702 0.702 0.702 0.702 0.702 0.702 0.702 0.702 0.702 0.302 0.302 0.302 0.302 0.302 0.302 0.302 0.302 0.302 0.302 0.302 0.302"/><feFuncB type="discrete" tableValues="0.702 0.702 0.702 0.702 0.702 0.702 0.702 0.702 0.702 0.702 0.702 0.702 0.702 0.702 0.702 0.702 0.702 0.702 0.702 0.702 0.702 0.702 0.702 0.702 0.702 0.702 0.702 0.702 0.302 0.302 0.302 0.302 0.302 0.302 0.302 0.302 0.302 0.302 0.302 0.302"/><feFuncA type="discrete" tableValues="1.000 1.000 1.000 1.000 1.000 1.000 1.000 1.000 1.000 1.000 1.000 1.000 1.000 1.000 1.000 1.000 1.000 1.000 1.000 1.000 1.000 1.000 1.000 1.000 1.000 1.000 1.000 1.000 1.000 1.000 1.000 1.000 1.000 1.000 1.000 1.000 1.000 1.000 1.000 1.000"/></feComponentTransfer></filter><clipPath id="tc42"><path d="M1278,400 L1300,398 L1300,430 L1278,430Z"/></clipPath><rect x="1276" y="396" width="26" height="36" filter="url(#tf42)" clip-path="url(#tc42)"/>
<filter id="tf43" x="1330" y="380" width="66" height="44" filterUnits="userSpaceOnUse" color-interpolation-filters="sRGB"><feTurbulence type="fractalNoise" baseFrequency="0.08" numOctaves="3" seed="98"/><feColorMatrix type="matrix" values="1 0 0 0 0 1 0 0 0 0 1 0 0 0 0 0 0 0 0 1"/><feComponentTransfer><feFuncR type="table" tableValues="0 0 0 0 0.003 0.014 0.047 0.11 0.209 0.331 0.494 0.672 0.802 0.888 0.95 0.984 0.997 1 1 1 1"/><feFuncG type="table" tableValues="0 0 0 0 0.003 0.014 0.047 0.11 0.209 0.331 0.494 0.672 0.802 0.888 0.95 0.984 0.997 1 1 1 1"/><feFuncB type="table" tableValues="0 0 0 0 0.003 0.014 0.047 0.11 0.209 0.331 0.494 0.672 0.802 0.888 0.95 0.984 0.997 1 1 1 1"/></feComponentTransfer><feComponentTransfer><feFuncR type="discrete" tableValues="0.702 0.702 0.702 0.702 0.702 0.702 0.702 0.702 0.702 0.702 0.702 0.702 0.702 0.702 0.702 0.702 0.702 0.702 0.702 0.702 0.702 0.702 0.302 0.302 0.302 0.302 0.302 0.302 0.302 0.302 0.302 0.302 0.302 0.302 0.302 0.302 0.302 0.302 0.302 0.302"/><feFuncG type="discrete" tableValues="0.702 0.702 0.702 0.702 0.702 0.702 0.702 0.702 0.702 0.702 0.702 0.702 0.702 0.702 0.702 0.702 0.702 0.702 0.702 0.702 0.702 0.702 0.302 0.302 0.302 0.302 0.302 0.302 0.302 0.302 0.302 0.302 0.302 0.302 0.302 0.302 0.302 0.302 0.302 0.302"/><feFuncB type="discrete" tableValues="0.702 0.702 0.702 0.702 0.702 0.702 0.702 0.702 0.702 0.702 0.702 0.702 0.702 0.702 0.702 0.702 0.702 0.702 0.702 0.702 0.702 0.702 0.302 0.302 0.302 0.302 0.302 0.302 0.302 0.302 0.302 0.302 0.302 0.302 0.302 0.302 0.302 0.302 0.302 0.302"/><feFuncA type="discrete" tableValues="1.000 1.000 1.000 1.000 1.000 1.000 1.000 1.000 1.000 1.000 1.000 1.000 1.000 1.000 1.000 1.000 1.000 1.000 1.000 1.000 1.000 1.000 1.000 1.000 1.000 1.000 1.000 1.000 1.000 1.000 1.000 1.000 1.000 1.000 1.000 1.000 1.000 1.000 1.000 1.000"/></feComponentTransfer></filter><clipPath id="tc43"><path d="M1332,382 L1360,392 L1394,402 L1392,420 L1370,422 L1345,415 L1335,400Z"/></clipPath><rect x="1330" y="380" width="66" height="44" filter="url(#tf43)" clip-path="url(#tc43)"/>
<filter id="tf44" x="1393" y="400" width="37" height="19" filterUnits="userSpaceOnUse" color-interpolation-filters="sRGB"><feTurbulence type="fractalNoise" baseFrequency="0.1" numOctaves="3" seed="105"/><feColorMatrix type="matrix" values="1 0 0 0 0 1 0 0 0 0 1 0 0 0 0 0 0 0 0 1"/><feComponentTransfer><feFuncR type="table" tableValues="0 0 0 0 0.003 0.014 0.047 0.11 0.209 0.331 0.494 0.672 0.802 0.888 0.95 0.984 0.997 1 1 1 1"/><feFuncG type="table" tableValues="0 0 0 0 0.003 0.014 0.047 0.11 0.209 0.331 0.494 0.672 0.802 0.888 0.95 0.984 0.997 1 1 1 1"/><feFuncB type="table" tableValues="0 0 0 0 0.003 0.014 0.047 0.11 0.209 0.331 0.494 0.672 0.802 0.888 0.95 0.984 0.997 1 1 1 1"/></feComponentTransfer><feComponentTransfer><feFuncR type="discrete" tableValues="0.302 0.302 0.302 0.302 0.302 0.302 0.302 0.302 0.302 0.302 0.302 0.302 0.302 0.302 0.302 0.702 0.702 0.702 0.702 0.702 0.702 0.702 0.702 0.702 0.702 0.702 0.702 0.702 0.702 0.702 0.702 0.702 0.702 0.702 0.702 0.702 0.702 0.702 0.702 0.702"/><feFuncG type="discrete" tableValues="0.302 0.302 0.302 0.302 0.302 0.302 0.302 0.302 0.302 0.302 0.302 0.302 0.302 0.302 0.302 0.702 0.702 0.702 0.702 0.702 0.702 0.702 0.702 0.702 0.702 0.702 0.702 0.702 0.702 0.702 0.702 0.702 0.702 0.702 0.702 0.702 0.702 0.702 0.702 0.702"/><feFuncB type="discrete" tableValues="0.302 0.302 0.302 0.302 0.302 0.302 0.302 0.302 0.302 0.302 0.302 0.302 0.302 0.302 0.302 0.702 0.702 0.702 0.702 0.702 0.702 0.702 0.702 0.702 0.702 0.702 0.702 0.702 0.702 0.702 0.702 0.702 0.702 0.702 0.702 0.702 0.702 0.702 0.702 0.702"/><feFuncA type="discrete" tableValues="1.000 1.000 1.000 1.000 1.000 1.000 1.000 1.000 1.000 1.000 1.000 1.000 1.000 1.000 1.000 1.000 1.000 1.000 1.000 1.000 1.000 1.000 1.000 1.000 1.000 1.000 1.000 1.000 1.000 1.000 1.000 1.000 1.000 1.000 1.000 1.000 1.000 1.000 1.000 1.000"/></feComponentTransfer></filter><clipPath id="tc44"><path d="M1395,402 L1428,402 L1428,417 L1395,417Z"/></clipPath><rect x="1393" y="400" width="37" height="19" filter="url(#tf44)" clip-path="url(#tc44)"/>
<filter id="tf45" x="1234" y="478" width="55" height="54" filterUnits="userSpaceOnUse" color-interpolation-filters="sRGB"><feTurbulence type="fractalNoise" baseFrequency="0.12" numOctaves="3" seed="101"/><feColorMatrix type="matrix" values="1 0 0 0 0 1 0 0 0 0 1 0 0 0 0 0 0 0 0 1"/><feComponentTransfer><feFuncR type="table" tableValues="0 0 0 0 0.003 0.014 0.047 0.11 0.209 0.331 0.494 0.672 0.802 0.888 0.95 0.984 0.997 1 1 1 1"/><feFuncG type="table" tableValues="0 0 0 0 0.003 0.014 0.047 0.11 0.209 0.331 0.494 0.672 0.802 0.888 0.95 0.984 0.997 1 1 1 1"/><feFuncB type="table" tableValues="0 0 0 0 0.003 0.014 0.047 0.11 0.209 0.331 0.494 0.672 0.802 0.888 0.95 0.984 0.997 1 1 1 1"/></feComponentTransfer><feComponentTransfer><feFuncR type="discrete" tableValues="0.702 0.702 0.702 0.702 0.702 0.702 0.702 0.702 0.702 0.702 0.702 0.702 0.702 0.702 0.702 0.702 0.702 0.702 0.702 0.702 0.702 0.702 0.702 0.702 0.702 0.702 0.702 0.702 0.702 0.110 0.110 0.110 0.110 0.110 0.110 0.110 0.110 0.110 0.110 0.110"/><feFuncG type="discrete" tableValues="0.702 0.702 0.702 0.702 0.702 0.702 0.702 0.702 0.702 0.702 0.702 0.702 0.702 0.702 0.702 0.702 0.702 0.702 0.702 0.702 0.702 0.702 0.702 0.702 0.702 0.702 0.702 0.702 0.702 0.447 0.447 0.447 0.447 0.447 0.447 0.447 0.447 0.447 0.447 0.447"/><feFuncB type="discrete" tableValues="0.702 0.702 0.702 0.702 0.702 0.702 0.702 0.702 0.702 0.702 0.702 0.702 0.702 0.702 0.702 0.702 0.702 0.702 0.702 0.702 0.702 0.702 0.702 0.702 0.702 0.702 0.702 0.702 0.702 0.808 0.808 0.808 0.808 0.808 0.808 0.808 0.808 0.808 0.808 0.808"/><feFuncA type="discrete" tableValues="1.000 1.000 1.000 1.000 1.000 1.000 1.000 1.000 1.000 1.000 1.000 1.000 1.000 1.000 1.000 1.000 1.000 1.000 1.000 1.000 1.000 1.000 1.000 1.000 1.000 1.000 1.000 1.000 1.000 1.000 1.000 1.000 1.000 1.000 1.000 1.000 1.000 1.000 1.000 1.000"/></feComponentTransfer></filter><clipPath id="tc45"><path d="M1236,526 L1244,520 L1256,508 L1264,497 L1262,480 L1271,480 L1272,492 L1280,486 L1287,485 L1280,494 L1268,504 L1256,516 L1246,526 L1240,530Z"/></clipPath><rect x="1234" y="478" width="55" height="54" filter="url(#tf45)" clip-path="url(#tc45)"/>
<ellipse cx="756" cy="368" rx="15" ry="19" fill="#1c72ce"/>
<ellipse cx="756" cy="368" rx="12" ry="16" fill="#4a8fa0"/>
<ellipse cx="756" cy="368" rx="10" ry="14" fill="#b3d244"/>
<ellipse cx="756" cy="368" rx="7.5" ry="11" fill="#cc0000"/>
<ellipse cx="756" cy="368" rx="4" ry="7" fill="#4d4d4d"/>
<path d="M1118,392 L1122,380 L1128,384 L1134,396 L1140,410 L1145,420 L1150,426 L1118,426Z" fill="#4a8fa0"/>
<path d="M1118,392 L1122,380 L1127,386 L1132,398 L1136,410 L1138,420 L1118,420Z" fill="#b3d244"/>
<path d="M1118,392 L1122,380 L1126,388 L1129,398 L1128,406 L1120,408Z" fill="#f0a800"/>
<path d="M1118,392 L1122,380 L1125,388 L1124,397 L1119,399Z" fill="#cc0000"/>
<path d="M1178,405 L1186,401 L1192,404 L1190,416 L1182,420 L1178,414Z" fill="#b3d244"/>
<filter id="tf46" x="1460" y="350" width="60" height="32" filterUnits="userSpaceOnUse" color-interpolation-filters="sRGB"><feTurbulence type="fractalNoise" baseFrequency="0.2" numOctaves="3" seed="103"/><feColorMatrix type="matrix" values="1 0 0 0 0 1 0 0 0 0 1 0 0 0 0 0 0 0 0 1"/><feComponentTransfer><feFuncR type="table" tableValues="0 0 0 0 0.003 0.014 0.047 0.11 0.209 0.331 0.494 0.672 0.802 0.888 0.95 0.984 0.997 1 1 1 1"/><feFuncG type="table" tableValues="0 0 0 0 0.003 0.014 0.047 0.11 0.209 0.331 0.494 0.672 0.802 0.888 0.95 0.984 0.997 1 1 1 1"/><feFuncB type="table" tableValues="0 0 0 0 0.003 0.014 0.047 0.11 0.209 0.331 0.494 0.672 0.802 0.888 0.95 0.984 0.997 1 1 1 1"/></feComponentTransfer><feComponentTransfer><feFuncR type="discrete" tableValues="0.800 0.800 0.800 0.800 0.800 0.800 0.800 0.800 0.800 0.800 0.800 0.800 0.302 0.302 0.302 0.302 0.302 0.302 0.302 0.302 0.302 0.302 0.302 0.302 0.302 0.302 0.302 0.302 0.302 0.302 0.302 0.302 0.302 0.302 0.302 0.302 0.302 0.302 0.302 0.302"/><feFuncG type="discrete" tableValues="0.000 0.000 0.000 0.000 0.000 0.000 0.000 0.000 0.000 0.000 0.000 0.000 0.302 0.302 0.302 0.302 0.302 0.302 0.302 0.302 0.302 0.302 0.302 0.302 0.302 0.302 0.302 0.302 0.302 0.302 0.302 0.302 0.302 0.302 0.302 0.302 0.302 0.302 0.302 0.302"/><feFuncB type="discrete" tableValues="0.000 0.000 0.000 0.000 0.000 0.000 0.000 0.000 0.000 0.000 0.000 0.000 0.302 0.302 0.302 0.302 0.302 0.302 0.302 0.302 0.302 0.302 0.302 0.302 0.302 0.302 0.302 0.302 0.302 0.302 0.302 0.302 0.302 0.302 0.302 0.302 0.302 0.302 0.302 0.302"/><feFuncA type="discrete" tableValues="1.000 1.000 1.000 1.000 1.000 1.000 1.000 1.000 1.000 1.000 1.000 1.000 1.000 1.000 1.000 1.000 1.000 1.000 1.000 1.000 1.000 1.000 1.000 1.000 1.000 1.000 1.000 1.000 1.000 1.000 1.000 1.000 1.000 1.000 1.000 1.000 1.000 1.000 1.000 1.000"/></feComponentTransfer></filter><clipPath id="tc46"><path d="M1462,372 L1480,362 L1500,354 L1515,352 L1518,358 L1500,362 L1482,370 L1466,380Z"/></clipPath><rect x="1460" y="350" width="60" height="32" filter="url(#tf46)" clip-path="url(#tc46)"/>
</g>
</g>
<path d="M1057,266 L1062,261 L1072,256 L1077,257 L1076,261 L1068,265 L1061,269Z M1161,300 L1168,300 L1168,311 L1180,311 L1180,318 L1166,318Z" fill="#4d4d4d"/>
<path d="M1190,877 L1194,877 L1194,880 L1190,880Z M400,628 L412,627 L414,631 L402,632Z M440,644 L445,645 L446,649 L441,648Z M441,655 L445,660 L446,664 L442,662Z" fill="#1c72ce"/>
<path d="M1248,857 L1241,865 L1232,872 L1222,876 L1212,879" fill="none" stroke="#1c72ce" stroke-width="3" stroke-linecap="round"/>
<path d="M354,525 L355.5,520.4 L363.4,522 L366.5,526.7 L365,529.8 L369.6,539.3 L366.5,540.8 L360.2,534.5 L357,529.8Z M1083.5,715 L1086.5,715 L1087.5,726 L1083,726Z M1193,787 L1199,786 L1203,794 L1199,800 L1194,795Z M1205,815 L1209,815 L1211,822 L1206,822Z M934,742 L943,739 L945,747 L938,752Z M1453,437 L1458,436 L1460,438 L1455,439.5Z M1463,438 L1467,437.5 L1467,440 L1463,440Z M1321,569 L1324,568.5 L1326,574 L1331,573 L1336,571 L1338,576 L1334,579 L1329,579 L1322,578Z M1334,582 L1338,582.5 L1339,587 L1335,588Z M1317,589 L1323,588 L1331,590 L1337,591 L1340,594 L1332,595 L1324,594 L1317,592.5Z M1316,602 L1320,601 L1325,603.5 L1329,606.5 L1327,610.5 L1322,610 L1318,607Z M1431,425 L1437,425.5 L1445,428.5 L1451,432 L1447,435.5 L1440,435 L1434,433.5Z M1134,338 L1138,337 L1139,346 L1135,348Z" fill="#000" stroke="#000" stroke-width="2.5" stroke-linejoin="round"/>
<path d="M1336,481 L1331,488 L1328,496 L1330,502 L1326,508 L1328,514 L1324,520 L1327,527 L1324,533 L1329,540 L1331,546 L1335,553 M1341,481 L1340,490 L1337,498 L1339,506 L1335,512 L1338,520 L1336,528 L1339,537 L1337,545 L1338.9,551.2 M1033,731 L1037,726 L1045,725 L1050,729 L1048,735 L1040,737 L1034,735 L1033,731 M912,770 L904,776 L896,783 L889,792 L884,801 L881,810 M1100,346 L1103,340 L1106,334" fill="none" stroke="#000" stroke-width="3" stroke-linejoin="round" stroke-linecap="round"/>
<path d="M1381,451 L1390,447.5 L1402,445.5 L1415,443 L1426,440.5 L1425,444 L1415,448.5 L1400,452.5 L1388,455.5 L1381,456.5Z" fill="#dc3a00" stroke="#000" stroke-width="2.4" stroke-linejoin="round"/>
<path d="M352,236.2 L346,243 L344,247.4 L348,252 L353,255 L358,257 L362,261 L360,267.6 L361,276.6 L358.6,283.3 L351.5,287 L347,283.3 L346,274.3 L349,267.6 L352.7,262 L349.3,258.6Z" fill="#000" stroke="#000" stroke-width="2.6" stroke-linejoin="round"/>
<g fill="none" stroke="#000" stroke-width="3.3" stroke-linejoin="round" stroke-linecap="round">
<path d="M352,235.4 L933.5,235.4 L933.5,226.5 L941.5,226.5 L943.5,235 L945,241 L952,242 L962,247 L970,245 L980,246 L990,252 L996,254 L1006,258 L1018,256 L1024,255 L1032,259 L1042,260 L1053,262 L1047,263.5 L1040,266 L1024,274 L1010,286 L996,294 L993,298 L1000,295 L1008,291 L1016,289 L1021,287 L1023,292 L1030,297 L1038,298 L1045,293 L1055,291 L1063,287 L1073,281 L1080,276 L1090,276 L1089,279 L1082,283 L1077,288 L1075,295 L1078,290 L1085,290 L1092,293 L1098,300 L1105,300 L1112,303 L1120,298 L1130,296 L1140,295 L1149,294.5 L1147,301 L1155,302 L1162,302 L1164,308 L1168,312 L1171,315 L1160,315 L1153,314 L1149,315 L1140,312 L1135,313 L1125,315 L1118,317 L1115,320 L1110,318 L1106,317 L1102,325 L1097,334 L1092,340 L1087,348 L1084.5,353 L1088,346 L1093,339 L1099,332 L1104,326 L1106,328 L1101,335 L1096,342 L1092,352 L1090.4,365.4 L1087.5,375.6 L1086,388.7 L1087.5,400.3 L1089,412 L1091.9,422.2 L1096.2,428 L1100.6,429.5 L1107.9,426.5 L1113.7,422.2 L1118,415 L1121,404.7 L1121,391.6 L1118,382.8 L1115.2,372.6 L1116.6,363.9 L1121,353.7 L1122.4,345 L1128.3,340.6 L1135.6,336.2 L1144.3,329 L1148.7,323 L1151,319.5 L1157.4,321.7 L1165,323.5 L1172,326 L1182.2,334.8 L1185,342 L1182.2,353.7 L1177.8,364 L1172,371.2 L1174.9,377 L1180.7,374 L1186.5,366.8 L1193.8,365.4 L1198.2,371.2 L1199.7,382.8 L1201,394.5 L1198.2,401.8 L1192.4,404.7 L1188,412 L1183.6,420.7 L1180.7,426.5 L1186.5,428.5 L1190,433 L1200,434 L1210,432 L1220,430 L1230,426 L1240,421 L1250,418 L1258,415 L1268,408 L1276,400 L1274,392 L1273,386 L1280,384 L1300,384 L1316,384 L1322,383 L1328,380 L1333,374 L1329,366 L1332,362 L1338,358 L1344,350 L1352,344 L1360,340.8 L1431,340.8 L1434,333 L1441,332 L1448,326 L1456,318 L1458,308 L1462,298 L1468,290 L1480,275 L1484,281 L1488,282 L1498,278 L1502,279 L1511,286 L1511.6,320 L1516,325 L1517,332 L1522,336 L1526,342 L1527,346 L1520,351 L1512,354 L1500,356 L1492,355 L1488,353 L1484,360 L1476,366 L1468,372 L1460,376 L1456,382 L1451,386 L1447,391 L1445,396.8 L1447.6,403.5 L1445,408.3 L1442.3,411 L1445,413.6 L1449.7,417.7 L1452,422 L1453.5,425.5 L1458,425 L1461.5,423 L1462,420.5 L1460,418.5 L1457.5,417.5 L1459,415.5 L1462.5,416.5 L1465.5,420 L1466.5,425 L1466,429.5 L1460,431 L1455,431.5 L1450,433 L1447.6,433 L1441,431 L1436.2,428.4 L1435,431 L1433,434.5 L1430,436 L1426,436.5 L1420,437 L1410,438.5 L1402.5,439.5 L1396.6,441.7 L1388,446 L1382,449 L1379.5,452 L1380.5,456 L1381,460.4 L1379.2,468.8 L1377.5,477 L1374,485.6 L1367.4,494 L1360.7,500.7 L1358,498 L1354,492.3 L1350.6,485.6 L1348,482 L1346.5,483 L1349,490.6 L1354,494 L1357,500.7 L1358,507.4 L1355.7,514 L1354,521 L1350.6,529.3 L1347.3,537.7 L1342.2,546 L1338.9,551.2 L1335.5,554.5 L1338.9,561.2 L1340.5,566 L1342,570 L1346,578 L1349,588 L1349,597 L1340,602 L1332,607 L1328,610 L1324,615 L1320,614 L1306,618 L1300,626 L1296,632 L1290,633 L1284,634 L1276,640 L1270,648 L1264,656 L1254,664 L1244,670 L1234,678 L1228,688 L1224,700 L1222,712 L1221.6,717 L1223.8,728 L1228.3,743.8 L1232.8,757.2 L1237.2,770.7 L1241.7,784 L1248.4,802 L1251.8,815.5 L1251.8,833.5 L1250.7,846.9 L1246.2,855.9 L1241.7,861.5 L1235,863.7 L1228.3,860.3 L1223.8,851.4 L1217,842.4 L1210.3,829 L1205.9,817.8 L1201.4,811 L1196.9,797.6 L1192.4,790.9 L1194.7,784 L1196.9,770.7 L1194.7,761.7 L1188,755 L1179,743.8 L1170,734.8 L1163.3,734.8 L1156.6,739.3 L1147.6,743.8 L1138.6,743.8 L1136.4,734.8 L1129.7,728 L1120.7,723.6 L1108,726 L1099,727 L1090,728.7 L1087,726 L1085.5,718 L1083.5,718 L1083.5,726 L1080,726 L1072,724.2 L1063.2,724.2 L1055,726 L1051.5,727.8 L1050,733 L1055,731.4 L1058.7,734 L1058.7,737.7 L1054.2,743 L1049.7,746.6 L1053.3,755.6 L1058.7,757.4 L1062.3,759.2 L1060.5,762 L1055,762.8 L1046,752 L1042.5,752 L1039,759.2 L1035.4,755.6 L1030,754.7 L1024.6,759.2 L1018.3,755.6 L1013.8,750.2 L1008.4,743 L1003,741.3 L997.7,743 L995,748.4 L987,748.4 L978,744 L969,741.3 L960,743 L950,748 L940,754 L932,762 L924,768 L912,774 L900,784 L892,794 L888,802 L886,814 L888,828 L892,842 L886,845 L876,842 L866,840 L852,834 L848,828 L842,810 L840,800 L830,788 L822,774 L816,760 L808,750 L800,743 L784,740 L778,742 L772,752 L768,760 L762,764 L752,758 L742,752 L734,744 L732,732 L726,722 L716,714 L708,704 L700,695 L694,689.1 L658.5,689.1 L658.5,701 L598.2,701 L519.4,670.4 L521.3,664.4 L470.7,669.4 L468,660 L464,652 L458,644 L452,639 L444,636 L440,631 L432,629 L424,624 L416,620 L402,619 L398,616 L396,608 L394,598 L390,592 L382,582 L374,574 L370,566 L369,560 L368,551 L360,543 L354,531 L347,521 L342,511 L336,503 L332,495 L328,479 L322,469 L318,459 L320,447 L322,435 L321,419 L319,407 L317,400 L314.6,397.4 L316,391.6 L320.4,380 L323.3,368.3 L325.5,346.4 L327,324.6 L327.7,310 L329,307 L326,303.5 L327,294.5 L329,290 L326,288 L322.4,281 L318,270 L313.5,262 L310.7,252 L322.4,254.2 L333.6,256.4 L343.7,257.5 L349,258.6 L352,250 L350,243 L352,236Z"/>
<path d="M329,307 L336,308 L348,312 L352,318 L354,324 L366,326 L386,324 L408,319 L430,314.4 L452,313.6 L474,313.6 M472.5,235.4 L472.5,313.6 M474,313.6 L481,318 L483,326 L480,336 L476,344 L470,352 L469,358 L474,362 L473.5,420 M320,420 L598,420 M493,235.4 L493,262 L498,272 L510,284 L520,294 L529,297 L528,306 L526,318 L529,322 L536,323 L542,330 L548,340 L554,346 L560,356 L572,354 L590,352 L596,350 L598,348 M598,341.6 L598,446 M410,420 L410,498.9 L523.2,604.3 M535.8,420 L535.8,570 L534,570 L532,576 L522,574 L520,580 L522,598 L523.2,604.3 M523.2,604.3 L524,606 L528,618 L534,624 L528,632 L522,640 L521,648 L526,658 L521.3,664.4 M535.8,551.6 L945,551.6 M598,446 L788.4,446 M640.8,446 L640.8,701 M598,340.8 L746.2,340.8 M746.2,235.4 L746.2,446 M746.2,316 L903,316 M746.2,393.5 L863.2,393.5 L866,395 L872,399 L880,397 L896,397 L901,399 L906,403 L908.2,406.7 M903,316 L898,324 L907.3,331 L907.3,380.3 L907,395 L908.2,406.7 M908.2,406.7 L910,411 L916,427 L918,439 L919,453 L921,459 L926,469 L932,473 L939,477 L935,483 L940,493 L945,495 L945,551.6 M788.4,472.6 L930,472.6 M788.4,446 L788.4,551.6 M768,551.6 L768,683.4 L692.1,683.4 L694,689.1 M768,564.8 L831.6,564.8 L831.6,616 M831.6,616 L840,619 L850,624 L860,628 L872,629 L880,634 L890,636 L900,634 L910,638 L920,634 L932,632 L940,636 L950,641 L957.2,642 M945,551.6 L945.5,565 L948.5,590 L948,640 L950,641 M957.2,642 L957.2,683.4 L960,688 L964,696 L968,709 L964.5,722.4 L961.8,735.9 L960,743 M945.5,564.8 L1039.7,564.8 L1036,572 L1034,578 L1047,578 M957.2,656.5 L1016.5,656.5 M1008,709.7 L1049,709.7 L1046,712.6 L1045.2,719.7 L1049.7,725 L1051.5,727.8 M993,298 L992,312 L982,320 L981,326 L984,334 L982,346 L988,354 L1000,358 L1008,364 L1012,370 L1013,380.3 L1016,388 L1018,395 L1026,401 L1032,409 L1038,417 L1036,425 L1030,431 L1020,435 L1018,443 L1020,449 L1016,455 L1012,459 L1010,467 L1011,475 L1018,485 L1026,493 L1030,501 L1036,503 L1038,509 L1034,517 L1040,523 L1048,531 L1052,539 L1054,547 L1058,555 L1056,563 L1050,568 L1048,576 L1044,588 L1040,600 L1034,612 L1026,620 L1020,628 L1016,640 L1018,656 L1020,666 L1022,676 L1018,684 L1012,696 L1008,709.7 M922,457 L1008,457 L1011,463 M907.3,380.3 L1013,380.3 M1031,406.7 L1087.5,406.7 M1093,428 L1093,490 L1094,495 L1094,505 L1088,515 L1084,525 L1082,531 M1058,555 L1064,551 L1072,543 L1076,535 L1082,531 L1090,527 L1100,527 L1110,523 L1120,521 L1130,517 L1140,507 L1146,504 L1150,500 L1156,496 L1164,500 L1176,506 L1188,506 L1196,508 L1200,512 L1204,508 L1208,500 L1214,494 L1220,489 L1228,484 L1234,478 L1238,470 L1242.3,455.4 M1152,426 L1152,497 M1113,424.5 L1152,426 L1180.7,427 M1242.3,421 L1242.3,479 M1242.3,479 L1343,479 M1264.2,479 L1264.2,493.6 L1270,490 L1280,484 L1288,484 L1296,489 L1300,494 M1216,544 L1226,544 L1236,540 L1244,538 L1250,530 L1254,520 L1260,510 L1268,504 L1276,498 L1284,492 L1288,486 L1294,489 L1300,494 M1300,494 L1308.6,497.4 L1315.3,500.7 L1317,507.4 L1310.3,514 L1313.6,519 L1320.4,524.3 L1327,534.3 M1196,508 L1198,518 L1200,524 L1206,534 L1212,540 L1216,544 M1216,544 L1208,548 L1198,553 L1186,557 L1175,560 L1168.2,562 M1056,562 L1168.2,561.5 L1218.4,562 M1218.4,563.5 L1340.5,563.5 M1218.4,562.5 L1216,568 L1208,574 L1196,584 L1180,592 L1170,596 L1162,600 L1160,604.5 M1042,604.5 L1186,604.5 M1186,604.5 L1196,601 L1232,600 L1236,608 L1260,609 L1284,633 M1186,604.5 L1182,612 L1192,618 L1198,628 L1208,644 L1218,656 L1224,664 L1228,676 L1234,678 M1135,604.5 L1138,626 L1141.7,650 L1144,656 L1148,678 L1144,692 L1146,708 L1147.6,712.4 L1149.8,717.5 M1149.8,717.5 L1209,722 L1210,727 L1213,718 L1221.6,717 M1093,709.7 L1147,709.7 M1093,709.7 L1093.8,714.7 L1091.6,723.6 L1090,728.7 M1082,604.5 L1078,660 L1075,720 L1075,725 M1038,298 L1039,305 L1050,309 L1065,313 L1080,317 L1084,321 L1088,326 L1090,332 L1091,338 L1092,340 M889,235.4 L890,242 L891,258 L896,270 L898,282 L898,292 L901,302 L903,310 L903,316 M1258.3,415 L1258.3,420 L1350,420 M1350,420 L1356,426 L1360,434 L1361,437 L1381,446 M1361,437 L1357.4,445 L1354,453.6 L1359,460 L1364,468.8 L1357.4,472 L1350.6,475.5 L1347,479 L1343,479 M1343,479 L1343,514 L1355.7,514 M1394,340.8 L1392,342 L1391,362 L1393,374 L1394.5,400.9 L1393.8,403.5 L1391,412 L1389.8,419 L1388.4,427 L1387.5,440 L1388,446 M1394.5,400.9 L1435.5,400.9 L1441,398 L1445,396.8 M1389.8,419 L1435,419 L1435.5,427 L1436.2,428.4 M1426,419 L1426,436.5 M1431,340.8 L1428,350 L1422,358 L1418,366 L1414,376 L1412.7,380 L1411.3,388.7 L1410,400.9 M1441,332 L1446,394"/>
</g>
<text x="1571.2" y="402.8" class="lt">Relative pop. size</text>
<rect x="1571" y="417.10" width="25" height="25.78" fill="#4d4d4d"/><text x="1607.2" y="437.40" class="lg">excl.-severe</text><rect x="1571" y="442.58" width="25" height="25.78" fill="#b3b3b3"/><text x="1607.2" y="462.88" class="lg">excl.-moderate</text><rect x="1571" y="468.05" width="25" height="25.78" fill="#1b6fcf"/><text x="1607.2" y="488.35" class="lg">0-10</text><rect x="1571" y="493.53" width="25" height="25.78" fill="#478fa0"/><text x="1607.2" y="513.83" class="lg">10-20</text><rect x="1571" y="519.00" width="25" height="25.78" fill="#7aac70"/><text x="1607.2" y="539.30" class="lg">20-30</text><rect x="1571" y="544.48" width="25" height="25.78" fill="#b3d23f"/><text x="1607.2" y="564.77" class="lg">30-40</text><rect x="1571" y="569.95" width="25" height="25.78" fill="#e5ec1c"/><text x="1607.2" y="590.25" class="lg">40-50</text><rect x="1571" y="595.43" width="25" height="25.78" fill="#f7de00"/><text x="1607.2" y="615.73" class="lg">50-60</text><rect x="1571" y="620.90" width="25" height="25.78" fill="#f0a900"/><text x="1607.2" y="641.20" class="lg">60-70</text><rect x="1571" y="646.38" width="25" height="25.78" fill="#e86f00"/><text x="1607.2" y="666.67" class="lg">70-80</text><rect x="1571" y="671.85" width="25" height="25.78" fill="#dc3a00"/><text x="1607.2" y="692.15" class="lg">80-90</text><rect x="1571" y="697.33" width="25" height="25.78" fill="#cc0000"/><text x="1607.2" y="717.62" class="lg">90-100</text>
</svg>
</body></html>
